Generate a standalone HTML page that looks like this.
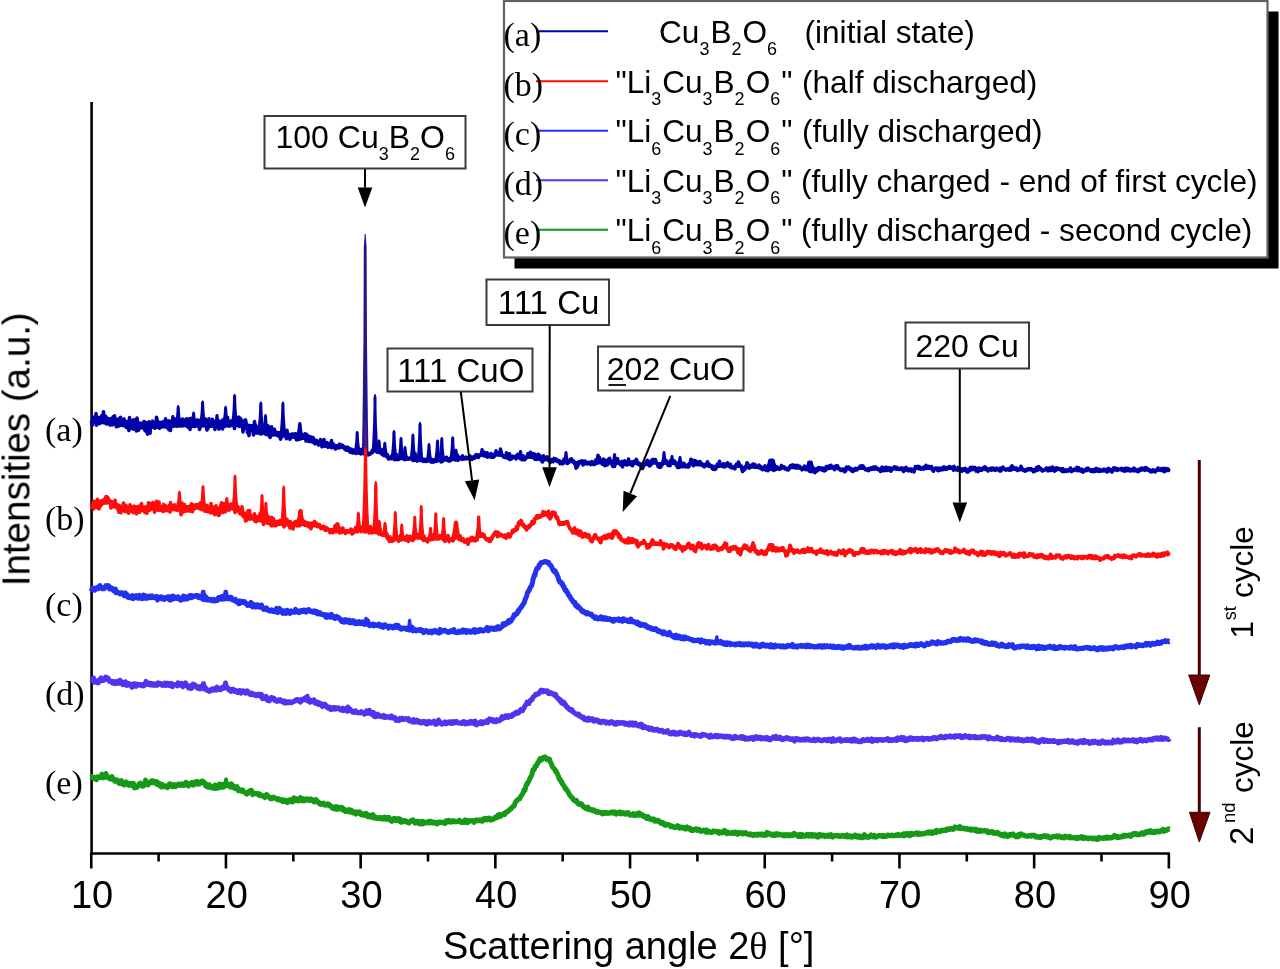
<!DOCTYPE html>
<html><head><meta charset="utf-8"><style>
html,body{margin:0;padding:0;background:#fff;width:1280px;height:969px;overflow:hidden}
svg{display:block}
</style></head><body>
<svg width="1280" height="969" viewBox="0 0 1280 969">
<defs><filter id="soft" x="0" y="0" width="1280" height="969" filterUnits="userSpaceOnUse"><feGaussianBlur stdDeviation="0.45"/></filter></defs>
<rect width="1280" height="969" fill="#fff"/>
<g filter="url(#soft)">
<rect width="1280" height="969" fill="#fff"/>
<g stroke="#000" stroke-width="2.6" fill="none">
<line x1="91.6" y1="102" x2="91.6" y2="855"/>
<line x1="90.3" y1="853.5" x2="1169.8" y2="853.5"/>
<line x1="91.25" y1="853" x2="91.25" y2="868.5"/>
<line x1="158.60" y1="853" x2="158.60" y2="861.5"/>
<line x1="225.95" y1="853" x2="225.95" y2="868.5"/>
<line x1="293.30" y1="853" x2="293.30" y2="861.5"/>
<line x1="360.65" y1="853" x2="360.65" y2="868.5"/>
<line x1="428.00" y1="853" x2="428.00" y2="861.5"/>
<line x1="495.35" y1="853" x2="495.35" y2="868.5"/>
<line x1="562.70" y1="853" x2="562.70" y2="861.5"/>
<line x1="630.05" y1="853" x2="630.05" y2="868.5"/>
<line x1="697.40" y1="853" x2="697.40" y2="861.5"/>
<line x1="764.75" y1="853" x2="764.75" y2="868.5"/>
<line x1="832.10" y1="853" x2="832.10" y2="861.5"/>
<line x1="899.45" y1="853" x2="899.45" y2="868.5"/>
<line x1="966.80" y1="853" x2="966.80" y2="861.5"/>
<line x1="1034.15" y1="853" x2="1034.15" y2="868.5"/>
<line x1="1101.50" y1="853" x2="1101.50" y2="861.5"/>
<line x1="1168.85" y1="853" x2="1168.85" y2="868.5"/>
</g>
<g style="font-family:'Liberation Sans',sans-serif;font-size:38px" fill="#000" text-anchor="middle">
<text x="92.05" y="907.5">10</text>
<text x="226.75" y="907.5">20</text>
<text x="361.45" y="907.5">30</text>
<text x="496.15" y="907.5">40</text>
<text x="630.85" y="907.5">50</text>
<text x="765.55" y="907.5">60</text>
<text x="900.25" y="907.5">70</text>
<text x="1034.95" y="907.5">80</text>
<text x="1169.65" y="907.5">90</text>
</g>
<text x="443" y="959.3" style="font-family:'Liberation Sans',sans-serif;font-size:38px">Scattering angle 2<tspan style="font-family:'Liberation Serif',serif">θ</tspan> [°]</text>
<text transform="translate(29.5,586.2) rotate(-90)" style="font-family:'Liberation Sans',sans-serif;font-size:38.5px">Intensities (a.u.)</text>
<g style="font-family:'Liberation Serif',serif;font-size:34px">
<text x="45" y="441.3">(a)</text>
<text x="45" y="530.2">(b)</text>
<text x="45" y="616.2">(c)</text>
<text x="45" y="705.3">(d)</text>
<text x="45" y="794.4">(e)</text>
</g>
<g fill="#0000a8"><polygon points="91.5,415.3 92.5,415.3 93.5,415.4 94.5,415.4 95.5,415.5 96.5,415.5 97.5,415.6 98.5,415.7 99.5,415.7 100.5,415.8 101.5,416.0 102.5,416.1 103.5,416.3 104.5,416.5 105.5,416.6 106.5,416.8 107.5,416.9 108.5,417.1 109.5,417.3 110.5,417.4 111.5,417.6 112.5,417.7 113.5,417.9 114.5,418.1 115.5,418.2 116.5,418.4 117.5,418.5 118.5,418.7 119.5,418.8 120.5,419.0 121.5,419.1 122.5,419.2 123.5,419.4 124.5,419.5 125.5,419.6 126.5,419.7 127.5,419.9 128.5,420.0 129.5,420.1 130.5,420.2 131.5,420.4 132.5,420.5 133.5,420.6 134.5,420.8 135.5,420.9 136.5,421.0 137.5,421.1 138.5,421.3 139.5,421.4 140.5,421.5 141.5,421.6 142.5,421.7 143.5,421.8 144.5,421.7 145.5,421.7 146.5,421.6 147.5,421.6 148.5,421.5 149.5,421.4 150.5,421.4 151.5,421.3 152.5,421.2 153.5,421.2 154.5,421.1 155.5,421.1 156.5,421.0 157.5,420.9 158.5,420.9 159.5,420.8 160.5,420.7 161.5,420.7 162.5,420.6 163.5,420.5 164.5,420.5 165.5,420.4 166.5,420.4 167.5,420.3 168.5,420.3 169.5,420.2 170.5,420.2 171.5,420.1 172.5,420.1 173.5,420.0 174.5,420.0 175.5,419.9 176.5,419.9 177.5,419.8 178.5,419.8 179.5,419.7 180.5,419.7 181.5,419.6 182.5,419.6 183.5,419.5 184.5,419.5 185.5,419.5 186.5,419.5 187.5,419.5 188.5,419.5 189.5,419.5 190.5,419.6 191.5,419.6 192.5,419.6 193.5,419.6 194.5,419.7 195.5,419.7 196.5,419.7 197.5,419.7 198.5,419.8 199.5,419.8 200.5,419.8 201.5,419.8 202.5,419.9 203.5,419.9 204.5,419.9 205.5,419.9 206.5,420.0 207.5,420.0 208.5,420.0 209.5,420.0 210.5,419.9 211.5,419.9 212.5,419.9 213.5,419.9 214.5,419.9 215.5,419.9 216.5,419.9 217.5,419.8 218.5,419.8 219.5,419.8 220.5,419.8 221.5,419.8 222.5,419.8 223.5,419.8 224.5,419.8 225.5,419.7 226.5,419.7 227.5,419.7 228.5,419.7 229.5,419.7 230.5,419.7 231.5,419.7 232.5,419.7 233.5,419.6 234.5,419.6 235.5,419.6 236.5,419.6 237.5,419.6 238.5,419.6 239.5,419.7 240.5,419.9 241.5,420.4 242.5,420.9 243.5,421.4 244.5,422.0 245.5,422.5 246.5,423.0 247.5,423.4 248.5,423.7 249.5,423.8 250.5,424.0 251.5,424.2 252.5,424.3 253.5,424.5 254.5,424.7 255.5,424.9 256.5,425.1 257.5,425.4 258.5,425.7 259.5,426.0 260.5,426.2 261.5,426.5 262.5,426.8 263.5,427.1 264.5,427.3 265.5,427.6 266.5,427.9 267.5,428.2 268.5,428.4 269.5,428.7 270.5,429.0 271.5,429.3 272.5,429.5 273.5,429.8 274.5,430.1 275.5,430.3 276.5,430.5 277.5,430.7 278.5,430.9 279.5,431.1 280.5,431.2 281.5,431.4 282.5,431.6 283.5,431.8 284.5,432.0 285.5,432.1 286.5,432.3 287.5,432.5 288.5,432.7 289.5,432.8 290.5,433.0 291.5,433.2 292.5,433.4 293.5,433.5 294.5,433.7 295.5,433.9 296.5,434.1 297.5,434.2 298.5,434.4 299.5,434.6 300.5,434.7 301.5,434.9 302.5,435.1 303.5,435.2 304.5,435.4 305.5,435.7 306.5,436.0 307.5,436.4 308.5,436.7 309.5,437.1 310.5,437.4 311.5,437.8 312.5,438.1 313.5,438.5 314.5,438.8 315.5,439.2 316.5,439.5 317.5,439.9 318.5,440.2 319.5,440.6 320.5,440.9 321.5,441.1 322.5,441.4 323.5,441.6 324.5,441.9 325.5,442.1 326.5,442.4 327.5,442.6 328.5,442.9 329.5,443.1 330.5,443.4 331.5,443.7 332.5,443.9 333.5,444.2 334.5,444.4 335.5,444.6 336.5,444.8 337.5,444.9 338.5,445.1 339.5,445.3 340.5,445.5 341.5,445.6 342.5,445.8 343.5,446.0 344.5,446.2 345.5,446.5 346.5,446.9 347.5,447.3 348.5,447.8 349.5,448.3 350.5,448.7 351.5,449.2 352.5,449.6 353.5,449.8 354.5,450.0 355.5,450.2 356.5,450.3 357.5,450.4 358.5,450.6 359.5,450.7 360.5,450.8 361.5,451.0 362.5,451.1 363.5,451.2 364.5,451.4 365.5,451.5 366.5,451.7 367.5,451.8 368.5,451.9 369.5,452.0 370.5,451.8 371.5,451.4 372.5,451.0 373.5,450.5 374.5,450.0 375.5,449.7 376.5,449.7 377.5,449.9 378.5,450.3 379.5,450.7 380.5,451.2 381.5,451.7 382.5,452.3 383.5,452.9 384.5,453.5 385.5,454.1 386.5,454.7 387.5,455.3 388.5,455.9 389.5,456.4 390.5,456.7 391.5,456.8 392.5,456.8 393.5,456.8 394.5,456.8 395.5,456.8 396.5,456.8 397.5,456.8 398.5,456.8 399.5,456.8 400.5,456.9 401.5,457.0 402.5,457.1 403.5,457.2 404.5,457.3 405.5,457.4 406.5,457.5 407.5,457.6 408.5,457.7 409.5,457.8 410.5,457.9 411.5,458.0 412.5,458.1 413.5,458.3 414.5,458.4 415.5,458.5 416.5,458.7 417.5,458.8 418.5,458.9 419.5,459.1 420.5,459.2 421.5,459.3 422.5,459.4 423.5,459.6 424.5,459.7 425.5,459.7 426.5,459.6 427.5,459.5 428.5,459.4 429.5,459.3 430.5,459.2 431.5,459.1 432.5,459.0 433.5,458.9 434.5,458.8 435.5,458.8 436.5,458.8 437.5,458.8 438.5,458.8 439.5,458.8 440.5,458.8 441.5,458.8 442.5,458.8 443.5,458.8 444.5,458.8 445.5,458.8 446.5,458.7 447.5,458.6 448.5,458.5 449.5,458.4 450.5,458.2 451.5,458.1 452.5,457.9 453.5,457.7 454.5,457.6 455.5,457.4 456.5,457.3 457.5,457.1 458.5,457.0 459.5,456.8 460.5,456.8 461.5,456.7 462.5,456.7 463.5,456.7 464.5,456.7 465.5,456.7 466.5,456.7 467.5,456.7 468.5,456.7 469.5,456.7 470.5,456.6 471.5,456.4 472.5,456.2 473.5,455.9 474.5,455.7 475.5,455.5 476.5,455.3 477.5,455.1 478.5,454.8 479.5,454.6 480.5,454.4 481.5,454.2 482.5,454.1 483.5,454.1 484.5,454.1 485.5,454.1 486.5,454.1 487.5,454.1 488.5,454.1 489.5,454.1 490.5,454.1 491.5,454.1 492.5,454.1 493.5,454.1 494.5,454.1 495.5,454.1 496.5,454.1 497.5,454.1 498.5,454.1 499.5,454.1 500.5,454.1 501.5,454.2 502.5,454.2 503.5,454.3 504.5,454.3 505.5,454.4 506.5,454.4 507.5,454.5 508.5,454.5 509.5,454.6 510.5,454.6 511.5,454.7 512.5,454.7 513.5,454.8 514.5,454.8 515.5,454.9 516.5,454.9 517.5,455.0 518.5,455.0 519.5,455.1 520.5,455.2 521.5,455.3 522.5,455.5 523.5,455.6 524.5,455.7 525.5,455.9 526.5,456.0 527.5,456.2 528.5,456.3 529.5,456.4 530.5,456.6 531.5,456.7 532.5,456.9 533.5,457.0 534.5,457.1 535.5,457.3 536.5,457.4 537.5,457.6 538.5,457.7 539.5,457.8 540.5,458.0 541.5,458.1 542.5,458.3 543.5,458.4 544.5,458.5 545.5,458.7 546.5,458.8 547.5,459.0 548.5,459.1 549.5,459.2 550.5,459.4 551.5,459.5 552.5,459.6 553.5,459.7 554.5,459.7 555.5,459.8 556.5,459.9 557.5,459.9 558.5,460.0 559.5,460.0 560.5,460.1 561.5,460.2 562.5,460.2 563.5,460.3 564.5,460.3 565.5,460.4 566.5,460.5 567.5,460.5 568.5,460.6 569.5,460.6 570.5,460.7 571.5,460.8 572.5,460.8 573.5,460.9 574.5,460.9 575.5,461.0 576.5,461.1 577.5,461.1 578.5,461.2 579.5,461.2 580.5,461.3 581.5,461.4 582.5,461.4 583.5,461.5 584.5,461.5 585.5,461.6 586.5,461.7 587.5,461.7 588.5,461.8 589.5,461.8 590.5,461.9 591.5,462.0 592.5,462.0 593.5,462.1 594.5,462.1 595.5,462.1 596.5,462.1 597.5,462.1 598.5,462.1 599.5,462.2 600.5,462.2 601.5,462.2 602.5,462.2 603.5,462.2 604.5,462.2 605.5,462.2 606.5,462.2 607.5,462.2 608.5,462.2 609.5,462.3 610.5,462.3 611.5,462.3 612.5,462.3 613.5,462.3 614.5,462.3 615.5,462.3 616.5,462.3 617.5,462.3 618.5,462.3 619.5,462.3 620.5,462.4 621.5,462.4 622.5,462.4 623.5,462.4 624.5,462.4 625.5,462.4 626.5,462.4 627.5,462.4 628.5,462.4 629.5,462.4 630.5,462.5 631.5,462.5 632.5,462.5 633.5,462.5 634.5,462.5 635.5,462.5 636.5,462.5 637.5,462.5 638.5,462.5 639.5,462.5 640.5,462.6 641.5,462.6 642.5,462.6 643.5,462.6 644.5,462.6 645.5,462.6 646.5,462.6 647.5,462.5 648.5,462.5 649.5,462.4 650.5,462.4 651.5,462.4 652.5,462.4 653.5,462.3 654.5,462.3 655.5,462.2 656.5,462.2 657.5,462.2 658.5,462.2 659.5,462.1 660.5,462.1 661.5,462.2 662.5,462.2 663.5,462.3 664.5,462.3 665.5,462.4 666.5,462.4 667.5,462.5 668.5,462.5 669.5,462.6 670.5,462.6 671.5,462.7 672.5,462.7 673.5,462.8 674.5,462.8 675.5,462.9 676.5,462.9 677.5,463.0 678.5,463.0 679.5,463.1 680.5,463.1 681.5,463.2 682.5,463.2 683.5,463.3 684.5,463.3 685.5,463.4 686.5,463.4 687.5,463.5 688.5,463.5 689.5,463.6 690.5,463.6 691.5,463.7 692.5,463.7 693.5,463.8 694.5,463.8 695.5,463.9 696.5,463.9 697.5,464.0 698.5,464.0 699.5,464.1 700.5,464.1 701.5,464.2 702.5,464.2 703.5,464.2 704.5,464.3 705.5,464.3 706.5,464.4 707.5,464.4 708.5,464.5 709.5,464.5 710.5,464.5 711.5,464.6 712.5,464.6 713.5,464.7 714.5,464.7 715.5,464.8 716.5,464.8 717.5,464.8 718.5,464.9 719.5,464.9 720.5,465.0 721.5,465.0 722.5,465.1 723.5,465.1 724.5,465.1 725.5,465.2 726.5,465.2 727.5,465.3 728.5,465.3 729.5,465.4 730.5,465.4 731.5,465.4 732.5,465.5 733.5,465.5 734.5,465.6 735.5,465.6 736.5,465.6 737.5,465.7 738.5,465.7 739.5,465.8 740.5,465.8 741.5,465.9 742.5,465.9 743.5,465.9 744.5,466.0 745.5,466.0 746.5,466.1 747.5,466.1 748.5,466.2 749.5,466.2 750.5,466.2 751.5,466.3 752.5,466.3 753.5,466.4 754.5,466.4 755.5,466.5 756.5,466.5 757.5,466.5 758.5,466.6 759.5,466.6 760.5,466.6 761.5,466.7 762.5,466.7 763.5,466.7 764.5,466.7 765.5,466.7 766.5,466.7 767.5,466.7 768.5,466.8 769.5,466.8 770.5,466.8 771.5,466.8 772.5,466.8 773.5,466.8 774.5,466.8 775.5,466.9 776.5,466.9 777.5,466.9 778.5,466.9 779.5,466.9 780.5,466.9 781.5,466.9 782.5,466.9 783.5,467.0 784.5,467.0 785.5,467.0 786.5,467.0 787.5,467.0 788.5,467.0 789.5,467.0 790.5,467.0 791.5,467.1 792.5,467.1 793.5,467.1 794.5,467.1 795.5,467.1 796.5,467.1 797.5,467.1 798.5,467.2 799.5,467.2 800.5,467.2 801.5,467.2 802.5,467.2 803.5,467.2 804.5,467.2 805.5,467.2 806.5,467.2 807.5,467.2 808.5,467.3 809.5,467.3 810.5,467.3 811.5,467.3 812.5,467.3 813.5,467.3 814.5,467.3 815.5,467.3 816.5,467.3 817.5,467.3 818.5,467.3 819.5,467.4 820.5,467.4 821.5,467.4 822.5,467.4 823.5,467.4 824.5,467.4 825.5,467.4 826.5,467.4 827.5,467.4 828.5,467.4 829.5,467.4 830.5,467.5 831.5,467.5 832.5,467.5 833.5,467.5 834.5,467.5 835.5,467.5 836.5,467.5 837.5,467.5 838.5,467.5 839.5,467.5 840.5,467.5 841.5,467.6 842.5,467.6 843.5,467.6 844.5,467.6 845.5,467.6 846.5,467.6 847.5,467.6 848.5,467.6 849.5,467.6 850.5,467.6 851.5,467.6 852.5,467.7 853.5,467.7 854.5,467.7 855.5,467.7 856.5,467.7 857.5,467.7 858.5,467.7 859.5,467.7 860.5,467.7 861.5,467.7 862.5,467.7 863.5,467.7 864.5,467.7 865.5,467.7 866.5,467.7 867.5,467.7 868.5,467.7 869.5,467.7 870.5,467.7 871.5,467.7 872.5,467.7 873.5,467.7 874.5,467.7 875.5,467.7 876.5,467.7 877.5,467.7 878.5,467.7 879.5,467.7 880.5,467.7 881.5,467.7 882.5,467.7 883.5,467.7 884.5,467.7 885.5,467.7 886.5,467.7 887.5,467.7 888.5,467.7 889.5,467.7 890.5,467.7 891.5,467.7 892.5,467.7 893.5,467.7 894.5,467.7 895.5,467.7 896.5,467.7 897.5,467.7 898.5,467.7 899.5,467.7 900.5,467.7 901.5,467.7 902.5,467.7 903.5,467.7 904.5,467.7 905.5,467.7 906.5,467.7 907.5,467.7 908.5,467.7 909.5,467.7 910.5,467.7 911.5,467.7 912.5,467.7 913.5,467.7 914.5,467.7 915.5,467.7 916.5,467.7 917.5,467.7 918.5,467.7 919.5,467.7 920.5,467.7 921.5,467.7 922.5,467.7 923.5,467.7 924.5,467.7 925.5,467.7 926.5,467.7 927.5,467.7 928.5,467.7 929.5,467.7 930.5,467.7 931.5,467.7 932.5,467.7 933.5,467.7 934.5,467.7 935.5,467.7 936.5,467.7 937.5,467.8 938.5,467.8 939.5,467.8 940.5,467.8 941.5,467.8 942.5,467.8 943.5,467.8 944.5,467.8 945.5,467.8 946.5,467.8 947.5,467.8 948.5,467.8 949.5,467.8 950.5,467.8 951.5,467.8 952.5,467.8 953.5,467.8 954.5,467.8 955.5,467.8 956.5,467.8 957.5,467.8 958.5,467.8 959.5,467.9 960.5,467.9 961.5,467.9 962.5,467.9 963.5,467.9 964.5,467.9 965.5,467.9 966.5,467.9 967.5,467.9 968.5,467.9 969.5,468.0 970.5,468.0 971.5,468.0 972.5,468.0 973.5,468.0 974.5,468.0 975.5,468.0 976.5,468.0 977.5,468.0 978.5,468.1 979.5,468.1 980.5,468.1 981.5,468.1 982.5,468.1 983.5,468.1 984.5,468.1 985.5,468.1 986.5,468.1 987.5,468.1 988.5,468.2 989.5,468.2 990.5,468.2 991.5,468.2 992.5,468.2 993.5,468.2 994.5,468.2 995.5,468.2 996.5,468.2 997.5,468.2 998.5,468.3 999.5,468.3 1000.5,468.3 1001.5,468.3 1002.5,468.3 1003.5,468.3 1004.5,468.3 1005.5,468.3 1006.5,468.3 1007.5,468.4 1008.5,468.4 1009.5,468.4 1010.5,468.4 1011.5,468.4 1012.5,468.4 1013.5,468.4 1014.5,468.4 1015.5,468.4 1016.5,468.4 1017.5,468.5 1018.5,468.5 1019.5,468.5 1020.5,468.5 1021.5,468.5 1022.5,468.5 1023.5,468.5 1024.5,468.5 1025.5,468.5 1026.5,468.5 1027.5,468.6 1028.5,468.6 1029.5,468.6 1030.5,468.6 1031.5,468.6 1032.5,468.6 1033.5,468.6 1034.5,468.6 1035.5,468.6 1036.5,468.7 1037.5,468.7 1038.5,468.7 1039.5,468.7 1040.5,468.7 1041.5,468.7 1042.5,468.7 1043.5,468.7 1044.5,468.7 1045.5,468.7 1046.5,468.8 1047.5,468.8 1048.5,468.8 1049.5,468.8 1050.5,468.8 1051.5,468.8 1052.5,468.8 1053.5,468.8 1054.5,468.8 1055.5,468.8 1056.5,468.8 1057.5,468.8 1058.5,468.8 1059.5,468.8 1060.5,468.8 1061.5,468.8 1062.5,468.8 1063.5,468.8 1064.5,468.8 1065.5,468.8 1066.5,468.8 1067.5,468.8 1068.5,468.8 1069.5,468.8 1070.5,468.8 1071.5,468.8 1072.5,468.8 1073.5,468.8 1074.5,468.8 1075.5,468.8 1076.5,468.8 1077.5,468.8 1078.5,468.8 1079.5,468.8 1080.5,468.8 1081.5,468.8 1082.5,468.8 1083.5,468.8 1084.5,468.8 1085.5,468.8 1086.5,468.8 1087.5,468.8 1088.5,468.8 1089.5,468.8 1090.5,468.8 1091.5,468.8 1092.5,468.8 1093.5,468.8 1094.5,468.8 1095.5,468.8 1096.5,468.8 1097.5,468.8 1098.5,468.8 1099.5,468.8 1100.5,468.8 1101.5,468.8 1102.5,468.8 1103.5,468.8 1104.5,468.8 1105.5,468.8 1106.5,468.8 1107.5,468.8 1108.5,468.8 1109.5,468.8 1110.5,468.8 1111.5,468.8 1112.5,468.8 1113.5,468.8 1114.5,468.8 1115.5,468.8 1116.5,468.8 1117.5,468.8 1118.5,468.8 1119.5,468.8 1120.5,468.8 1121.5,468.8 1122.5,468.8 1123.5,468.8 1124.5,468.8 1125.5,468.8 1126.5,468.8 1127.5,468.8 1128.5,468.8 1129.5,468.8 1130.5,468.8 1131.5,468.8 1132.5,468.8 1133.5,468.8 1134.5,468.8 1135.5,468.8 1136.5,468.8 1137.5,468.8 1138.5,468.8 1139.5,468.8 1140.5,468.8 1141.5,468.8 1142.5,468.8 1143.5,468.8 1144.5,468.8 1145.5,468.8 1146.5,468.8 1147.5,468.8 1148.5,468.8 1149.5,468.8 1150.5,468.8 1151.5,468.8 1152.5,468.8 1153.5,468.8 1154.5,468.8 1155.5,468.8 1156.5,468.8 1157.5,468.8 1158.5,468.8 1159.5,468.8 1160.5,468.8 1161.5,468.8 1162.5,468.8 1163.5,468.8 1164.5,468.8 1165.5,468.8 1166.5,468.8 1167.5,468.8 1168.5,468.8 1169.5,468.8 1169.5,470.8 1168.5,470.8 1167.5,470.8 1166.5,470.8 1165.5,470.8 1164.5,470.8 1163.5,470.8 1162.5,470.8 1161.5,470.8 1160.5,470.8 1159.5,470.8 1158.5,470.8 1157.5,470.8 1156.5,470.8 1155.5,470.8 1154.5,470.8 1153.5,470.8 1152.5,470.8 1151.5,470.8 1150.5,470.8 1149.5,470.8 1148.5,470.8 1147.5,470.8 1146.5,470.8 1145.5,470.8 1144.5,470.8 1143.5,470.8 1142.5,470.8 1141.5,470.8 1140.5,470.8 1139.5,470.8 1138.5,470.8 1137.5,470.8 1136.5,470.8 1135.5,470.8 1134.5,470.8 1133.5,470.8 1132.5,470.8 1131.5,470.8 1130.5,470.8 1129.5,470.8 1128.5,470.8 1127.5,470.8 1126.5,470.8 1125.5,470.8 1124.5,470.8 1123.5,470.8 1122.5,470.8 1121.5,470.8 1120.5,470.8 1119.5,470.8 1118.5,470.8 1117.5,470.8 1116.5,470.8 1115.5,470.8 1114.5,470.8 1113.5,470.8 1112.5,470.8 1111.5,470.8 1110.5,470.8 1109.5,470.8 1108.5,470.8 1107.5,470.8 1106.5,470.8 1105.5,470.8 1104.5,470.8 1103.5,470.8 1102.5,470.8 1101.5,470.8 1100.5,470.8 1099.5,470.8 1098.5,470.8 1097.5,470.8 1096.5,470.8 1095.5,470.8 1094.5,470.8 1093.5,470.8 1092.5,470.8 1091.5,470.8 1090.5,470.8 1089.5,470.8 1088.5,470.8 1087.5,470.8 1086.5,470.8 1085.5,470.8 1084.5,470.8 1083.5,470.8 1082.5,470.8 1081.5,470.8 1080.5,470.8 1079.5,470.8 1078.5,470.8 1077.5,470.8 1076.5,470.8 1075.5,470.8 1074.5,470.8 1073.5,470.8 1072.5,470.8 1071.5,470.8 1070.5,470.8 1069.5,470.8 1068.5,470.8 1067.5,470.8 1066.5,470.8 1065.5,470.8 1064.5,470.8 1063.5,470.8 1062.5,470.8 1061.5,470.8 1060.5,470.8 1059.5,470.8 1058.5,470.8 1057.5,470.8 1056.5,470.8 1055.5,470.8 1054.5,470.8 1053.5,470.8 1052.5,470.8 1051.5,470.8 1050.5,470.8 1049.5,470.8 1048.5,470.8 1047.5,470.8 1046.5,470.8 1045.5,470.8 1044.5,470.8 1043.5,470.7 1042.5,470.7 1041.5,470.7 1040.5,470.7 1039.5,470.7 1038.5,470.7 1037.5,470.7 1036.5,470.7 1035.5,470.7 1034.5,470.7 1033.5,470.6 1032.5,470.6 1031.5,470.6 1030.5,470.6 1029.5,470.6 1028.5,470.6 1027.5,470.6 1026.5,470.6 1025.5,470.6 1024.5,470.6 1023.5,470.6 1022.5,470.5 1021.5,470.5 1020.5,470.5 1019.5,470.5 1018.5,470.5 1017.5,470.5 1016.5,470.5 1015.5,470.5 1014.5,470.5 1013.5,470.5 1012.5,470.4 1011.5,470.4 1010.5,470.4 1009.5,470.4 1008.5,470.4 1007.5,470.4 1006.5,470.4 1005.5,470.4 1004.5,470.4 1003.5,470.4 1002.5,470.3 1001.5,470.3 1000.5,470.3 999.5,470.3 998.5,470.3 997.5,470.3 996.5,470.3 995.5,470.3 994.5,470.3 993.5,470.3 992.5,470.3 991.5,470.2 990.5,470.2 989.5,470.2 988.5,470.2 987.5,470.2 986.5,470.2 985.5,470.2 984.5,470.2 983.5,470.2 982.5,470.2 981.5,470.1 980.5,470.1 979.5,470.1 978.5,470.1 977.5,470.1 976.5,470.1 975.5,470.1 974.5,470.1 973.5,470.1 972.5,470.1 971.5,470.1 970.5,470.0 969.5,470.0 968.5,470.0 967.5,470.0 966.5,470.0 965.5,470.0 964.5,470.0 963.5,470.0 962.5,470.0 961.5,470.0 960.5,469.9 959.5,469.9 958.5,469.9 957.5,469.9 956.5,469.9 955.5,469.9 954.5,469.9 953.5,469.9 952.5,469.9 951.5,469.9 950.5,469.9 949.5,469.8 948.5,469.8 947.5,469.8 946.5,469.8 945.5,469.8 944.5,469.8 943.5,469.8 942.5,469.8 941.5,469.8 940.5,469.8 939.5,469.8 938.5,469.8 937.5,469.9 936.5,469.9 935.5,469.9 934.5,469.9 933.5,469.9 932.5,469.9 931.5,469.9 930.5,469.9 929.5,469.9 928.5,469.9 927.5,469.9 926.5,469.9 925.5,469.9 924.5,469.9 923.5,469.9 922.5,469.9 921.5,469.9 920.5,469.9 919.5,469.9 918.5,469.9 917.5,469.9 916.5,469.9 915.5,469.9 914.5,469.9 913.5,469.9 912.5,469.9 911.5,469.9 910.5,469.9 909.5,469.9 908.5,469.9 907.5,469.9 906.5,469.9 905.5,469.9 904.5,469.9 903.5,469.9 902.5,469.9 901.5,469.9 900.5,469.9 899.5,469.9 898.5,469.9 897.5,469.9 896.5,469.9 895.5,469.9 894.5,469.9 893.5,469.9 892.5,469.9 891.5,469.9 890.5,469.9 889.5,469.9 888.5,469.9 887.5,469.9 886.5,469.9 885.5,469.9 884.5,469.9 883.5,469.9 882.5,469.9 881.5,469.9 880.5,469.9 879.5,469.9 878.5,469.9 877.5,469.9 876.5,469.9 875.5,469.9 874.5,469.9 873.5,469.9 872.5,469.9 871.5,469.9 870.5,469.9 869.5,469.9 868.5,469.9 867.5,469.9 866.5,469.9 865.5,469.9 864.5,469.9 863.5,469.9 862.5,469.9 861.5,469.9 860.5,469.9 859.5,469.9 858.5,469.9 857.5,469.9 856.5,469.9 855.5,469.8 854.5,469.8 853.5,469.8 852.5,469.8 851.5,469.8 850.5,469.8 849.5,469.8 848.5,469.8 847.5,469.8 846.5,469.8 845.5,469.8 844.5,469.8 843.5,469.8 842.5,469.7 841.5,469.7 840.5,469.7 839.5,469.7 838.5,469.7 837.5,469.7 836.5,469.7 835.5,469.7 834.5,469.7 833.5,469.7 832.5,469.7 831.5,469.7 830.5,469.7 829.5,469.6 828.5,469.6 827.5,469.6 826.5,469.6 825.5,469.6 824.5,469.6 823.5,469.6 822.5,469.6 821.5,469.6 820.5,469.6 819.5,469.6 818.5,469.6 817.5,469.6 816.5,469.6 815.5,469.5 814.5,469.5 813.5,469.5 812.5,469.5 811.5,469.5 810.5,469.5 809.5,469.5 808.5,469.5 807.5,469.5 806.5,469.5 805.5,469.5 804.5,469.5 803.5,469.5 802.5,469.4 801.5,469.4 800.5,469.4 799.5,469.4 798.5,469.4 797.5,469.4 796.5,469.4 795.5,469.4 794.5,469.4 793.5,469.3 792.5,469.3 791.5,469.3 790.5,469.3 789.5,469.3 788.5,469.3 787.5,469.3 786.5,469.3 785.5,469.3 784.5,469.2 783.5,469.2 782.5,469.2 781.5,469.2 780.5,469.2 779.5,469.2 778.5,469.2 777.5,469.2 776.5,469.1 775.5,469.1 774.5,469.1 773.5,469.1 772.5,469.1 771.5,469.1 770.5,469.1 769.5,469.1 768.5,469.1 767.5,469.0 766.5,469.0 765.5,469.0 764.5,469.0 763.5,469.0 762.5,469.0 761.5,469.0 760.5,469.0 759.5,468.9 758.5,468.9 757.5,468.9 756.5,468.8 755.5,468.8 754.5,468.7 753.5,468.7 752.5,468.6 751.5,468.6 750.5,468.6 749.5,468.5 748.5,468.5 747.5,468.4 746.5,468.4 745.5,468.4 744.5,468.3 743.5,468.3 742.5,468.2 741.5,468.2 740.5,468.2 739.5,468.1 738.5,468.1 737.5,468.0 736.5,468.0 735.5,468.0 734.5,467.9 733.5,467.9 732.5,467.8 731.5,467.8 730.5,467.7 729.5,467.7 728.5,467.7 727.5,467.6 726.5,467.6 725.5,467.5 724.5,467.5 723.5,467.5 722.5,467.4 721.5,467.4 720.5,467.3 719.5,467.3 718.5,467.3 717.5,467.2 716.5,467.2 715.5,467.1 714.5,467.1 713.5,467.1 712.5,467.0 711.5,467.0 710.5,466.9 709.5,466.9 708.5,466.8 707.5,466.8 706.5,466.8 705.5,466.7 704.5,466.7 703.5,466.6 702.5,466.6 701.5,466.6 700.5,466.5 699.5,466.5 698.5,466.4 697.5,466.4 696.5,466.3 695.5,466.3 694.5,466.2 693.5,466.2 692.5,466.1 691.5,466.1 690.5,466.0 689.5,466.0 688.5,465.9 687.5,465.9 686.5,465.8 685.5,465.8 684.5,465.7 683.5,465.7 682.5,465.6 681.5,465.6 680.5,465.5 679.5,465.5 678.5,465.4 677.5,465.4 676.5,465.3 675.5,465.3 674.5,465.2 673.5,465.2 672.5,465.1 671.5,465.1 670.5,465.0 669.5,465.0 668.5,464.9 667.5,464.9 666.5,464.8 665.5,464.8 664.5,464.7 663.5,464.7 662.5,464.6 661.5,464.6 660.5,464.5 659.5,464.5 658.5,464.6 657.5,464.6 656.5,464.6 655.5,464.6 654.5,464.7 653.5,464.7 652.5,464.8 651.5,464.8 650.5,464.8 649.5,464.8 648.5,464.9 647.5,464.9 646.5,464.9 645.5,465.0 644.5,465.0 643.5,465.0 642.5,465.0 641.5,465.0 640.5,465.0 639.5,464.9 638.5,464.9 637.5,464.9 636.5,464.9 635.5,464.9 634.5,464.9 633.5,464.9 632.5,464.9 631.5,464.9 630.5,464.9 629.5,464.8 628.5,464.8 627.5,464.8 626.5,464.8 625.5,464.8 624.5,464.8 623.5,464.8 622.5,464.8 621.5,464.8 620.5,464.8 619.5,464.7 618.5,464.7 617.5,464.7 616.5,464.7 615.5,464.7 614.5,464.7 613.5,464.7 612.5,464.7 611.5,464.7 610.5,464.7 609.5,464.7 608.5,464.6 607.5,464.6 606.5,464.6 605.5,464.6 604.5,464.6 603.5,464.6 602.5,464.6 601.5,464.6 600.5,464.6 599.5,464.6 598.5,464.5 597.5,464.5 596.5,464.5 595.5,464.5 594.5,464.5 593.5,464.5 592.5,464.4 591.5,464.4 590.5,464.3 589.5,464.2 588.5,464.2 587.5,464.1 586.5,464.1 585.5,464.0 584.5,463.9 583.5,463.9 582.5,463.8 581.5,463.8 580.5,463.7 579.5,463.6 578.5,463.6 577.5,463.5 576.5,463.5 575.5,463.4 574.5,463.3 573.5,463.3 572.5,463.2 571.5,463.2 570.5,463.1 569.5,463.0 568.5,463.0 567.5,462.9 566.5,462.9 565.5,462.8 564.5,462.7 563.5,462.7 562.5,462.6 561.5,462.6 560.5,462.5 559.5,462.4 558.5,462.4 557.5,462.3 556.5,462.3 555.5,462.2 554.5,462.1 553.5,462.1 552.5,462.0 551.5,461.9 550.5,461.8 549.5,461.6 548.5,461.5 547.5,461.4 546.5,461.2 545.5,461.1 544.5,460.9 543.5,460.8 542.5,460.7 541.5,460.5 540.5,460.4 539.5,460.2 538.5,460.1 537.5,460.0 536.5,459.8 535.5,459.7 534.5,459.5 533.5,459.4 532.5,459.3 531.5,459.1 530.5,459.0 529.5,458.8 528.5,458.7 527.5,458.6 526.5,458.4 525.5,458.3 524.5,458.1 523.5,458.0 522.5,457.9 521.5,457.7 520.5,457.6 519.5,457.5 518.5,457.4 517.5,457.4 516.5,457.3 515.5,457.3 514.5,457.2 513.5,457.2 512.5,457.1 511.5,457.1 510.5,457.0 509.5,457.0 508.5,456.9 507.5,456.9 506.5,456.8 505.5,456.8 504.5,456.7 503.5,456.7 502.5,456.6 501.5,456.6 500.5,456.5 499.5,456.5 498.5,456.5 497.5,456.5 496.5,456.5 495.5,456.5 494.5,456.5 493.5,456.5 492.5,456.5 491.5,456.5 490.5,456.5 489.5,456.5 488.5,456.5 487.5,456.5 486.5,456.5 485.5,456.5 484.5,456.5 483.5,456.5 482.5,456.5 481.5,456.6 480.5,456.8 479.5,457.0 478.5,457.2 477.5,457.4 476.5,457.6 475.5,457.8 474.5,458.0 473.5,458.2 472.5,458.4 471.5,458.6 470.5,458.7 469.5,458.8 468.5,458.9 467.5,458.9 466.5,458.9 465.5,458.9 464.5,458.9 463.5,458.9 462.5,458.9 461.5,458.9 460.5,458.9 459.5,459.0 458.5,459.1 457.5,459.2 456.5,459.4 455.5,459.6 454.5,459.7 453.5,459.9 452.5,460.0 451.5,460.2 450.5,460.3 449.5,460.5 448.5,460.6 447.5,460.7 446.5,460.8 445.5,460.8 444.5,460.8 443.5,460.8 442.5,460.8 441.5,460.8 440.5,460.8 439.5,460.8 438.5,460.8 437.5,460.8 436.5,460.8 435.5,460.9 434.5,460.9 433.5,461.0 432.5,461.1 431.5,461.2 430.5,461.3 429.5,461.4 428.5,461.5 427.5,461.6 426.5,461.7 425.5,461.7 424.5,461.7 423.5,461.6 422.5,461.5 421.5,461.3 420.5,461.2 419.5,461.1 418.5,460.9 417.5,460.8 416.5,460.7 415.5,460.5 414.5,460.4 413.5,460.3 412.5,460.1 411.5,460.0 410.5,459.9 409.5,459.8 408.5,459.6 407.5,459.5 406.5,459.4 405.5,459.3 404.5,459.2 403.5,459.1 402.5,459.0 401.5,458.9 400.5,458.9 399.5,458.8 398.5,458.8 397.5,458.8 396.5,458.8 395.5,458.8 394.5,458.8 393.5,458.8 392.5,458.8 391.5,458.8 390.5,458.6 389.5,458.3 388.5,457.9 387.5,457.2 386.5,456.6 385.5,456.0 384.5,455.4 383.5,454.8 382.5,454.2 381.5,453.6 380.5,453.1 379.5,452.7 378.5,452.3 377.5,451.9 376.5,451.7 375.5,451.8 374.5,452.1 373.5,452.6 372.5,453.1 371.5,453.7 370.5,454.0 369.5,454.3 368.5,454.3 367.5,454.2 366.5,454.1 365.5,454.0 364.5,453.9 363.5,453.7 362.5,453.6 361.5,453.5 360.5,453.4 359.5,453.4 358.5,453.3 357.5,453.2 356.5,453.1 355.5,453.0 354.5,452.9 353.5,452.7 352.5,452.5 351.5,452.1 350.5,451.7 349.5,451.3 348.5,450.9 347.5,450.4 346.5,450.0 345.5,449.7 344.5,449.4 343.5,449.2 342.5,449.1 341.5,448.9 340.5,448.8 339.5,448.7 338.5,448.5 337.5,448.4 336.5,448.3 335.5,448.1 334.5,447.9 333.5,447.7 332.5,447.5 331.5,447.3 330.5,447.1 329.5,446.9 328.5,446.7 327.5,446.5 326.5,446.2 325.5,446.0 324.5,445.8 323.5,445.6 322.5,445.4 321.5,445.2 320.5,444.9 319.5,444.7 318.5,444.4 317.5,444.1 316.5,443.7 315.5,443.4 314.5,443.1 313.5,442.8 312.5,442.5 311.5,442.2 310.5,441.8 309.5,441.5 308.5,441.2 307.5,440.9 306.5,440.6 305.5,440.3 304.5,440.1 303.5,439.9 302.5,439.8 301.5,439.7 300.5,439.5 299.5,439.4 298.5,439.3 297.5,439.2 296.5,439.0 295.5,438.9 294.5,438.8 293.5,438.7 292.5,438.6 291.5,438.4 290.5,438.3 289.5,438.2 288.5,438.1 287.5,438.0 286.5,437.8 285.5,437.7 284.5,437.6 283.5,437.4 282.5,437.3 281.5,437.2 280.5,437.1 279.5,436.9 278.5,436.8 277.5,436.7 276.5,436.6 275.5,436.4 274.5,436.2 273.5,436.0 272.5,435.8 271.5,435.6 270.5,435.4 269.5,435.1 268.5,434.9 267.5,434.7 266.5,434.5 265.5,434.2 264.5,434.0 263.5,433.8 262.5,433.6 261.5,433.3 260.5,433.1 259.5,432.9 258.5,432.7 257.5,432.4 256.5,432.2 255.5,432.0 254.5,431.9 253.5,431.7 252.5,431.6 251.5,431.5 250.5,431.4 249.5,431.3 248.5,431.1 247.5,430.9 246.5,430.5 245.5,430.0 244.5,429.4 243.5,428.9 242.5,428.4 241.5,427.8 240.5,427.4 239.5,427.2 238.5,427.1 237.5,427.1 236.5,427.1 235.5,427.1 234.5,427.1 233.5,427.2 232.5,427.2 231.5,427.2 230.5,427.2 229.5,427.2 228.5,427.2 227.5,427.3 226.5,427.3 225.5,427.3 224.5,427.3 223.5,427.3 222.5,427.3 221.5,427.4 220.5,427.4 219.5,427.4 218.5,427.4 217.5,427.4 216.5,427.5 215.5,427.5 214.5,427.5 213.5,427.5 212.5,427.5 211.5,427.5 210.5,427.6 209.5,427.6 208.5,427.6 207.5,427.6 206.5,427.6 205.5,427.6 204.5,427.6 203.5,427.5 202.5,427.5 201.5,427.5 200.5,427.5 199.5,427.5 198.5,427.4 197.5,427.4 196.5,427.4 195.5,427.4 194.5,427.4 193.5,427.3 192.5,427.3 191.5,427.3 190.5,427.3 189.5,427.3 188.5,427.2 187.5,427.2 186.5,427.2 185.5,427.2 184.5,427.2 183.5,427.2 182.5,427.3 181.5,427.4 180.5,427.4 179.5,427.5 178.5,427.5 177.5,427.6 176.5,427.6 175.5,427.7 174.5,427.7 173.5,427.8 172.5,427.9 171.5,427.9 170.5,428.0 169.5,428.0 168.5,428.1 167.5,428.1 166.5,428.2 165.5,428.2 164.5,428.3 163.5,428.4 162.5,428.4 161.5,428.5 160.5,428.6 159.5,428.6 158.5,428.7 157.5,428.8 156.5,428.9 155.5,428.9 154.5,429.0 153.5,429.1 152.5,429.1 151.5,429.2 150.5,429.3 149.5,429.3 148.5,429.4 147.5,429.5 146.5,429.5 145.5,429.6 144.5,429.7 143.5,429.7 142.5,429.7 141.5,429.6 140.5,429.5 139.5,429.3 138.5,429.2 137.5,429.1 136.5,429.0 135.5,428.8 134.5,428.7 133.5,428.6 132.5,428.5 131.5,428.4 130.5,428.2 129.5,428.1 128.5,428.0 127.5,427.9 126.5,427.7 125.5,427.6 124.5,427.5 123.5,427.4 122.5,427.2 121.5,427.1 120.5,427.0 119.5,426.9 118.5,426.7 117.5,426.6 116.5,426.4 115.5,426.3 114.5,426.1 113.5,426.0 112.5,425.8 111.5,425.6 110.5,425.5 109.5,425.3 108.5,425.2 107.5,425.0 106.5,424.9 105.5,424.7 104.5,424.6 103.5,424.4 102.5,424.2 101.5,424.1 100.5,424.0 99.5,423.9 98.5,423.8 97.5,423.7 96.5,423.7 95.5,423.6 94.5,423.6 93.5,423.5 92.5,423.5 91.5,423.4"/><polygon points="169.2,424.9 169.9,423.5 170.3,422.0 170.8,420.0 171.1,418.0 171.2,416.5 171.6,415.6 172.3,415.0 173.3,415.0 174.0,415.6 174.4,416.5 174.5,418.0 174.8,420.0 175.3,422.0 175.7,423.5 176.4,424.9"/><polygon points="174.6,424.7 175.3,421.7 175.7,418.8 176.2,414.8 176.5,410.9 176.6,407.9 177.0,406.2 177.7,405.0 178.7,405.0 179.4,406.2 179.8,407.9 179.9,410.9 180.2,414.8 180.7,418.8 181.1,421.7 181.8,424.7"/><polygon points="190.0,424.5 190.7,422.6 191.1,420.6 191.6,418.0 191.9,415.5 192.0,413.5 192.4,412.4 193.1,411.6 194.1,411.6 194.8,412.4 195.2,413.5 195.3,415.5 195.6,418.0 196.1,420.6 196.5,422.6 197.2,424.5"/><polygon points="199.0,424.7 199.7,421.1 200.1,417.5 200.6,412.6 200.9,407.8 201.0,404.2 201.1,402.0 202.1,400.6 203.1,400.6 204.1,402.0 204.2,404.2 204.3,407.8 204.6,412.6 205.1,417.5 205.5,421.1 206.2,424.7"/><polygon points="213.4,424.6 214.1,423.1 214.5,421.5 215.0,419.3 215.3,417.2 215.4,415.6 215.8,414.6 216.5,414.0 217.5,414.0 218.2,414.6 218.6,415.6 218.7,417.2 219.0,419.3 219.5,421.5 219.9,423.1 220.6,424.6"/><polygon points="222.0,424.5 222.7,421.7 223.1,418.9 223.6,415.1 223.9,411.3 224.0,408.5 224.4,406.8 225.1,405.7 226.1,405.7 226.8,406.8 227.2,408.5 227.3,411.3 227.6,415.1 228.1,418.9 228.5,421.7 229.2,424.5"/><polygon points="231.0,424.4 231.7,419.8 232.1,415.3 232.6,409.2 232.9,403.1 233.0,398.6 233.1,395.8 234.1,394.0 235.1,394.0 236.1,395.8 236.2,398.6 236.3,403.1 236.6,409.2 237.1,415.3 237.5,419.8 238.2,424.4"/><polygon points="257.2,430.8 257.9,426.3 258.3,421.9 258.8,416.1 259.1,410.2 259.2,405.8 259.3,403.2 260.3,401.4 261.3,401.4 262.3,403.2 262.4,405.8 262.5,410.2 262.8,416.1 263.3,421.9 263.7,426.3 264.4,430.8"/><polygon points="261.9,431.9 262.6,429.2 263.0,426.5 263.5,423.0 263.8,419.4 263.9,416.7 264.3,415.1 265.0,414.0 266.0,414.0 266.7,415.1 267.1,416.7 267.2,419.4 267.5,423.0 268.0,426.5 268.4,429.2 269.1,431.9"/><polygon points="279.3,435.5 280.0,430.4 280.4,425.3 280.9,418.5 281.2,411.7 281.3,406.6 281.4,403.5 282.4,401.5 283.4,401.5 284.4,403.5 284.5,406.6 284.6,411.7 284.9,418.5 285.4,425.3 285.8,430.4 286.4,435.5"/><polygon points="295.5,438.0 296.2,435.6 296.8,433.2 297.4,430.0 297.8,426.8 297.9,424.4 298.3,423.0 299.1,422.0 300.5,422.0 301.3,423.0 301.7,424.4 301.8,426.8 302.2,430.0 302.8,433.2 303.4,435.6 304.1,438.0"/><polygon points="353.6,452.8 354.3,449.5 354.7,446.2 355.2,441.9 355.5,437.5 355.6,434.3 355.7,432.3 356.7,431.0 357.7,431.0 358.7,432.3 358.8,434.3 358.9,437.5 359.2,441.9 359.7,446.2 360.1,449.5 360.8,452.8"/><polygon points="361.9,453.7 362.5,420.7 362.9,387.8 363.4,343.8 363.6,299.9 363.7,267.0 363.8,247.2 364.7,234.0 365.7,234.0 366.6,247.2 366.7,267.0 366.8,299.9 367.0,343.8 367.5,387.8 367.9,420.7 368.5,453.7" fill="#22168c"/><polygon points="371.6,451.9 372.2,443.2 372.6,434.5 373.1,422.9 373.4,411.4 373.5,402.7 373.5,397.5 374.5,394.0 375.5,394.0 376.5,397.5 376.5,402.7 376.6,411.4 376.9,422.9 377.4,434.5 377.8,443.2 378.4,451.9" fill="#0a06a0"/><polygon points="375.4,452.5 376.1,450.5 376.5,448.6 377.0,445.9 377.3,443.3 377.4,441.4 377.8,440.2 378.5,439.4 379.5,439.4 380.2,440.2 380.6,441.4 380.7,443.3 381.0,445.9 381.5,448.6 381.9,450.5 382.6,452.5"/><polygon points="381.2,455.6 381.9,453.5 382.3,451.4 382.8,448.7 383.1,445.9 383.2,443.8 383.6,442.5 384.3,441.7 385.3,441.7 386.0,442.5 386.4,443.8 386.5,445.9 386.8,448.7 387.3,451.4 387.7,453.5 388.4,455.6"/><polygon points="390.4,458.8 391.1,454.5 391.5,450.2 392.0,444.4 392.3,438.6 392.4,434.3 392.5,431.7 393.5,430.0 394.5,430.0 395.5,431.7 395.6,434.3 395.7,438.6 396.0,444.4 396.5,450.2 396.9,454.5 397.6,458.8"/><polygon points="397.4,458.9 398.1,455.6 398.5,452.3 399.0,448.0 399.3,443.6 399.4,440.3 399.5,438.3 400.5,437.0 401.5,437.0 402.5,438.3 402.6,440.3 402.7,443.6 403.0,448.0 403.5,452.3 403.9,455.6 404.6,458.9"/><polygon points="401.4,459.3 402.1,457.3 402.5,455.3 403.0,452.6 403.3,450.0 403.4,448.0 403.8,446.8 404.5,446.0 405.5,446.0 406.2,446.8 406.6,448.0 406.7,450.0 407.0,452.6 407.5,455.3 407.9,457.3 408.6,459.3"/><polygon points="409.3,460.2 410.0,456.2 410.4,452.2 410.9,446.8 411.2,441.5 411.3,437.5 411.4,435.1 412.4,433.5 413.4,433.5 414.4,435.1 414.5,437.5 414.6,441.5 414.9,446.8 415.4,452.2 415.8,456.2 416.4,460.2"/><polygon points="416.4,461.1 417.1,455.2 417.5,449.3 418.0,441.5 418.3,433.6 418.4,427.7 418.5,424.2 419.5,421.8 420.5,421.8 421.5,424.2 421.6,427.7 421.7,433.6 422.0,441.5 422.5,449.3 422.9,455.2 423.6,461.1"/><polygon points="425.4,461.4 426.1,458.6 426.5,455.9 427.0,452.2 427.3,448.5 427.4,445.8 427.8,444.1 428.5,443.0 429.5,443.0 430.2,444.1 430.6,445.8 430.7,448.5 431.0,452.2 431.5,455.9 431.9,458.6 432.6,461.4"/><polygon points="433.9,460.8 434.6,457.6 435.0,454.4 435.5,450.1 435.8,445.8 435.9,442.6 436.0,440.7 437.0,439.4 438.0,439.4 439.0,440.7 439.1,442.6 439.2,445.8 439.5,450.1 440.0,454.4 440.4,457.6 441.1,460.8"/><polygon points="438.2,460.8 438.9,457.2 439.3,453.7 439.8,448.9 440.1,444.1 440.2,440.6 440.3,438.4 441.3,437.0 442.3,437.0 443.3,438.4 443.4,440.6 443.5,444.1 443.8,448.9 444.3,453.7 444.7,457.2 445.4,460.8"/><polygon points="449.1,459.9 449.8,456.4 450.2,452.8 450.7,448.1 451.0,443.4 451.1,439.8 451.2,437.7 452.2,436.2 453.2,436.2 454.2,437.7 454.3,439.8 454.4,443.4 454.7,448.1 455.2,452.8 455.6,456.4 456.2,459.9"/><polygon points="452.4,459.4 453.1,457.8 453.5,456.2 454.0,454.1 454.3,451.9 454.4,450.3 454.8,449.4 455.5,448.8 456.5,448.8 457.2,449.4 457.6,450.3 457.7,451.9 458.0,454.1 458.5,456.2 458.9,457.8 459.6,459.4"/><polygon points="478.4,456.4 479.1,455.1 479.5,453.9 480.0,452.2 480.3,450.5 480.4,449.3 480.8,448.5 481.5,448.0 482.5,448.0 483.2,448.5 483.6,449.3 483.7,450.5 484.0,452.2 484.5,453.9 484.9,455.1 485.6,456.4"/><polygon points="492.4,456.3 493.1,455.2 493.5,454.1 494.0,452.6 494.3,451.2 494.4,450.1 494.8,449.4 495.5,449.0 496.5,449.0 497.2,449.4 497.6,450.1 497.7,451.2 498.0,452.6 498.5,454.1 498.9,455.2 499.6,456.3"/><polygon points="517.0,457.4 517.6,456.3 518.0,455.2 518.5,453.7 518.8,452.2 518.9,451.1 519.3,450.4 520.0,450.0 521.0,450.0 521.7,450.4 522.1,451.1 522.2,452.2 522.5,453.7 523.0,455.2 523.4,456.3 524.0,457.4"/><polygon points="562.5,462.6 563.1,460.9 563.5,459.1 564.0,456.8 564.3,454.5 564.4,452.7 564.8,451.7 565.5,451.0 566.5,451.0 567.2,451.7 567.6,452.7 567.7,454.5 568.0,456.8 568.5,459.1 568.9,460.9 569.5,462.6"/><polygon points="611.0,464.5 611.6,462.8 612.0,461.1 612.5,458.8 612.8,456.5 612.9,454.7 613.3,453.7 614.0,453.0 615.0,453.0 615.7,453.7 616.1,454.7 616.2,456.5 616.5,458.8 617.0,461.1 617.4,462.8 618.0,464.5"/><polygon points="660.5,464.5 661.1,462.5 661.5,460.4 662.0,457.8 662.3,455.1 662.4,453.0 662.8,451.8 663.5,451.0 664.5,451.0 665.2,451.8 665.6,453.0 665.7,455.1 666.0,457.8 666.5,460.4 666.9,462.5 667.5,464.5"/><polygon points="668.5,464.9 669.1,463.4 669.5,461.9 670.0,459.9 670.3,458.0 670.4,456.5 670.8,455.6 671.5,455.0 672.5,455.0 673.2,455.6 673.6,456.5 673.7,458.0 674.0,459.9 674.5,461.9 674.9,463.4 675.5,464.9"/><polygon points="676.5,465.3 677.1,463.9 677.5,462.5 678.0,460.6 678.3,458.8 678.4,457.4 678.8,456.6 679.5,456.0 680.5,456.0 681.2,456.6 681.6,457.4 681.7,458.8 682.0,460.6 682.5,462.5 682.9,463.9 683.5,465.3"/><polygon points="764.0,468.9 765.2,467.4 766.3,465.8 767.3,463.7 767.9,461.6 768.1,460.0 768.9,459.0 770.3,458.4 772.7,458.4 774.1,459.0 774.9,460.0 775.1,461.6 775.7,463.7 776.7,465.8 777.8,467.4 779.0,468.9"/><polygon points="803.7,469.4 804.8,468.1 805.6,466.7 806.5,464.9 807.0,463.2 807.2,461.8 807.8,461.0 809.0,460.5 811.0,460.5 812.2,461.0 812.8,461.8 813.0,463.2 813.5,464.9 814.4,466.7 815.2,468.1 816.3,469.4"/></g><polyline fill="none" stroke="#0000a8" stroke-width="3.6" stroke-linejoin="round" points="91.5,420.5 92.0,425.2 92.5,424.9 93.0,419.1 93.5,419.7 94.0,418.8 94.5,422.3 95.0,419.9 95.5,422.5 96.0,413.5 96.5,425.2 97.0,419.7 97.5,422.5 98.0,420.0 98.5,419.3 99.0,422.3 99.5,423.6 100.0,420.0 100.5,420.0 101.0,422.8 101.5,417.6 102.0,415.5 102.5,422.1 103.0,418.6 103.5,411.7 104.0,418.5 104.5,419.8 105.0,417.4 105.5,416.2 106.0,421.2 106.5,424.0 107.0,420.0 107.5,418.2 108.0,422.0 108.5,423.3 109.0,420.1 109.5,423.3 110.0,425.1 110.5,421.0 111.0,418.8 111.5,422.6 112.0,422.2 112.5,425.0 113.0,416.9 113.5,419.1 114.0,418.6 114.5,415.7 115.0,419.4 115.5,423.5 116.0,419.4 116.5,426.8 117.0,425.1 117.5,424.7 118.0,424.2 118.5,426.2 119.0,418.6 119.5,425.2 120.0,423.2 120.5,417.2 121.0,424.2 121.5,422.1 122.0,425.3 122.5,420.9 123.0,421.9 123.5,421.4 124.0,419.0 124.5,424.1 125.0,422.1 125.5,424.6 126.0,421.7 126.5,427.5 127.0,426.2 127.5,423.8 128.0,426.5 128.5,428.7 129.0,430.4 129.5,417.5 130.0,427.4 130.5,425.9 131.0,424.0 131.5,420.9 132.0,428.5 132.5,420.3 133.0,426.6 133.5,429.2 134.0,419.8 134.5,424.1 135.0,420.7 135.5,425.6 136.0,427.8 136.5,430.9 137.0,418.1 137.5,422.1 138.0,426.7 138.5,430.2 139.0,427.0 139.5,423.6 140.0,427.4 140.5,426.4 141.0,425.8 141.5,423.8 142.0,427.3 142.5,426.8 143.0,425.3 143.5,424.9 144.0,421.6 144.5,424.6 145.0,430.6 145.5,426.4 146.0,422.5 146.5,431.6 147.0,428.9 147.5,434.1 148.0,427.3 148.5,425.2 149.0,421.7 149.5,430.6 150.0,433.2 150.5,423.1 151.0,423.5 151.5,427.4 152.0,422.6 152.5,421.2 153.0,424.1 153.5,425.9 154.0,427.3 154.5,425.4 155.0,428.2 155.5,423.5 156.0,425.6 156.5,417.3 157.0,419.4 157.5,426.6 158.0,421.9 158.5,423.3 159.0,425.6 159.5,428.3 160.0,426.7 160.5,427.6 161.0,424.1 161.5,422.5 162.0,422.8 162.5,424.0 163.0,422.1 163.5,424.2 164.0,425.6 164.5,426.6 165.0,424.4 165.5,418.9 166.0,424.6 166.5,425.1 167.0,427.6 167.5,425.7 168.0,421.5 168.5,421.0 169.0,429.8 169.5,425.7 170.0,429.3 170.5,430.4 171.0,421.0 171.5,425.1 172.0,425.5 172.5,425.9 173.0,425.8 173.5,424.5 174.0,424.3 174.5,418.7 175.0,423.0 175.5,421.1 176.0,423.9 176.5,421.9 177.0,425.4 177.5,426.1 178.0,424.4 178.5,422.0 179.0,424.0 179.5,422.5 180.0,423.7 180.5,420.8 181.0,425.6 181.5,424.1 182.0,425.6 182.5,419.0 183.0,425.8 183.5,420.2 184.0,420.1 184.5,421.6 185.0,420.4 185.5,423.1 186.0,420.3 186.5,418.8 187.0,419.7 187.5,426.9 188.0,423.2 188.5,419.6 189.0,423.7 189.5,418.8 190.0,429.5 190.5,418.6 191.0,424.8 191.5,424.8 192.0,418.4 192.5,424.1 193.0,426.4 193.5,424.8 194.0,424.2 194.5,426.4 195.0,423.6 195.5,424.0 196.0,422.4 196.5,422.7 197.0,420.0 197.5,425.8 198.0,421.8 198.5,420.2 199.0,425.0 199.5,429.4 200.0,427.1 200.5,422.4 201.0,426.3 201.5,422.5 202.0,423.5 202.5,424.1 203.0,416.6 203.5,424.2 204.0,420.2 204.5,421.3 205.0,419.0 205.5,419.1 206.0,421.2 206.5,427.1 207.0,430.0 207.5,424.8 208.0,428.5 208.5,424.2 209.0,418.9 209.5,425.3 210.0,426.1 210.5,423.2 211.0,425.4 211.5,426.1 212.0,421.5 212.5,419.4 213.0,423.4 213.5,423.4 214.0,423.0 214.5,427.1 215.0,429.4 215.5,422.4 216.0,425.7 216.5,426.3 217.0,425.2 217.5,426.0 218.0,421.3 218.5,421.5 219.0,429.1 219.5,425.5 220.0,421.4 220.5,425.6 221.0,428.0 221.5,425.4 222.0,422.4 222.5,428.9 223.0,419.8 223.5,425.0 224.0,423.0 224.5,419.1 225.0,426.5 225.5,423.7 226.0,419.1 226.5,424.8 227.0,421.8 227.5,417.4 228.0,421.5 228.5,424.8 229.0,426.1 229.5,424.6 230.0,424.1 230.5,425.2 231.0,422.8 231.5,424.6 232.0,420.5 232.5,424.3 233.0,425.3 233.5,420.4 234.0,421.6 234.5,428.5 235.0,424.5 235.5,422.1 236.0,423.6 236.5,420.7 237.0,422.9 237.5,419.8 238.0,422.8 238.5,417.1 239.0,426.5 239.5,421.0 240.0,418.1 240.5,422.7 241.0,419.4 241.5,424.7 242.0,421.0 242.5,426.1 243.0,431.9 243.5,421.1 244.0,426.2 244.5,424.2 245.0,425.9 245.5,419.9 246.0,422.3 246.5,427.8 247.0,426.8 247.5,432.6 248.0,425.9 248.5,429.0 249.0,435.5 249.5,426.3 250.0,425.7 250.5,428.2 251.0,428.0 251.5,430.6 252.0,425.9 252.5,425.8 253.0,428.8 253.5,434.9 254.0,432.1 254.5,421.5 255.0,427.4 255.5,424.9 256.0,429.1 256.5,426.8 257.0,433.1 257.5,430.3 258.0,430.6 258.5,429.1 259.0,429.1 259.5,430.7 260.0,433.8 260.5,431.8 261.0,429.3 261.5,434.0 262.0,430.9 262.5,430.2 263.0,428.2 263.5,429.0 264.0,429.0 264.5,424.8 265.0,433.9 265.5,432.8 266.0,430.9 266.5,434.5 267.0,432.9 267.5,432.8 268.0,425.9 268.5,431.3 269.0,433.5 269.5,436.6 270.0,437.4 270.5,436.4 271.0,429.5 271.5,426.7 272.0,430.6 272.5,432.5 273.0,435.0 273.5,432.4 274.0,433.5 274.5,429.3 275.0,434.5 275.5,432.4 276.0,434.5 276.5,434.9 277.0,433.6 277.5,434.8 278.0,434.1 278.5,436.1 279.0,435.6 279.5,433.2 280.0,433.3 280.5,439.1 281.0,434.8 281.5,437.5 282.0,436.0 282.5,433.6 283.0,429.5 283.5,434.6 284.0,432.3 284.5,435.4 285.0,431.1 285.5,432.8 286.0,434.4 286.5,438.7 287.0,430.4 287.5,436.9 288.0,434.9 288.5,437.2 289.0,435.1 289.5,436.9 290.0,439.3 290.5,436.4 291.0,436.5 291.5,436.4 292.0,434.0 292.5,437.0 293.0,435.4 293.5,434.2 294.0,435.9 294.5,435.6 295.0,437.7 295.5,433.9 296.0,435.3 296.5,439.7 297.0,439.0 297.5,439.7 298.0,438.5 298.5,437.1 299.0,436.5 299.5,436.8 300.0,439.2 300.5,437.6 301.0,434.5 301.5,437.5 302.0,434.8 302.5,437.9 303.0,435.1 303.5,434.9 304.0,437.4 304.5,436.8 305.0,433.7 305.5,438.2 306.0,441.0 306.5,434.3 307.0,440.9 307.5,436.5 308.0,437.2 308.5,438.2 309.0,436.2 309.5,441.7 310.0,440.4 310.5,438.3 311.0,439.3 311.5,437.2 312.0,439.6 312.5,442.1 313.0,437.6 313.5,438.3 314.0,441.3 314.5,443.1 315.0,443.8 315.5,440.8 316.0,440.4 316.5,440.3 317.0,441.4 317.5,441.6 318.0,444.0 318.5,445.1 319.0,442.7 319.5,442.0 320.0,443.4 320.5,439.5 321.0,442.8 321.5,441.2 322.0,446.8 322.5,444.3 323.0,443.3 323.5,442.8 324.0,439.6 324.5,444.5 325.0,446.3 325.5,442.9 326.0,445.6 326.5,445.9 327.0,442.5 327.5,446.6 328.0,447.3 328.5,445.6 329.0,445.2 329.5,446.7 330.0,443.2 330.5,445.9 331.0,447.5 331.5,440.6 332.0,447.7 332.5,445.8 333.0,443.5 333.5,446.7 334.0,445.6 334.5,447.7 335.0,445.6 335.5,448.9 336.0,446.1 336.5,447.4 337.0,445.8 337.5,445.9 338.0,447.9 338.5,446.4 339.0,445.4 339.5,444.2 340.0,447.7 340.5,447.2 341.0,445.8 341.5,446.6 342.0,445.0 342.5,445.3 343.0,445.9 343.5,447.9 344.0,448.1 344.5,447.0 345.0,449.3 345.5,449.6 346.0,448.9 346.5,450.2 347.0,448.6 347.5,447.1 348.0,450.0 348.5,449.6 349.0,450.9 349.5,448.6 350.0,452.1 350.5,449.6 351.0,450.6 351.5,449.3 352.0,452.0 352.5,453.0 353.0,452.9 353.5,452.8 354.0,450.1 354.5,451.1 355.0,451.6 355.5,451.1 356.0,453.5 356.5,452.5 357.0,452.3 357.5,452.9 358.0,448.0 358.5,451.4 359.0,451.6 359.5,453.2 360.0,453.1 360.5,450.0 361.0,453.9 361.5,449.3 362.0,452.0 362.5,452.7 363.0,451.2 363.5,452.1 364.0,453.9 364.5,454.1 365.0,454.1 365.5,453.2 366.0,453.0 366.5,454.4 367.0,453.1 367.5,453.9 368.0,455.0 368.5,453.4 369.0,453.2 369.5,453.7 370.0,454.1 370.5,453.8 371.0,453.2 371.5,453.2 372.0,450.9 372.5,451.3 373.0,452.0 373.5,448.5 374.0,450.1 374.5,449.9 375.0,450.0 375.5,450.5 376.0,449.8 376.5,450.9 377.0,452.2 377.5,450.8 378.0,452.2 378.5,451.6 379.0,450.6 379.5,451.6 380.0,451.2 380.5,452.9 381.0,451.6 381.5,453.9 382.0,453.5 382.5,449.7 383.0,454.4 383.5,455.3 384.0,453.8 384.5,455.5 385.0,453.6 385.5,455.6 386.0,454.4 386.5,456.5 387.0,454.9 387.5,454.9 388.0,457.3 388.5,459.0 389.0,457.1 389.5,458.5 390.0,458.1 390.5,457.8 391.0,458.6 391.5,456.3 392.0,456.9 392.5,458.3 393.0,454.6 393.5,456.6 394.0,459.2 394.5,459.5 395.0,457.3 395.5,459.6 396.0,458.2 396.5,454.5 397.0,459.5 397.5,458.5 398.0,458.5 398.5,459.5 399.0,459.2 399.5,458.7 400.0,456.7 400.5,456.4 401.0,458.6 401.5,456.9 402.0,457.8 402.5,456.9 403.0,457.8 403.5,457.0 404.0,459.5 404.5,457.3 405.0,458.1 405.5,458.1 406.0,459.4 406.5,457.4 407.0,458.6 407.5,458.6 408.0,459.2 408.5,459.1 409.0,458.2 409.5,458.7 410.0,458.1 410.5,458.7 411.0,458.2 411.5,457.8 412.0,458.4 412.5,458.8 413.0,460.5 413.5,456.4 414.0,459.1 414.5,460.2 415.0,453.4 415.5,457.6 416.0,458.1 416.5,459.1 417.0,461.1 417.5,459.7 418.0,460.5 418.5,459.3 419.0,457.7 419.5,457.7 420.0,460.4 420.5,459.7 421.0,458.4 421.5,460.5 422.0,458.4 422.5,460.8 423.0,461.3 423.5,459.5 424.0,459.4 424.5,461.1 425.0,459.6 425.5,461.3 426.0,459.6 426.5,461.3 427.0,460.7 427.5,460.3 428.0,459.9 428.5,460.9 429.0,459.2 429.5,460.7 430.0,460.6 430.5,461.5 431.0,459.8 431.5,462.2 432.0,460.4 432.5,459.7 433.0,461.8 433.5,462.1 434.0,460.5 434.5,459.8 435.0,460.5 435.5,459.8 436.0,459.9 436.5,461.4 437.0,460.3 437.5,459.9 438.0,460.0 438.5,459.6 439.0,460.4 439.5,458.0 440.0,459.5 440.5,460.0 441.0,461.9 441.5,460.3 442.0,459.7 442.5,461.4 443.0,459.4 443.5,458.3 444.0,459.8 444.5,458.4 445.0,458.9 445.5,459.9 446.0,459.7 446.5,457.2 447.0,459.4 447.5,459.2 448.0,460.6 448.5,458.8 449.0,458.9 449.5,461.1 450.0,458.7 450.5,458.1 451.0,460.2 451.5,458.8 452.0,457.6 452.5,455.6 453.0,459.2 453.5,459.4 454.0,458.6 454.5,459.5 455.0,457.7 455.5,457.6 456.0,459.8 456.5,458.7 457.0,454.6 457.5,458.3 458.0,460.3 458.5,459.5 459.0,457.0 459.5,458.7 460.0,458.5 460.5,458.5 461.0,458.2 461.5,457.3 462.0,459.4 462.5,455.8 463.0,458.2 463.5,457.9 464.0,457.6 464.5,458.8 465.0,458.3 465.5,457.3 466.0,457.1 466.5,457.5 467.0,458.9 467.5,458.1 468.0,458.1 468.5,457.5 469.0,457.5 469.5,457.8 470.0,455.9 470.5,459.1 471.0,457.0 471.5,457.4 472.0,459.4 472.5,458.5 473.0,458.4 473.5,457.7 474.0,456.5 474.5,457.6 475.0,458.0 475.5,455.4 476.0,457.2 476.5,454.6 477.0,455.1 477.5,456.5 478.0,456.4 478.5,457.4 479.0,456.2 479.5,455.7 480.0,454.5 480.5,454.6 481.0,454.2 481.5,453.3 482.0,454.5 482.5,453.1 483.0,451.5 483.5,455.7 484.0,452.8 484.5,452.6 485.0,455.8 485.5,456.2 486.0,454.5 486.5,454.3 487.0,452.8 487.5,457.1 488.0,455.6 488.5,454.9 489.0,455.6 489.5,456.7 490.0,454.0 490.5,454.8 491.0,453.6 491.5,457.2 492.0,456.9 492.5,456.4 493.0,455.9 493.5,457.1 494.0,454.3 494.5,456.4 495.0,454.5 495.5,453.8 496.0,453.7 496.5,453.5 497.0,454.3 497.5,454.3 498.0,454.0 498.5,453.0 499.0,454.9 499.5,453.7 500.0,455.0 500.5,449.0 501.0,451.8 501.5,453.8 502.0,454.5 502.5,455.7 503.0,455.4 503.5,456.9 504.0,457.1 504.5,457.3 505.0,456.4 505.5,457.2 506.0,457.5 506.5,452.9 507.0,456.4 507.5,457.6 508.0,458.4 508.5,457.8 509.0,457.6 509.5,453.9 510.0,459.5 510.5,457.6 511.0,458.2 511.5,458.9 512.0,456.5 512.5,456.4 513.0,456.9 513.5,457.6 514.0,456.7 514.5,457.4 515.0,457.6 515.5,456.6 516.0,459.0 516.5,457.2 517.0,455.2 517.5,456.0 518.0,454.4 518.5,455.1 519.0,456.5 519.5,456.1 520.0,458.7 520.5,456.5 521.0,458.6 521.5,459.0 522.0,459.7 522.5,459.0 523.0,455.7 523.5,458.4 524.0,458.5 524.5,459.9 525.0,458.1 525.5,459.0 526.0,457.7 526.5,457.1 527.0,455.8 527.5,457.2 528.0,453.6 528.5,454.2 529.0,454.1 529.5,454.6 530.0,454.8 530.5,452.2 531.0,456.2 531.5,454.4 532.0,456.4 532.5,455.6 533.0,457.5 533.5,453.6 534.0,456.7 534.5,457.7 535.0,459.3 535.5,454.6 536.0,458.3 536.5,459.3 537.0,456.6 537.5,455.5 538.0,457.0 538.5,454.3 539.0,455.6 539.5,459.2 540.0,455.8 540.5,459.8 541.0,460.1 541.5,460.0 542.0,459.9 542.5,462.0 543.0,460.1 543.5,455.9 544.0,460.0 544.5,458.1 545.0,459.5 545.5,458.3 546.0,458.4 546.5,458.2 547.0,456.9 547.5,459.6 548.0,457.7 548.5,460.4 549.0,458.8 549.5,461.4 550.0,460.8 550.5,462.3 551.0,461.6 551.5,459.7 552.0,460.4 552.5,461.4 553.0,461.7 553.5,459.4 554.0,458.5 554.5,459.4 555.0,460.0 555.5,459.2 556.0,459.0 556.5,460.7 557.0,461.2 557.5,461.5 558.0,460.3 558.5,461.7 559.0,461.7 559.5,460.8 560.0,463.6 560.5,463.3 561.0,463.1 561.5,462.3 562.0,462.4 562.5,463.9 563.0,463.7 563.5,462.1 564.0,459.4 564.5,460.0 565.0,461.5 565.5,460.1 566.0,461.5 566.5,462.3 567.0,463.4 567.5,463.4 568.0,462.9 568.5,461.7 569.0,462.4 569.5,461.5 570.0,460.1 570.5,459.3 571.0,460.0 571.5,458.9 572.0,461.4 572.5,460.4 573.0,462.0 573.5,460.9 574.0,461.3 574.5,463.4 575.0,464.3 575.5,463.8 576.0,468.1 576.5,465.9 577.0,466.4 577.5,466.6 578.0,464.5 578.5,464.4 579.0,461.9 579.5,463.0 580.0,462.6 580.5,461.3 581.0,462.1 581.5,462.8 582.0,462.5 582.5,460.9 583.0,465.0 583.5,464.5 584.0,464.0 584.5,461.4 585.0,461.1 585.5,462.6 586.0,463.1 586.5,462.9 587.0,464.0 587.5,463.4 588.0,462.3 588.5,462.5 589.0,463.1 589.5,462.8 590.0,462.5 590.5,464.6 591.0,462.0 591.5,462.6 592.0,461.6 592.5,462.5 593.0,463.9 593.5,464.4 594.0,463.9 594.5,464.3 595.0,463.4 595.5,460.9 596.0,459.8 596.5,463.4 597.0,461.3 597.5,459.8 598.0,455.4 598.5,458.2 599.0,460.9 599.5,457.6 600.0,459.8 600.5,461.4 601.0,461.0 601.5,462.0 602.0,461.7 602.5,464.3 603.0,461.6 603.5,459.2 604.0,463.9 604.5,465.3 605.0,464.1 605.5,465.3 606.0,460.2 606.5,462.7 607.0,464.9 607.5,464.6 608.0,463.2 608.5,460.1 609.0,458.6 609.5,458.4 610.0,459.6 610.5,461.2 611.0,462.3 611.5,461.8 612.0,464.7 612.5,465.7 613.0,466.4 613.5,464.0 614.0,465.9 614.5,466.2 615.0,464.8 615.5,464.1 616.0,462.2 616.5,462.4 617.0,460.9 617.5,458.7 618.0,461.5 618.5,461.2 619.0,463.1 619.5,462.9 620.0,463.8 620.5,464.9 621.0,465.1 621.5,464.8 622.0,461.6 622.5,466.9 623.0,463.2 623.5,464.1 624.0,464.7 624.5,460.9 625.0,464.1 625.5,463.9 626.0,464.3 626.5,463.4 627.0,465.0 627.5,461.6 628.0,462.6 628.5,459.0 629.0,461.5 629.5,462.6 630.0,464.3 630.5,462.9 631.0,463.1 631.5,464.9 632.0,461.9 632.5,465.8 633.0,464.4 633.5,462.9 634.0,461.7 634.5,462.1 635.0,461.7 635.5,460.5 636.0,462.1 636.5,459.4 637.0,462.2 637.5,462.2 638.0,464.4 638.5,463.8 639.0,464.4 639.5,463.5 640.0,464.1 640.5,465.7 641.0,466.9 641.5,466.8 642.0,464.9 642.5,468.4 643.0,467.3 643.5,465.4 644.0,465.3 644.5,464.5 645.0,464.9 645.5,463.4 646.0,464.0 646.5,461.4 647.0,463.6 647.5,460.3 648.0,463.5 648.5,464.8 649.0,463.5 649.5,466.0 650.0,461.8 650.5,463.1 651.0,464.9 651.5,460.2 652.0,461.7 652.5,460.9 653.0,459.4 653.5,460.3 654.0,461.2 654.5,462.4 655.0,461.7 655.5,459.6 656.0,461.5 656.5,462.5 657.0,464.0 657.5,464.2 658.0,466.4 658.5,466.5 659.0,467.2 659.5,467.3 660.0,465.2 660.5,467.3 661.0,466.5 661.5,464.8 662.0,465.2 662.5,463.9 663.0,462.1 663.5,461.7 664.0,461.0 664.5,461.4 665.0,461.0 665.5,462.5 666.0,460.6 666.5,461.1 667.0,462.2 667.5,464.1 668.0,465.4 668.5,465.0 669.0,464.8 669.5,464.6 670.0,465.7 670.5,460.6 671.0,461.5 671.5,461.7 672.0,462.4 672.5,462.3 673.0,460.8 673.5,461.5 674.0,462.2 674.5,460.9 675.0,462.9 675.5,463.6 676.0,462.8 676.5,465.5 677.0,465.3 677.5,467.4 678.0,465.1 678.5,467.5 679.0,462.6 679.5,467.3 680.0,465.5 680.5,464.9 681.0,465.2 681.5,463.0 682.0,466.3 682.5,466.8 683.0,465.1 683.5,464.2 684.0,463.3 684.5,465.2 685.0,466.6 685.5,466.4 686.0,466.8 686.5,466.8 687.0,466.5 687.5,466.7 688.0,467.1 688.5,464.6 689.0,466.4 689.5,463.2 690.0,463.4 690.5,461.9 691.0,459.3 691.5,460.4 692.0,460.4 692.5,461.7 693.0,461.8 693.5,465.8 694.0,461.4 694.5,460.5 695.0,463.5 695.5,462.5 696.0,461.2 696.5,463.1 697.0,463.6 697.5,461.9 698.0,463.6 698.5,462.6 699.0,463.6 699.5,463.9 700.0,461.6 700.5,463.9 701.0,463.1 701.5,464.8 702.0,463.7 702.5,465.0 703.0,466.0 703.5,465.5 704.0,464.8 704.5,466.8 705.0,464.9 705.5,464.7 706.0,463.8 706.5,465.2 707.0,463.8 707.5,461.8 708.0,464.6 708.5,466.1 709.0,466.1 709.5,464.2 710.0,465.2 710.5,466.2 711.0,466.9 711.5,466.8 712.0,466.2 712.5,468.8 713.0,469.1 713.5,467.6 714.0,468.7 714.5,469.3 715.0,467.1 715.5,469.1 716.0,468.5 716.5,467.5 717.0,466.2 717.5,464.0 718.0,465.4 718.5,465.9 719.0,466.2 719.5,461.4 720.0,464.1 720.5,465.7 721.0,465.9 721.5,464.9 722.0,465.7 722.5,464.7 723.0,466.5 723.5,463.8 724.0,466.8 724.5,467.0 725.0,466.2 725.5,464.0 726.0,464.5 726.5,464.9 727.0,463.7 727.5,462.9 728.0,463.8 728.5,464.5 729.0,465.9 729.5,465.1 730.0,466.9 730.5,464.2 731.0,467.2 731.5,466.7 732.0,468.0 732.5,467.3 733.0,467.3 733.5,467.8 734.0,467.5 734.5,467.0 735.0,468.8 735.5,465.4 736.0,465.4 736.5,464.0 737.0,464.0 737.5,463.7 738.0,464.5 738.5,462.0 739.0,463.7 739.5,465.9 740.0,464.8 740.5,466.3 741.0,466.5 741.5,466.4 742.0,469.5 742.5,471.5 743.0,470.2 743.5,468.8 744.0,470.2 744.5,469.3 745.0,469.3 745.5,468.0 746.0,465.7 746.5,465.5 747.0,462.9 747.5,463.1 748.0,465.8 748.5,467.4 749.0,468.0 749.5,467.3 750.0,467.6 750.5,466.9 751.0,465.4 751.5,466.8 752.0,466.7 752.5,465.4 753.0,464.0 753.5,466.2 754.0,466.5 754.5,465.4 755.0,464.6 755.5,467.2 756.0,467.4 756.5,466.7 757.0,466.6 757.5,466.7 758.0,466.9 758.5,466.4 759.0,465.1 759.5,468.0 760.0,466.1 760.5,467.7 761.0,468.1 761.5,469.0 762.0,467.3 762.5,469.7 763.0,468.9 763.5,468.6 764.0,469.0 764.5,467.0 765.0,465.9 765.5,468.7 766.0,470.2 766.5,470.4 767.0,469.0 767.5,469.9 768.0,470.5 768.5,468.4 769.0,469.0 769.5,466.5 770.0,469.3 770.5,466.4 771.0,468.2 771.5,466.6 772.0,465.3 772.5,469.7 773.0,465.7 773.5,469.2 774.0,470.3 774.5,468.0 775.0,467.5 775.5,469.5 776.0,468.3 776.5,466.9 777.0,466.8 777.5,467.4 778.0,469.0 778.5,467.8 779.0,468.5 779.5,469.2 780.0,468.6 780.5,468.6 781.0,468.3 781.5,465.4 782.0,468.1 782.5,467.4 783.0,467.2 783.5,466.7 784.0,466.8 784.5,467.5 785.0,468.9 785.5,467.9 786.0,468.3 786.5,468.5 787.0,469.7 787.5,468.9 788.0,468.7 788.5,469.9 789.0,468.0 789.5,468.4 790.0,466.5 790.5,465.7 791.0,466.8 791.5,466.6 792.0,465.8 792.5,465.0 793.0,465.6 793.5,465.4 794.0,467.0 794.5,467.2 795.0,465.4 795.5,467.6 796.0,466.8 796.5,467.6 797.0,466.3 797.5,465.3 798.0,467.6 798.5,467.4 799.0,466.4 799.5,466.3 800.0,468.0 800.5,467.6 801.0,468.4 801.5,469.1 802.0,469.8 802.5,467.9 803.0,469.4 803.5,469.2 804.0,467.6 804.5,466.2 805.0,468.3 805.5,468.1 806.0,469.7 806.5,469.1 807.0,468.6 807.5,469.5 808.0,467.1 808.5,468.6 809.0,468.7 809.5,471.1 810.0,470.5 810.5,468.1 811.0,471.6 811.5,469.7 812.0,471.3 812.5,470.2 813.0,471.0 813.5,471.7 814.0,471.5 814.5,470.6 815.0,472.7 815.5,471.3 816.0,470.5 816.5,470.6 817.0,468.9 817.5,470.8 818.0,469.1 818.5,467.6 819.0,469.4 819.5,468.3 820.0,467.9 820.5,469.0 821.0,469.1 821.5,469.9 822.0,469.2 822.5,468.0 823.0,469.9 823.5,470.5 824.0,470.9 824.5,470.4 825.0,468.8 825.5,470.5 826.0,466.9 826.5,469.2 827.0,466.6 827.5,468.4 828.0,466.6 828.5,466.4 829.0,468.5 829.5,467.8 830.0,465.5 830.5,465.5 831.0,465.3 831.5,466.6 832.0,466.4 832.5,466.4 833.0,466.9 833.5,467.8 834.0,468.4 834.5,469.7 835.0,468.2 835.5,468.2 836.0,465.9 836.5,465.9 837.0,466.1 837.5,465.8 838.0,467.5 838.5,469.0 839.0,468.3 839.5,469.0 840.0,469.5 840.5,470.4 841.0,469.9 841.5,470.3 842.0,469.8 842.5,469.7 843.0,470.0 843.5,469.5 844.0,469.9 844.5,471.8 845.0,470.5 845.5,471.1 846.0,470.1 846.5,467.1 847.0,468.7 847.5,467.8 848.0,467.9 848.5,467.1 849.0,467.4 849.5,469.4 850.0,468.8 850.5,468.4 851.0,470.1 851.5,470.8 852.0,469.3 852.5,469.8 853.0,471.5 853.5,470.1 854.0,470.2 854.5,469.5 855.0,470.2 855.5,468.3 856.0,468.6 856.5,469.6 857.0,469.9 857.5,468.6 858.0,468.6 858.5,468.2 859.0,468.1 859.5,466.8 860.0,466.4 860.5,467.5 861.0,465.8 861.5,466.3 862.0,466.7 862.5,466.4 863.0,465.8 863.5,467.5 864.0,468.3 864.5,467.8 865.0,468.4 865.5,469.8 866.0,469.9 866.5,469.1 867.0,469.9 867.5,469.7 868.0,469.6 868.5,470.7 869.0,468.7 869.5,469.3 870.0,469.2 870.5,468.6 871.0,467.8 871.5,469.5 872.0,469.2 872.5,469.1 873.0,469.0 873.5,467.2 874.0,468.1 874.5,469.1 875.0,467.1 875.5,468.5 876.0,467.2 876.5,468.2 877.0,469.1 877.5,468.4 878.0,468.5 878.5,469.7 879.0,469.2 879.5,469.4 880.0,469.6 880.5,471.5 881.0,470.8 881.5,470.7 882.0,467.1 882.5,470.6 883.0,468.7 883.5,470.0 884.0,468.3 884.5,470.8 885.0,467.5 885.5,470.0 886.0,469.5 886.5,467.3 887.0,468.9 887.5,470.5 888.0,470.2 888.5,467.8 889.0,468.9 889.5,468.4 890.0,468.6 890.5,468.0 891.0,471.3 891.5,469.6 892.0,469.0 892.5,468.6 893.0,469.1 893.5,468.9 894.0,467.2 894.5,467.6 895.0,466.9 895.5,467.4 896.0,468.0 896.5,469.2 897.0,467.4 897.5,468.0 898.0,469.2 898.5,468.8 899.0,469.4 899.5,469.5 900.0,468.9 900.5,469.2 901.0,468.0 901.5,469.1 902.0,469.5 902.5,468.1 903.0,469.2 903.5,471.4 904.0,468.6 904.5,469.1 905.0,469.7 905.5,470.1 906.0,467.3 906.5,469.9 907.0,469.2 907.5,469.3 908.0,469.5 908.5,470.8 909.0,469.1 909.5,470.0 910.0,469.8 910.5,469.4 911.0,469.2 911.5,471.3 912.0,470.8 912.5,470.7 913.0,470.8 913.5,469.5 914.0,471.9 914.5,468.5 915.0,468.2 915.5,466.6 916.0,467.0 916.5,468.4 917.0,466.9 917.5,467.4 918.0,466.5 918.5,468.7 919.0,467.6 919.5,466.7 920.0,468.8 920.5,468.0 921.0,469.1 921.5,468.7 922.0,468.9 922.5,468.8 923.0,467.8 923.5,467.1 924.0,469.1 924.5,467.8 925.0,468.0 925.5,467.0 926.0,465.4 926.5,465.9 927.0,468.3 927.5,466.5 928.0,467.1 928.5,466.3 929.0,467.1 929.5,467.3 930.0,467.5 930.5,467.9 931.0,467.8 931.5,466.5 932.0,469.4 932.5,470.0 933.0,469.7 933.5,471.3 934.0,469.8 934.5,469.3 935.0,468.5 935.5,468.1 936.0,468.2 936.5,468.0 937.0,468.8 937.5,470.3 938.0,468.7 938.5,470.7 939.0,469.4 939.5,468.1 940.0,469.2 940.5,470.0 941.0,468.7 941.5,468.2 942.0,469.5 942.5,469.7 943.0,468.9 943.5,467.0 944.0,467.1 944.5,467.1 945.0,468.1 945.5,469.3 946.0,467.9 946.5,469.4 947.0,468.2 947.5,468.9 948.0,467.3 948.5,467.2 949.0,466.7 949.5,466.6 950.0,468.2 950.5,467.1 951.0,467.7 951.5,467.6 952.0,467.3 952.5,467.8 953.0,468.8 953.5,470.1 954.0,466.2 954.5,469.0 955.0,467.9 955.5,468.5 956.0,469.7 956.5,468.6 957.0,469.3 957.5,470.3 958.0,467.4 958.5,469.4 959.0,469.7 959.5,468.7 960.0,470.2 960.5,470.3 961.0,468.8 961.5,471.4 962.0,469.2 962.5,470.7 963.0,469.8 963.5,468.9 964.0,469.5 964.5,469.4 965.0,470.3 965.5,468.4 966.0,469.8 966.5,469.9 967.0,472.0 967.5,470.0 968.0,472.0 968.5,469.5 969.0,471.2 969.5,468.8 970.0,470.3 970.5,467.5 971.0,467.3 971.5,467.4 972.0,469.7 972.5,468.5 973.0,467.5 973.5,469.1 974.0,467.7 974.5,467.7 975.0,467.6 975.5,470.0 976.0,471.0 976.5,468.8 977.0,470.0 977.5,470.7 978.0,471.6 978.5,468.0 979.0,469.9 979.5,470.2 980.0,468.4 980.5,470.0 981.0,469.9 981.5,470.2 982.0,468.9 982.5,469.5 983.0,468.4 983.5,467.6 984.0,468.6 984.5,467.9 985.0,466.9 985.5,469.6 986.0,468.4 986.5,469.5 987.0,468.6 987.5,469.1 988.0,471.0 988.5,470.3 989.0,468.8 989.5,469.4 990.0,469.2 990.5,468.8 991.0,468.2 991.5,470.2 992.0,469.7 992.5,469.1 993.0,468.0 993.5,468.8 994.0,469.3 994.5,470.0 995.0,468.9 995.5,470.3 996.0,469.6 996.5,469.1 997.0,468.2 997.5,469.2 998.0,469.0 998.5,470.1 999.0,470.3 999.5,470.9 1000.0,469.4 1000.5,468.2 1001.0,470.9 1001.5,469.1 1002.0,468.5 1002.5,468.3 1003.0,467.2 1003.5,468.7 1004.0,468.4 1004.5,469.5 1005.0,469.3 1005.5,469.4 1006.0,470.1 1006.5,469.0 1007.0,469.2 1007.5,469.7 1008.0,468.9 1008.5,469.8 1009.0,469.6 1009.5,470.3 1010.0,469.6 1010.5,467.6 1011.0,468.9 1011.5,469.9 1012.0,465.7 1012.5,467.8 1013.0,468.5 1013.5,467.4 1014.0,468.2 1014.5,468.9 1015.0,467.9 1015.5,469.3 1016.0,468.4 1016.5,468.2 1017.0,469.5 1017.5,470.5 1018.0,469.4 1018.5,469.9 1019.0,469.9 1019.5,468.8 1020.0,469.6 1020.5,468.9 1021.0,466.2 1021.5,469.1 1022.0,468.6 1022.5,469.9 1023.0,469.0 1023.5,470.3 1024.0,469.8 1024.5,470.4 1025.0,471.1 1025.5,471.1 1026.0,469.8 1026.5,470.2 1027.0,469.2 1027.5,470.2 1028.0,469.1 1028.5,468.7 1029.0,469.1 1029.5,469.2 1030.0,469.7 1030.5,469.9 1031.0,468.6 1031.5,469.0 1032.0,470.0 1032.5,470.0 1033.0,469.8 1033.5,471.8 1034.0,471.0 1034.5,470.1 1035.0,470.7 1035.5,470.9 1036.0,469.8 1036.5,467.7 1037.0,468.9 1037.5,468.5 1038.0,470.1 1038.5,466.6 1039.0,469.3 1039.5,467.9 1040.0,468.9 1040.5,468.2 1041.0,468.9 1041.5,470.1 1042.0,469.7 1042.5,471.0 1043.0,470.3 1043.5,470.1 1044.0,470.2 1044.5,469.7 1045.0,469.8 1045.5,469.6 1046.0,468.4 1046.5,467.9 1047.0,469.3 1047.5,470.7 1048.0,470.3 1048.5,470.6 1049.0,470.7 1049.5,468.0 1050.0,470.0 1050.5,468.1 1051.0,469.4 1051.5,470.4 1052.0,468.5 1052.5,467.0 1053.0,468.4 1053.5,469.6 1054.0,470.3 1054.5,471.1 1055.0,470.6 1055.5,468.3 1056.0,467.9 1056.5,469.9 1057.0,469.2 1057.5,468.2 1058.0,468.9 1058.5,468.7 1059.0,468.9 1059.5,468.7 1060.0,469.4 1060.5,470.0 1061.0,469.3 1061.5,470.2 1062.0,471.3 1062.5,468.9 1063.0,468.9 1063.5,470.3 1064.0,471.6 1064.5,470.3 1065.0,471.2 1065.5,470.2 1066.0,471.3 1066.5,470.1 1067.0,470.1 1067.5,470.8 1068.0,470.6 1068.5,471.1 1069.0,470.6 1069.5,469.0 1070.0,470.2 1070.5,468.1 1071.0,470.5 1071.5,471.6 1072.0,470.4 1072.5,470.4 1073.0,470.0 1073.5,470.5 1074.0,469.3 1074.5,470.1 1075.0,469.1 1075.5,468.8 1076.0,469.1 1076.5,468.9 1077.0,467.4 1077.5,470.6 1078.0,469.1 1078.5,467.8 1079.0,470.4 1079.5,469.8 1080.0,470.3 1080.5,471.0 1081.0,470.0 1081.5,469.1 1082.0,471.2 1082.5,471.6 1083.0,472.2 1083.5,470.6 1084.0,470.8 1084.5,471.0 1085.0,470.0 1085.5,469.6 1086.0,469.8 1086.5,468.5 1087.0,470.6 1087.5,468.6 1088.0,468.2 1088.5,469.2 1089.0,469.0 1089.5,469.9 1090.0,470.4 1090.5,471.0 1091.0,470.5 1091.5,470.0 1092.0,471.4 1092.5,469.9 1093.0,471.3 1093.5,471.6 1094.0,471.4 1094.5,469.7 1095.0,469.1 1095.5,471.4 1096.0,469.5 1096.5,468.5 1097.0,468.9 1097.5,470.1 1098.0,471.2 1098.5,470.2 1099.0,471.3 1099.5,469.3 1100.0,470.8 1100.5,471.3 1101.0,470.2 1101.5,470.7 1102.0,470.1 1102.5,469.9 1103.0,470.9 1103.5,469.6 1104.0,469.1 1104.5,469.6 1105.0,470.2 1105.5,469.9 1106.0,471.3 1106.5,470.6 1107.0,470.6 1107.5,471.9 1108.0,468.6 1108.5,469.5 1109.0,468.5 1109.5,470.4 1110.0,469.9 1110.5,471.0 1111.0,470.8 1111.5,469.9 1112.0,472.1 1112.5,470.8 1113.0,470.1 1113.5,468.1 1114.0,469.9 1114.5,468.8 1115.0,468.0 1115.5,469.1 1116.0,469.2 1116.5,468.6 1117.0,470.5 1117.5,468.9 1118.0,468.9 1118.5,469.9 1119.0,469.5 1119.5,469.4 1120.0,469.0 1120.5,469.4 1121.0,469.1 1121.5,468.4 1122.0,470.4 1122.5,469.1 1123.0,469.7 1123.5,470.4 1124.0,468.8 1124.5,471.3 1125.0,468.4 1125.5,468.3 1126.0,469.7 1126.5,470.6 1127.0,469.2 1127.5,468.3 1128.0,470.4 1128.5,468.9 1129.0,468.8 1129.5,470.8 1130.0,469.8 1130.5,470.1 1131.0,470.9 1131.5,470.2 1132.0,470.4 1132.5,469.2 1133.0,469.6 1133.5,468.6 1134.0,468.1 1134.5,470.9 1135.0,470.0 1135.5,469.6 1136.0,469.6 1136.5,469.8 1137.0,471.0 1137.5,470.1 1138.0,471.7 1138.5,470.5 1139.0,470.6 1139.5,469.0 1140.0,470.6 1140.5,470.0 1141.0,469.4 1141.5,468.1 1142.0,468.3 1142.5,469.8 1143.0,468.6 1143.5,469.2 1144.0,469.1 1144.5,468.2 1145.0,470.3 1145.5,467.5 1146.0,469.4 1146.5,469.3 1147.0,468.2 1147.5,469.9 1148.0,470.2 1148.5,470.0 1149.0,469.5 1149.5,470.7 1150.0,471.3 1150.5,470.7 1151.0,471.9 1151.5,471.2 1152.0,471.1 1152.5,471.5 1153.0,469.9 1153.5,470.1 1154.0,471.0 1154.5,471.1 1155.0,471.9 1155.5,471.5 1156.0,470.5 1156.5,470.2 1157.0,469.5 1157.5,469.1 1158.0,468.0 1158.5,470.2 1159.0,469.3 1159.5,469.6 1160.0,470.2 1160.5,469.8 1161.0,470.2 1161.5,468.6 1162.0,470.7 1162.5,470.1 1163.0,470.4 1163.5,470.3 1164.0,468.4 1164.5,471.6 1165.0,470.0 1165.5,470.1 1166.0,468.6 1166.5,470.5 1167.0,470.3 1167.5,469.6 1168.0,468.9 1168.5,470.5 1169.0,469.0 1169.5,468.5"/>
<g fill="#ff0a0a"><polygon points="91.5,501.1 92.5,501.0 93.5,500.8 94.5,500.7 95.5,500.5 96.5,500.4 97.5,500.2 98.5,500.0 99.5,499.8 100.5,499.6 101.5,499.3 102.5,498.9 103.5,498.6 104.5,498.3 105.5,497.9 106.5,497.7 107.5,497.7 108.5,498.0 109.5,498.5 110.5,499.1 111.5,499.7 112.5,500.3 113.5,500.9 114.5,501.5 115.5,502.0 116.5,502.5 117.5,502.9 118.5,503.4 119.5,503.8 120.5,504.3 121.5,504.7 122.5,505.2 123.5,505.6 124.5,506.0 125.5,506.3 126.5,506.4 127.5,506.4 128.5,506.5 129.5,506.5 130.5,506.6 131.5,506.6 132.5,506.7 133.5,506.7 134.5,506.8 135.5,506.7 136.5,506.6 137.5,506.5 138.5,506.3 139.5,506.2 140.5,506.0 141.5,505.9 142.5,505.7 143.5,505.6 144.5,505.4 145.5,505.3 146.5,505.1 147.5,505.0 148.5,504.8 149.5,504.7 150.5,504.5 151.5,504.4 152.5,504.2 153.5,504.0 154.5,503.9 155.5,503.7 156.5,503.6 157.5,503.6 158.5,503.7 159.5,504.0 160.5,504.4 161.5,504.9 162.5,505.3 163.5,505.7 164.5,506.0 165.5,506.1 166.5,506.1 167.5,505.9 168.5,505.7 169.5,505.5 170.5,505.3 171.5,505.2 172.5,505.0 173.5,504.9 174.5,504.9 175.5,504.9 176.5,504.9 177.5,504.9 178.5,504.9 179.5,504.9 180.5,504.9 181.5,504.9 182.5,504.9 183.5,504.9 184.5,504.9 185.5,504.9 186.5,504.9 187.5,504.9 188.5,504.9 189.5,504.8 190.5,504.7 191.5,504.7 192.5,504.6 193.5,504.5 194.5,504.4 195.5,504.1 196.5,503.7 197.5,503.2 198.5,502.7 199.5,502.4 200.5,502.4 201.5,502.7 202.5,503.2 203.5,503.7 204.5,504.2 205.5,504.7 206.5,505.2 207.5,505.7 208.5,506.3 209.5,506.9 210.5,507.5 211.5,508.1 212.5,508.5 213.5,508.6 214.5,508.5 215.5,508.2 216.5,507.9 217.5,507.6 218.5,507.3 219.5,507.0 220.5,506.6 221.5,506.3 222.5,506.0 223.5,505.6 224.5,505.3 225.5,505.0 226.5,504.6 227.5,504.3 228.5,504.0 229.5,503.8 230.5,503.7 231.5,503.9 232.5,504.2 233.5,504.5 234.5,504.8 235.5,505.0 236.5,505.5 237.5,506.0 238.5,506.8 239.5,507.7 240.5,508.5 241.5,509.4 242.5,510.3 243.5,511.2 244.5,511.9 245.5,512.5 246.5,512.9 247.5,513.1 248.5,513.4 249.5,513.6 250.5,513.9 251.5,514.2 252.5,514.4 253.5,514.7 254.5,515.0 255.5,515.3 256.5,515.6 257.5,515.9 258.5,516.2 259.5,516.5 260.5,516.9 261.5,517.2 262.5,517.5 263.5,517.8 264.5,518.1 265.5,518.4 266.5,518.8 267.5,519.1 268.5,519.4 269.5,519.7 270.5,519.9 271.5,520.0 272.5,520.1 273.5,520.1 274.5,520.2 275.5,520.3 276.5,520.3 277.5,520.4 278.5,520.5 279.5,520.6 280.5,520.7 281.5,520.9 282.5,521.0 283.5,521.2 284.5,521.4 285.5,521.6 286.5,521.8 287.5,522.0 288.5,522.1 289.5,522.2 290.5,522.2 291.5,522.2 292.5,522.2 293.5,522.2 294.5,522.2 295.5,522.2 296.5,522.2 297.5,522.2 298.5,522.2 299.5,522.1 300.5,522.1 301.5,522.1 302.5,522.1 303.5,522.1 304.5,522.1 305.5,522.1 306.5,522.2 307.5,522.3 308.5,522.5 309.5,522.7 310.5,522.9 311.5,523.1 312.5,523.3 313.5,523.5 314.5,523.7 315.5,523.9 316.5,524.1 317.5,524.3 318.5,524.5 319.5,524.7 320.5,525.0 321.5,525.3 322.5,525.6 323.5,526.0 324.5,526.4 325.5,526.7 326.5,527.1 327.5,527.5 328.5,527.8 329.5,528.1 330.5,528.3 331.5,528.5 332.5,528.5 333.5,528.6 334.5,528.6 335.5,528.7 336.5,528.7 337.5,528.8 338.5,528.8 339.5,528.9 340.5,528.9 341.5,529.0 342.5,529.0 343.5,529.1 344.5,529.2 345.5,529.3 346.5,529.5 347.5,529.6 348.5,529.7 349.5,529.8 350.5,529.9 351.5,530.0 352.5,530.1 353.5,530.0 354.5,529.9 355.5,529.6 356.5,529.4 357.5,529.2 358.5,528.9 359.5,528.7 360.5,528.5 361.5,528.3 362.5,528.3 363.5,528.5 364.5,528.7 365.5,529.0 366.5,529.2 367.5,529.4 368.5,529.7 369.5,529.9 370.5,530.2 371.5,530.3 372.5,530.5 373.5,530.6 374.5,530.7 375.5,530.9 376.5,531.0 377.5,531.1 378.5,531.3 379.5,531.6 380.5,532.0 381.5,532.5 382.5,533.0 383.5,533.5 384.5,534.2 385.5,535.0 386.5,536.0 387.5,537.1 388.5,538.0 389.5,538.4 390.5,538.6 391.5,538.4 392.5,538.2 393.5,538.1 394.5,537.9 395.5,537.8 396.5,537.6 397.5,537.5 398.5,537.4 399.5,537.5 400.5,537.6 401.5,537.7 402.5,537.9 403.5,538.0 404.5,538.2 405.5,538.3 406.5,538.4 407.5,538.6 408.5,538.6 409.5,538.4 410.5,538.0 411.5,537.5 412.5,537.0 413.5,536.5 414.5,536.0 415.5,535.5 416.5,535.0 417.5,534.8 418.5,535.0 419.5,535.5 420.5,536.3 421.5,537.0 422.5,537.8 423.5,538.6 424.5,539.2 425.5,539.5 426.5,539.4 427.5,539.2 428.5,538.9 429.5,538.7 430.5,538.4 431.5,538.2 432.5,537.9 433.5,537.7 434.5,537.5 435.5,537.3 436.5,537.1 437.5,537.0 438.5,536.8 439.5,536.6 440.5,536.5 441.5,536.6 442.5,536.9 443.5,537.3 444.5,537.8 445.5,538.2 446.5,538.5 447.5,538.5 448.5,538.5 449.5,538.2 450.5,538.0 451.5,537.8 452.5,537.5 453.5,537.3 454.5,537.1 455.5,536.8 456.5,536.6 457.5,536.4 458.5,536.1 459.5,536.2 460.5,536.6 461.5,537.4 462.5,538.5 463.5,539.6 464.5,540.7 465.5,541.4 466.5,541.5 467.5,541.2 468.5,540.4 469.5,539.7 470.5,538.9 471.5,538.4 472.5,538.2 473.5,538.3 474.5,538.4 475.5,538.1 476.5,537.5 477.5,536.7 478.5,535.9 479.5,535.0 480.5,534.2 481.5,533.4 482.5,533.0 483.5,533.2 484.5,534.0 485.5,535.2 486.5,536.4 487.5,537.3 488.5,537.5 489.5,537.3 490.5,536.6 491.5,535.9 492.5,535.2 493.5,534.5 494.5,533.8 495.5,533.1 496.5,532.7 497.5,532.7 498.5,533.0 499.5,533.6 500.5,534.2 501.5,534.7 502.5,535.3 503.5,535.9 504.5,536.3 505.5,536.3 506.5,536.0 507.5,535.5 508.5,535.0 509.5,534.5 510.5,534.0 511.5,533.3 512.5,532.3 513.5,531.0 514.5,529.5 515.5,528.0 516.5,526.5 517.5,525.0 518.5,523.5 519.5,522.6 520.5,522.4 521.5,522.9 522.5,524.0 523.5,525.1 524.5,525.9 525.5,526.0 526.5,525.7 527.5,524.9 528.5,524.1 529.5,523.3 530.5,522.4 531.5,521.4 532.5,520.4 533.5,519.3 534.5,518.3 535.5,517.2 536.5,516.2 537.5,515.2 538.5,514.5 539.5,513.9 540.5,513.4 541.5,512.9 542.5,512.5 543.5,512.0 544.5,511.5 545.5,511.3 546.5,511.4 547.5,511.7 548.5,512.4 549.5,513.0 550.5,513.6 551.5,514.0 552.5,514.1 553.5,513.9 554.5,513.4 555.5,513.7 556.5,515.0 557.5,517.4 558.5,520.0 559.5,521.8 560.5,522.8 561.5,523.3 562.5,523.5 563.5,523.5 564.5,523.2 565.5,522.6 566.5,522.0 567.5,522.2 568.5,523.3 569.5,525.4 570.5,527.7 571.5,529.2 572.5,530.0 573.5,530.3 574.5,530.5 575.5,530.8 576.5,531.1 577.5,531.4 578.5,531.8 579.5,532.3 580.5,532.9 581.5,533.4 582.5,533.9 583.5,534.5 584.5,535.0 585.5,535.4 586.5,535.8 587.5,536.2 588.5,536.5 589.5,536.9 590.5,537.3 591.5,537.5 592.5,537.6 593.5,537.5 594.5,537.3 595.5,537.1 596.5,537.0 597.5,536.8 598.5,536.6 599.5,536.5 600.5,536.5 601.5,536.6 602.5,536.8 603.5,537.0 604.5,537.3 605.5,537.5 606.5,537.5 607.5,537.2 608.5,536.6 609.5,535.8 610.5,535.0 611.5,534.1 612.5,533.3 613.5,532.5 614.5,532.1 615.5,532.2 616.5,532.8 617.5,533.8 618.5,534.7 619.5,535.7 620.5,536.6 621.5,537.6 622.5,538.5 623.5,539.4 624.5,539.9 625.5,539.8 626.5,539.1 627.5,538.0 628.5,537.2 629.5,537.0 630.5,537.3 631.5,538.0 632.5,538.6 633.5,539.3 634.5,539.9 635.5,540.4 636.5,540.9 637.5,541.3 638.5,541.7 639.5,542.0 640.5,542.3 641.5,542.4 642.5,542.5 643.5,542.6 644.5,542.6 645.5,542.7 646.5,542.8 647.5,542.9 648.5,542.9 649.5,543.0 650.5,543.1 651.5,543.2 652.5,543.2 653.5,543.3 654.5,543.4 655.5,543.5 656.5,543.5 657.5,543.6 658.5,543.7 659.5,543.8 660.5,543.8 661.5,543.9 662.5,544.0 663.5,544.0 664.5,544.1 665.5,544.1 666.5,544.2 667.5,544.3 668.5,544.3 669.5,544.4 670.5,544.5 671.5,544.5 672.5,544.6 673.5,544.6 674.5,544.7 675.5,544.8 676.5,544.8 677.5,544.9 678.5,545.0 679.5,545.0 680.5,545.1 681.5,545.1 682.5,545.2 683.5,545.3 684.5,545.3 685.5,545.4 686.5,545.5 687.5,545.5 688.5,545.6 689.5,545.6 690.5,545.7 691.5,545.8 692.5,545.8 693.5,545.9 694.5,546.0 695.5,546.0 696.5,546.1 697.5,546.1 698.5,546.2 699.5,546.3 700.5,546.3 701.5,546.3 702.5,546.4 703.5,546.4 704.5,546.4 705.5,546.4 706.5,546.5 707.5,546.5 708.5,546.5 709.5,546.5 710.5,546.6 711.5,546.6 712.5,546.6 713.5,546.6 714.5,546.7 715.5,546.7 716.5,546.7 717.5,546.8 718.5,546.8 719.5,546.8 720.5,546.8 721.5,546.9 722.5,546.9 723.5,546.9 724.5,546.9 725.5,547.0 726.5,547.0 727.5,547.0 728.5,547.0 729.5,547.1 730.5,547.1 731.5,547.1 732.5,547.1 733.5,547.2 734.5,547.2 735.5,547.2 736.5,547.2 737.5,547.3 738.5,547.3 739.5,547.3 740.5,547.4 741.5,547.4 742.5,547.4 743.5,547.5 744.5,547.5 745.5,547.6 746.5,547.6 747.5,547.6 748.5,547.7 749.5,547.7 750.5,547.8 751.5,547.9 752.5,548.2 753.5,548.6 754.5,549.1 755.5,549.6 756.5,550.1 757.5,550.6 758.5,551.1 759.5,551.4 760.5,551.5 761.5,551.3 762.5,550.9 763.5,550.5 764.5,550.2 765.5,549.8 766.5,549.4 767.5,549.1 768.5,549.0 769.5,548.9 770.5,549.0 771.5,549.0 772.5,549.1 773.5,549.1 774.5,549.2 775.5,549.2 776.5,549.3 777.5,549.3 778.5,549.4 779.5,549.4 780.5,549.4 781.5,549.5 782.5,549.5 783.5,549.6 784.5,549.6 785.5,549.7 786.5,549.7 787.5,549.8 788.5,549.8 789.5,549.9 790.5,549.9 791.5,550.0 792.5,550.0 793.5,550.1 794.5,550.1 795.5,550.2 796.5,550.2 797.5,550.3 798.5,550.3 799.5,550.3 800.5,550.4 801.5,550.4 802.5,550.4 803.5,550.4 804.5,550.5 805.5,550.5 806.5,550.5 807.5,550.5 808.5,550.5 809.5,550.5 810.5,550.6 811.5,550.6 812.5,550.6 813.5,550.6 814.5,550.6 815.5,550.6 816.5,550.7 817.5,550.7 818.5,550.7 819.5,550.7 820.5,550.7 821.5,550.7 822.5,550.8 823.5,550.8 824.5,550.8 825.5,550.8 826.5,550.8 827.5,550.9 828.5,550.9 829.5,550.9 830.5,550.9 831.5,550.9 832.5,550.9 833.5,551.0 834.5,551.0 835.5,551.0 836.5,551.0 837.5,551.0 838.5,551.0 839.5,551.1 840.5,551.1 841.5,551.1 842.5,551.1 843.5,551.1 844.5,551.2 845.5,551.2 846.5,551.2 847.5,551.2 848.5,551.2 849.5,551.2 850.5,551.3 851.5,551.3 852.5,551.3 853.5,551.3 854.5,551.3 855.5,551.3 856.5,551.4 857.5,551.4 858.5,551.4 859.5,551.4 860.5,551.4 861.5,551.4 862.5,551.4 863.5,551.3 864.5,551.3 865.5,551.3 866.5,551.3 867.5,551.3 868.5,551.2 869.5,551.2 870.5,551.2 871.5,551.2 872.5,551.2 873.5,551.1 874.5,551.1 875.5,551.1 876.5,551.1 877.5,551.1 878.5,551.0 879.5,551.0 880.5,551.0 881.5,551.0 882.5,550.9 883.5,550.9 884.5,550.9 885.5,550.9 886.5,550.9 887.5,550.8 888.5,550.8 889.5,550.8 890.5,550.8 891.5,550.8 892.5,550.7 893.5,550.7 894.5,550.7 895.5,550.7 896.5,550.7 897.5,550.6 898.5,550.6 899.5,550.6 900.5,550.6 901.5,550.5 902.5,550.5 903.5,550.5 904.5,550.5 905.5,550.5 906.5,550.4 907.5,550.4 908.5,550.4 909.5,550.4 910.5,550.4 911.5,550.3 912.5,550.3 913.5,550.3 914.5,550.3 915.5,550.3 916.5,550.2 917.5,550.2 918.5,550.2 919.5,550.2 920.5,550.1 921.5,550.1 922.5,550.1 923.5,550.1 924.5,550.1 925.5,550.0 926.5,550.0 927.5,550.0 928.5,550.0 929.5,550.0 930.5,550.0 931.5,550.0 932.5,550.1 933.5,550.1 934.5,550.2 935.5,550.2 936.5,550.2 937.5,550.3 938.5,550.3 939.5,550.4 940.5,550.4 941.5,550.5 942.5,550.5 943.5,550.6 944.5,550.6 945.5,550.7 946.5,550.7 947.5,550.8 948.5,550.8 949.5,550.8 950.5,550.9 951.5,550.9 952.5,551.0 953.5,551.0 954.5,551.1 955.5,551.1 956.5,551.2 957.5,551.2 958.5,551.3 959.5,551.3 960.5,551.4 961.5,551.4 962.5,551.4 963.5,551.5 964.5,551.5 965.5,551.6 966.5,551.6 967.5,551.7 968.5,551.7 969.5,551.8 970.5,551.8 971.5,551.9 972.5,551.9 973.5,552.0 974.5,552.0 975.5,552.1 976.5,552.1 977.5,552.1 978.5,552.2 979.5,552.2 980.5,552.3 981.5,552.3 982.5,552.4 983.5,552.4 984.5,552.5 985.5,552.5 986.5,552.6 987.5,552.6 988.5,552.7 989.5,552.7 990.5,552.7 991.5,552.8 992.5,552.8 993.5,552.9 994.5,552.9 995.5,553.0 996.5,553.0 997.5,553.1 998.5,553.1 999.5,553.2 1000.5,553.2 1001.5,553.3 1002.5,553.3 1003.5,553.3 1004.5,553.4 1005.5,553.4 1006.5,553.5 1007.5,553.5 1008.5,553.6 1009.5,553.6 1010.5,553.7 1011.5,553.7 1012.5,553.8 1013.5,553.8 1014.5,553.9 1015.5,553.9 1016.5,553.9 1017.5,554.0 1018.5,554.0 1019.5,554.1 1020.5,554.1 1021.5,554.2 1022.5,554.2 1023.5,554.3 1024.5,554.3 1025.5,554.4 1026.5,554.4 1027.5,554.5 1028.5,554.5 1029.5,554.5 1030.5,554.6 1031.5,554.6 1032.5,554.7 1033.5,554.7 1034.5,554.8 1035.5,554.8 1036.5,554.9 1037.5,554.9 1038.5,555.0 1039.5,555.0 1040.5,555.1 1041.5,555.1 1042.5,555.1 1043.5,555.2 1044.5,555.2 1045.5,555.3 1046.5,555.3 1047.5,555.4 1048.5,555.4 1049.5,555.5 1050.5,555.5 1051.5,555.5 1052.5,555.6 1053.5,555.6 1054.5,555.6 1055.5,555.7 1056.5,555.7 1057.5,555.7 1058.5,555.8 1059.5,555.8 1060.5,555.8 1061.5,555.8 1062.5,555.9 1063.5,555.9 1064.5,555.9 1065.5,556.0 1066.5,556.0 1067.5,556.0 1068.5,556.1 1069.5,556.1 1070.5,556.1 1071.5,556.1 1072.5,556.2 1073.5,556.2 1074.5,556.2 1075.5,556.3 1076.5,556.3 1077.5,556.3 1078.5,556.4 1079.5,556.4 1080.5,556.4 1081.5,556.5 1082.5,556.5 1083.5,556.5 1084.5,556.5 1085.5,556.6 1086.5,556.6 1087.5,556.6 1088.5,556.7 1089.5,556.7 1090.5,556.7 1091.5,556.8 1092.5,556.8 1093.5,556.8 1094.5,556.8 1095.5,556.9 1096.5,556.9 1097.5,556.9 1098.5,557.0 1099.5,557.0 1100.5,557.0 1101.5,556.9 1102.5,556.9 1103.5,556.8 1104.5,556.8 1105.5,556.7 1106.5,556.7 1107.5,556.6 1108.5,556.6 1109.5,556.5 1110.5,556.5 1111.5,556.4 1112.5,556.4 1113.5,556.3 1114.5,556.3 1115.5,556.2 1116.5,556.2 1117.5,556.1 1118.5,556.1 1119.5,556.0 1120.5,556.0 1121.5,555.9 1122.5,555.9 1123.5,555.8 1124.5,555.8 1125.5,555.7 1126.5,555.7 1127.5,555.6 1128.5,555.6 1129.5,555.5 1130.5,555.5 1131.5,555.5 1132.5,555.4 1133.5,555.4 1134.5,555.3 1135.5,555.3 1136.5,555.2 1137.5,555.2 1138.5,555.1 1139.5,555.1 1140.5,555.0 1141.5,555.0 1142.5,554.9 1143.5,554.9 1144.5,554.8 1145.5,554.8 1146.5,554.7 1147.5,554.7 1148.5,554.6 1149.5,554.6 1150.5,554.5 1151.5,554.5 1152.5,554.4 1153.5,554.4 1154.5,554.3 1155.5,554.3 1156.5,554.2 1157.5,554.2 1158.5,554.1 1159.5,554.1 1160.5,554.0 1161.5,554.0 1162.5,553.9 1163.5,553.9 1164.5,553.8 1165.5,553.8 1166.5,553.7 1167.5,553.7 1168.5,553.6 1169.5,553.6 1169.5,555.5 1168.5,555.5 1167.5,555.6 1166.5,555.6 1165.5,555.7 1164.5,555.7 1163.5,555.8 1162.5,555.8 1161.5,555.9 1160.5,555.9 1159.5,556.0 1158.5,556.0 1157.5,556.1 1156.5,556.1 1155.5,556.2 1154.5,556.2 1153.5,556.3 1152.5,556.3 1151.5,556.4 1150.5,556.4 1149.5,556.5 1148.5,556.5 1147.5,556.6 1146.5,556.6 1145.5,556.7 1144.5,556.7 1143.5,556.8 1142.5,556.8 1141.5,556.9 1140.5,556.9 1139.5,557.0 1138.5,557.0 1137.5,557.1 1136.5,557.1 1135.5,557.2 1134.5,557.2 1133.5,557.3 1132.5,557.3 1131.5,557.4 1130.5,557.5 1129.5,557.5 1128.5,557.6 1127.5,557.6 1126.5,557.7 1125.5,557.7 1124.5,557.8 1123.5,557.8 1122.5,557.9 1121.5,557.9 1120.5,558.0 1119.5,558.0 1118.5,558.1 1117.5,558.1 1116.5,558.2 1115.5,558.2 1114.5,558.3 1113.5,558.3 1112.5,558.4 1111.5,558.4 1110.5,558.5 1109.5,558.5 1108.5,558.6 1107.5,558.6 1106.5,558.7 1105.5,558.7 1104.5,558.8 1103.5,558.8 1102.5,558.9 1101.5,558.9 1100.5,558.9 1099.5,559.0 1098.5,558.9 1097.5,558.9 1096.5,558.9 1095.5,558.9 1094.5,558.8 1093.5,558.8 1092.5,558.8 1091.5,558.7 1090.5,558.7 1089.5,558.7 1088.5,558.6 1087.5,558.6 1086.5,558.6 1085.5,558.6 1084.5,558.5 1083.5,558.5 1082.5,558.5 1081.5,558.4 1080.5,558.4 1079.5,558.4 1078.5,558.4 1077.5,558.3 1076.5,558.3 1075.5,558.3 1074.5,558.2 1073.5,558.2 1072.5,558.2 1071.5,558.1 1070.5,558.1 1069.5,558.1 1068.5,558.1 1067.5,558.0 1066.5,558.0 1065.5,558.0 1064.5,557.9 1063.5,557.9 1062.5,557.9 1061.5,557.8 1060.5,557.8 1059.5,557.8 1058.5,557.8 1057.5,557.7 1056.5,557.7 1055.5,557.7 1054.5,557.6 1053.5,557.6 1052.5,557.6 1051.5,557.6 1050.5,557.5 1049.5,557.5 1048.5,557.4 1047.5,557.4 1046.5,557.3 1045.5,557.3 1044.5,557.3 1043.5,557.2 1042.5,557.2 1041.5,557.1 1040.5,557.1 1039.5,557.0 1038.5,557.0 1037.5,556.9 1036.5,556.9 1035.5,556.8 1034.5,556.8 1033.5,556.8 1032.5,556.7 1031.5,556.7 1030.5,556.6 1029.5,556.6 1028.5,556.5 1027.5,556.5 1026.5,556.4 1025.5,556.4 1024.5,556.3 1023.5,556.3 1022.5,556.3 1021.5,556.2 1020.5,556.2 1019.5,556.1 1018.5,556.1 1017.5,556.0 1016.5,556.0 1015.5,555.9 1014.5,555.9 1013.5,555.8 1012.5,555.8 1011.5,555.8 1010.5,555.7 1009.5,555.7 1008.5,555.6 1007.5,555.6 1006.5,555.5 1005.5,555.5 1004.5,555.4 1003.5,555.4 1002.5,555.3 1001.5,555.3 1000.5,555.3 999.5,555.2 998.5,555.2 997.5,555.1 996.5,555.1 995.5,555.0 994.5,555.0 993.5,554.9 992.5,554.9 991.5,554.8 990.5,554.8 989.5,554.8 988.5,554.7 987.5,554.7 986.5,554.6 985.5,554.6 984.5,554.5 983.5,554.5 982.5,554.4 981.5,554.4 980.5,554.3 979.5,554.3 978.5,554.3 977.5,554.2 976.5,554.2 975.5,554.1 974.5,554.1 973.5,554.0 972.5,554.0 971.5,553.9 970.5,553.9 969.5,553.8 968.5,553.8 967.5,553.8 966.5,553.7 965.5,553.7 964.5,553.6 963.5,553.6 962.5,553.5 961.5,553.5 960.5,553.4 959.5,553.4 958.5,553.3 957.5,553.3 956.5,553.3 955.5,553.2 954.5,553.2 953.5,553.1 952.5,553.1 951.5,553.0 950.5,553.0 949.5,552.9 948.5,552.9 947.5,552.8 946.5,552.8 945.5,552.8 944.5,552.7 943.5,552.7 942.5,552.6 941.5,552.6 940.5,552.5 939.5,552.5 938.5,552.4 937.5,552.4 936.5,552.3 935.5,552.3 934.5,552.3 933.5,552.2 932.5,552.2 931.5,552.1 930.5,552.1 929.5,552.1 928.5,552.1 927.5,552.1 926.5,552.1 925.5,552.2 924.5,552.2 923.5,552.2 922.5,552.2 921.5,552.2 920.5,552.3 919.5,552.3 918.5,552.3 917.5,552.3 916.5,552.3 915.5,552.4 914.5,552.4 913.5,552.4 912.5,552.4 911.5,552.5 910.5,552.5 909.5,552.5 908.5,552.5 907.5,552.5 906.5,552.6 905.5,552.6 904.5,552.6 903.5,552.6 902.5,552.7 901.5,552.7 900.5,552.7 899.5,552.7 898.5,552.7 897.5,552.8 896.5,552.8 895.5,552.8 894.5,552.8 893.5,552.8 892.5,552.9 891.5,552.9 890.5,552.9 889.5,552.9 888.5,553.0 887.5,553.0 886.5,553.0 885.5,553.0 884.5,553.0 883.5,553.1 882.5,553.1 881.5,553.1 880.5,553.1 879.5,553.2 878.5,553.2 877.5,553.2 876.5,553.2 875.5,553.2 874.5,553.3 873.5,553.3 872.5,553.3 871.5,553.3 870.5,553.4 869.5,553.4 868.5,553.4 867.5,553.4 866.5,553.4 865.5,553.5 864.5,553.5 863.5,553.5 862.5,553.5 861.5,553.5 860.5,553.6 859.5,553.6 858.5,553.6 857.5,553.5 856.5,553.5 855.5,553.5 854.5,553.5 853.5,553.5 852.5,553.5 851.5,553.4 850.5,553.4 849.5,553.4 848.5,553.4 847.5,553.4 846.5,553.4 845.5,553.3 844.5,553.3 843.5,553.3 842.5,553.3 841.5,553.3 840.5,553.3 839.5,553.3 838.5,553.2 837.5,553.2 836.5,553.2 835.5,553.2 834.5,553.2 833.5,553.2 832.5,553.1 831.5,553.1 830.5,553.1 829.5,553.1 828.5,553.1 827.5,553.1 826.5,553.0 825.5,553.0 824.5,553.0 823.5,553.0 822.5,553.0 821.5,553.0 820.5,553.0 819.5,552.9 818.5,552.9 817.5,552.9 816.5,552.9 815.5,552.9 814.5,552.9 813.5,552.8 812.5,552.8 811.5,552.8 810.5,552.8 809.5,552.8 808.5,552.8 807.5,552.7 806.5,552.7 805.5,552.7 804.5,552.7 803.5,552.7 802.5,552.7 801.5,552.6 800.5,552.6 799.5,552.6 798.5,552.6 797.5,552.5 796.5,552.5 795.5,552.4 794.5,552.4 793.5,552.3 792.5,552.3 791.5,552.2 790.5,552.2 789.5,552.1 788.5,552.1 787.5,552.0 786.5,552.0 785.5,552.0 784.5,551.9 783.5,551.9 782.5,551.8 781.5,551.8 780.5,551.7 779.5,551.7 778.5,551.6 777.5,551.6 776.5,551.5 775.5,551.5 774.5,551.4 773.5,551.4 772.5,551.4 771.5,551.3 770.5,551.3 769.5,551.2 768.5,551.3 767.5,551.4 766.5,551.7 765.5,552.1 764.5,552.5 763.5,552.8 762.5,553.2 761.5,553.6 760.5,553.8 759.5,553.7 758.5,553.4 757.5,552.9 756.5,552.4 755.5,551.9 754.5,551.4 753.5,550.9 752.5,550.5 751.5,550.2 750.5,550.1 749.5,550.1 748.5,550.0 747.5,550.0 746.5,549.9 745.5,549.9 744.5,549.9 743.5,549.8 742.5,549.8 741.5,549.7 740.5,549.7 739.5,549.7 738.5,549.6 737.5,549.6 736.5,549.6 735.5,549.6 734.5,549.5 733.5,549.5 732.5,549.5 731.5,549.5 730.5,549.4 729.5,549.4 728.5,549.4 727.5,549.4 726.5,549.3 725.5,549.3 724.5,549.3 723.5,549.3 722.5,549.2 721.5,549.2 720.5,549.2 719.5,549.2 718.5,549.1 717.5,549.1 716.5,549.1 715.5,549.1 714.5,549.1 713.5,549.0 712.5,549.0 711.5,549.0 710.5,549.0 709.5,548.9 708.5,548.9 707.5,548.9 706.5,548.9 705.5,548.8 704.5,548.8 703.5,548.8 702.5,548.8 701.5,548.7 700.5,548.7 699.5,548.7 698.5,548.6 697.5,548.5 696.5,548.5 695.5,548.4 694.5,548.4 693.5,548.3 692.5,548.2 691.5,548.2 690.5,548.1 689.5,548.0 688.5,548.0 687.5,547.9 686.5,547.9 685.5,547.8 684.5,547.7 683.5,547.7 682.5,547.6 681.5,547.5 680.5,547.5 679.5,547.4 678.5,547.4 677.5,547.3 676.5,547.2 675.5,547.2 674.5,547.1 673.5,547.0 672.5,547.0 671.5,546.9 670.5,546.9 669.5,546.8 668.5,546.7 667.5,546.7 666.5,546.6 665.5,546.5 664.5,546.5 663.5,546.4 662.5,546.4 661.5,546.3 660.5,546.2 659.5,546.2 658.5,546.1 657.5,546.0 656.5,545.9 655.5,545.9 654.5,545.8 653.5,545.7 652.5,545.6 651.5,545.6 650.5,545.5 649.5,545.4 648.5,545.3 647.5,545.3 646.5,545.2 645.5,545.1 644.5,545.0 643.5,545.0 642.5,544.9 641.5,544.8 640.5,544.7 639.5,544.4 638.5,544.1 637.5,543.7 636.5,543.3 635.5,542.8 634.5,542.3 633.5,541.7 632.5,541.0 631.5,540.4 630.5,539.7 629.5,539.4 628.5,539.6 627.5,540.4 626.5,541.5 625.5,542.2 624.5,542.3 623.5,541.8 622.5,540.9 621.5,540.0 620.5,539.0 619.5,538.1 618.5,537.1 617.5,536.2 616.5,535.2 615.5,534.6 614.5,534.5 613.5,534.9 612.5,535.7 611.5,536.5 610.5,537.4 609.5,538.2 608.5,539.0 607.5,539.6 606.5,539.9 605.5,539.9 604.5,539.7 603.5,539.5 602.5,539.2 601.5,539.0 600.5,538.9 599.5,538.9 598.5,539.0 597.5,539.2 596.5,539.4 595.5,539.5 594.5,539.7 593.5,539.9 592.5,540.0 591.5,539.9 590.5,539.7 589.5,539.3 588.5,539.0 587.5,538.6 586.5,538.2 585.5,537.8 584.5,537.4 583.5,536.9 582.5,536.3 581.5,535.8 580.5,535.3 579.5,534.7 578.5,534.2 577.5,533.8 576.5,533.5 575.5,533.2 574.5,532.9 573.5,532.7 572.5,532.4 571.5,531.6 570.5,530.1 569.5,527.8 568.5,525.7 567.5,524.6 566.5,524.4 565.5,525.0 564.5,525.6 563.5,525.9 562.5,525.9 561.5,525.7 560.5,525.2 559.5,524.2 558.5,522.4 557.5,519.8 556.5,517.4 555.5,516.1 554.5,515.8 553.5,516.3 552.5,516.5 551.5,516.4 550.5,516.1 549.5,515.4 548.5,514.8 547.5,514.1 546.5,513.8 545.5,513.7 544.5,513.9 543.5,514.4 542.5,514.9 541.5,515.3 540.5,515.8 539.5,516.3 538.5,516.9 537.5,517.6 536.5,518.6 535.5,519.6 534.5,520.7 533.5,521.7 532.5,522.8 531.5,523.8 530.5,524.8 529.5,525.7 528.5,526.5 527.5,527.3 526.5,528.1 525.5,528.4 524.5,528.3 523.5,527.5 522.5,526.5 521.5,525.4 520.5,524.8 519.5,525.0 518.5,526.0 517.5,527.5 516.5,529.0 515.5,530.5 514.5,532.0 513.5,533.4 512.5,534.7 511.5,535.7 510.5,536.5 509.5,537.0 508.5,537.5 507.5,538.0 506.5,538.5 505.5,538.7 504.5,538.7 503.5,538.3 502.5,537.7 501.5,537.1 500.5,536.6 499.5,536.0 498.5,535.4 497.5,535.1 496.5,535.1 495.5,535.5 494.5,536.2 493.5,536.9 492.5,537.6 491.5,538.3 490.5,539.0 489.5,539.7 488.5,539.9 487.5,539.7 486.5,538.8 485.5,537.6 484.5,536.4 483.5,535.6 482.5,535.4 481.5,535.8 480.5,536.6 479.5,537.4 478.5,538.3 477.5,539.1 476.5,539.9 475.5,540.5 474.5,540.8 473.5,540.7 472.5,540.6 471.5,540.8 470.5,541.3 469.5,542.1 468.5,542.8 467.5,543.6 466.5,543.9 465.5,543.8 464.5,543.1 463.5,542.0 462.5,540.9 461.5,539.8 460.5,539.0 459.5,538.6 458.5,538.5 457.5,538.8 456.5,539.0 455.5,539.2 454.5,539.5 453.5,539.7 452.5,539.9 451.5,540.2 450.5,540.4 449.5,540.6 448.5,540.9 447.5,540.9 446.5,540.9 445.5,540.6 444.5,540.2 443.5,539.7 442.5,539.3 441.5,539.0 440.5,538.9 439.5,539.0 438.5,539.2 437.5,539.4 436.5,539.5 435.5,539.7 434.5,539.9 433.5,540.1 432.5,540.3 431.5,540.6 430.5,540.8 429.5,541.1 428.5,541.3 427.5,541.6 426.5,541.8 425.5,541.9 424.5,541.6 423.5,541.0 422.5,540.2 421.5,539.5 420.5,538.7 419.5,537.9 418.5,537.4 417.5,537.2 416.5,537.5 415.5,538.0 414.5,538.5 413.5,538.9 412.5,539.5 411.5,540.0 410.5,540.5 409.5,540.8 408.5,541.0 407.5,541.0 406.5,540.8 405.5,540.7 404.5,540.6 403.5,540.4 402.5,540.3 401.5,540.1 400.5,540.0 399.5,539.9 398.5,539.8 397.5,539.9 396.5,540.0 395.5,540.2 394.5,540.3 393.5,540.5 392.5,540.6 391.5,540.8 390.5,541.0 389.5,540.8 388.5,540.4 387.5,539.5 386.5,538.4 385.5,537.4 384.5,536.6 383.5,536.0 382.5,535.5 381.5,535.0 380.5,534.5 379.5,534.0 378.5,533.7 377.5,533.5 376.5,533.4 375.5,533.3 374.5,533.1 373.5,533.0 372.5,532.9 371.5,532.7 370.5,532.6 369.5,532.3 368.5,532.1 367.5,531.8 366.5,531.6 365.5,531.4 364.5,531.1 363.5,530.9 362.5,530.7 361.5,530.7 360.5,530.9 359.5,531.1 358.5,531.4 357.5,531.6 356.5,531.9 355.5,532.2 354.5,532.4 353.5,532.6 352.5,532.7 351.5,532.7 350.5,532.6 349.5,532.5 348.5,532.4 347.5,532.3 346.5,532.2 345.5,532.2 344.5,532.1 343.5,532.0 342.5,531.9 341.5,531.9 340.5,531.9 339.5,531.9 338.5,531.8 337.5,531.8 336.5,531.8 335.5,531.8 334.5,531.7 333.5,531.7 332.5,531.7 331.5,531.7 330.5,531.6 329.5,531.4 328.5,531.1 327.5,530.8 326.5,530.4 325.5,530.1 324.5,529.8 323.5,529.4 322.5,529.1 321.5,528.8 320.5,528.5 319.5,528.2 318.5,528.0 317.5,527.8 316.5,527.7 315.5,527.5 314.5,527.4 313.5,527.2 312.5,527.0 311.5,526.9 310.5,526.7 309.5,526.5 308.5,526.4 307.5,526.2 306.5,526.1 305.5,526.0 304.5,526.0 303.5,526.1 302.5,526.1 301.5,526.2 300.5,526.2 299.5,526.2 298.5,526.3 297.5,526.3 296.5,526.4 295.5,526.4 294.5,526.5 293.5,526.5 292.5,526.6 291.5,526.6 290.5,526.7 289.5,526.7 288.5,526.6 287.5,526.5 286.5,526.4 285.5,526.2 284.5,526.1 283.5,525.9 282.5,525.8 281.5,525.6 280.5,525.5 279.5,525.4 278.5,525.4 277.5,525.3 276.5,525.3 275.5,525.3 274.5,525.3 273.5,525.2 272.5,525.2 271.5,525.2 270.5,525.1 269.5,524.9 268.5,524.7 267.5,524.4 266.5,524.1 265.5,523.9 264.5,523.6 263.5,523.3 262.5,523.0 261.5,522.7 260.5,522.4 259.5,522.2 258.5,521.9 257.5,521.6 256.5,521.3 255.5,521.1 254.5,520.8 253.5,520.6 252.5,520.3 251.5,520.1 250.5,519.9 249.5,519.6 248.5,519.4 247.5,519.1 246.5,518.9 245.5,518.5 244.5,517.9 243.5,517.2 242.5,516.3 241.5,515.5 240.5,514.6 239.5,513.7 238.5,512.8 237.5,512.1 236.5,511.5 235.5,511.1 234.5,510.8 233.5,510.5 232.5,510.2 231.5,510.0 230.5,509.8 229.5,509.8 228.5,510.0 227.5,510.4 226.5,510.7 225.5,511.0 224.5,511.4 223.5,511.7 222.5,512.0 221.5,512.4 220.5,512.7 219.5,513.0 218.5,513.4 217.5,513.7 216.5,514.0 215.5,514.3 214.5,514.6 213.5,514.7 212.5,514.6 211.5,514.2 210.5,513.6 209.5,513.0 208.5,512.4 207.5,511.9 206.5,511.3 205.5,510.8 204.5,510.3 203.5,509.8 202.5,509.3 201.5,508.8 200.5,508.5 199.5,508.5 198.5,508.8 197.5,509.3 196.5,509.8 195.5,510.2 194.5,510.5 193.5,510.7 192.5,510.8 191.5,510.8 190.5,510.9 189.5,511.0 188.5,511.0 187.5,511.1 186.5,511.1 185.5,511.1 184.5,511.1 183.5,511.1 182.5,511.1 181.5,511.1 180.5,511.1 179.5,511.1 178.5,511.1 177.5,511.1 176.5,511.1 175.5,511.1 174.5,511.1 173.5,511.2 172.5,511.3 171.5,511.4 170.5,511.6 169.5,511.8 168.5,512.0 167.5,512.2 166.5,512.3 165.5,512.4 164.5,512.3 163.5,512.0 162.5,511.6 161.5,511.1 160.5,510.7 159.5,510.3 158.5,510.0 157.5,509.8 156.5,509.9 155.5,510.0 154.5,510.2 153.5,510.3 152.5,510.5 151.5,510.6 150.5,510.8 149.5,511.0 148.5,511.1 147.5,511.3 146.5,511.4 145.5,511.6 144.5,511.7 143.5,511.9 142.5,512.0 141.5,512.2 140.5,512.3 139.5,512.5 138.5,512.6 137.5,512.8 136.5,512.9 135.5,513.1 134.5,513.1 133.5,513.1 132.5,513.1 131.5,513.0 130.5,513.0 129.5,512.9 128.5,512.9 127.5,512.8 126.5,512.8 125.5,512.6 124.5,512.4 123.5,512.0 122.5,511.6 121.5,511.1 120.5,510.7 119.5,510.2 118.5,509.8 117.5,509.3 116.5,508.9 115.5,508.4 114.5,507.9 113.5,507.3 112.5,506.7 111.5,506.1 110.5,505.5 109.5,504.9 108.5,504.4 107.5,504.1 106.5,504.1 105.5,504.4 104.5,504.7 103.5,505.1 102.5,505.4 101.5,505.7 100.5,506.0 99.5,506.3 98.5,506.5 97.5,506.6 96.5,506.8 95.5,507.0 94.5,507.2 93.5,507.3 92.5,507.5 91.5,507.6"/><polygon points="175.8,509.0 176.5,506.3 176.9,503.5 177.4,499.9 177.7,496.3 177.8,493.5 178.2,491.9 178.9,490.8 179.9,490.8 180.6,491.9 181.0,493.5 181.1,496.3 181.4,499.9 181.9,503.5 182.3,506.3 183.0,509.0"/><polygon points="199.4,507.5 200.1,504.2 200.5,500.8 201.0,496.4 201.3,492.0 201.4,488.6 201.5,486.6 202.5,485.3 203.5,485.3 204.5,486.6 204.6,488.6 204.7,492.0 205.0,496.4 205.5,500.8 205.9,504.2 206.6,507.5"/><polygon points="223.2,508.6 223.9,506.8 224.3,505.1 224.8,502.8 225.1,500.5 225.2,498.7 225.6,497.7 226.3,497.0 227.3,497.0 228.0,497.7 228.4,498.7 228.5,500.5 228.8,502.8 229.3,505.1 229.7,506.8 230.4,508.6"/><polygon points="231.4,508.9 232.1,503.7 232.5,498.6 233.0,491.7 233.3,484.8 233.4,479.6 233.5,476.5 234.5,474.4 235.5,474.4 236.5,476.5 236.6,479.6 236.7,484.8 237.0,491.7 237.5,498.6 237.9,503.7 238.6,508.9"/><polygon points="258.4,521.1 259.1,517.0 259.5,513.0 260.0,507.5 260.3,502.1 260.4,498.1 260.5,495.6 261.5,494.0 262.5,494.0 263.5,495.6 263.6,498.1 263.7,502.1 264.0,507.5 264.5,513.0 264.9,517.0 265.6,521.1"/><polygon points="262.3,522.3 263.0,519.2 263.4,516.1 263.9,512.0 264.2,507.9 264.3,504.8 264.4,502.9 265.4,501.7 266.4,501.7 267.4,502.9 267.5,504.8 267.6,507.9 267.9,512.0 268.4,516.1 268.8,519.2 269.4,522.3"/><polygon points="280.1,524.6 280.8,518.7 281.2,512.9 281.7,505.0 282.0,497.2 282.1,491.3 282.2,487.8 283.2,485.4 284.2,485.4 285.2,487.8 285.3,491.3 285.4,497.2 285.7,505.0 286.2,512.9 286.6,518.7 287.2,524.6"/><polygon points="295.2,525.2 296.1,522.7 296.8,520.3 297.5,517.0 298.0,513.8 298.1,511.3 298.7,509.9 299.7,508.9 301.3,508.9 302.3,509.9 302.9,511.3 303.0,513.8 303.5,517.0 304.2,520.3 304.9,522.7 305.8,525.2"/><polygon points="332.3,531.3 333.2,529.9 333.9,528.6 334.6,526.8 335.0,525.0 335.2,523.6 335.6,522.8 336.6,522.3 338.2,522.3 339.2,522.8 339.6,523.6 339.8,525.0 340.2,526.8 340.9,528.6 341.6,529.9 342.4,531.3"/><polygon points="354.8,531.2 355.5,528.2 355.9,525.3 356.4,521.3 356.7,517.4 356.8,514.5 357.2,512.7 357.9,511.5 358.9,511.5 359.6,512.7 360.0,514.5 360.1,517.4 360.4,521.3 360.9,525.3 361.3,528.2 361.9,531.2"/><polygon points="361.6,531.2 362.2,518.4 362.8,505.6 363.3,488.6 363.6,471.5 363.8,458.8 363.8,451.1 364.9,446.0 366.1,446.0 367.2,451.1 367.2,458.8 367.4,471.5 367.7,488.6 368.2,505.6 368.8,518.4 369.4,531.2"/><polygon points="372.1,533.1 372.7,525.3 373.2,517.5 373.7,507.0 374.0,496.6 374.1,488.8 374.2,484.1 375.2,481.0 376.3,481.0 377.3,484.1 377.4,488.8 377.5,496.6 377.8,507.0 378.3,517.5 378.8,525.3 379.4,533.1"/><polygon points="374.7,533.7 375.4,531.6 376.0,529.6 376.6,526.8 377.0,524.1 377.1,522.0 377.5,520.8 378.3,520.0 379.7,520.0 380.5,520.8 380.9,522.0 381.0,524.1 381.4,526.8 382.0,529.6 382.6,531.6 383.3,533.7"/><polygon points="381.2,536.8 381.8,534.6 382.4,532.3 382.9,529.4 383.2,526.4 383.3,524.2 383.7,522.9 384.4,522.0 385.6,522.0 386.3,522.9 386.7,524.2 386.8,526.4 387.1,529.4 387.6,532.3 388.2,534.6 388.8,536.8"/><polygon points="391.8,540.0 392.4,535.7 392.8,531.3 393.3,525.5 393.6,519.7 393.7,515.4 393.8,512.7 394.8,511.0 395.8,511.0 396.8,512.7 396.9,515.4 397.0,519.7 397.3,525.5 397.8,531.3 398.2,535.7 398.9,540.0"/><polygon points="398.2,540.0 398.8,537.5 399.3,535.0 399.8,531.7 400.1,528.4 400.2,525.9 400.5,524.4 401.2,523.4 402.3,523.4 403.0,524.4 403.3,525.9 403.4,528.4 403.7,531.7 404.2,535.0 404.7,537.5 405.3,540.0"/><polygon points="411.2,538.1 411.8,534.8 412.3,531.4 412.8,527.0 413.1,522.5 413.2,519.1 413.2,517.1 414.2,515.8 415.3,515.8 416.3,517.1 416.3,519.1 416.4,522.5 416.7,527.0 417.2,531.4 417.7,534.8 418.3,538.1"/><polygon points="417.7,539.1 418.3,533.9 418.8,528.8 419.3,522.0 419.6,515.2 419.7,510.1 419.7,507.0 420.7,505.0 421.8,505.0 422.8,507.0 422.8,510.1 422.9,515.2 423.2,522.0 423.7,528.8 424.2,533.9 424.8,539.1"/><polygon points="426.9,540.6 427.6,538.5 428.0,536.4 428.5,533.7 428.8,530.9 428.9,528.8 429.3,527.5 430.0,526.7 431.0,526.7 431.7,527.5 432.1,528.8 432.2,530.9 432.5,533.7 433.0,536.4 433.4,538.5 434.1,540.6"/><polygon points="432.2,539.5 432.9,535.4 433.3,531.3 433.8,525.8 434.1,520.4 434.2,516.3 434.3,513.8 435.3,512.2 436.3,512.2 437.3,513.8 437.4,516.3 437.5,520.4 437.8,525.8 438.3,531.3 438.7,535.4 439.4,539.5"/><polygon points="440.1,539.6 440.7,536.2 441.1,532.8 441.6,528.3 441.9,523.8 442.0,520.4 442.1,518.4 443.1,517.0 444.1,517.0 445.1,518.4 445.2,520.4 445.3,523.8 445.6,528.3 446.1,532.8 446.5,536.2 447.2,539.6"/><polygon points="450.7,538.9 451.6,536.2 452.3,533.4 453.0,529.7 453.5,526.0 453.6,523.3 454.2,521.6 455.2,520.5 456.8,520.5 457.8,521.6 458.4,523.3 458.5,526.0 459.0,529.7 459.7,533.4 460.4,536.2 461.3,538.9"/><polygon points="474.9,537.9 475.5,534.5 476.1,531.2 476.6,526.7 476.9,522.2 477.0,518.9 477.0,516.8 478.1,515.5 479.3,515.5 480.4,516.8 480.4,518.9 480.5,522.2 480.8,526.7 481.3,531.2 481.9,534.5 482.5,537.9"/><polygon points="608.7,534.3 609.8,533.5 610.6,532.8 611.5,531.8 612.0,530.9 612.2,530.1 612.8,529.7 614.0,529.4 616.0,529.4 617.2,529.7 617.8,530.1 618.0,530.9 618.5,531.8 619.4,532.8 620.2,533.5 621.3,534.3"/><polygon points="763.5,551.1 764.7,549.9 765.8,548.7 766.8,547.1 767.4,545.4 767.6,544.2 768.4,543.5 769.8,543.0 772.2,543.0 773.6,543.5 774.4,544.2 774.6,545.4 775.2,547.1 776.2,548.7 777.3,549.9 778.5,551.1"/></g><polyline fill="none" stroke="#ff0a0a" stroke-width="3.6" stroke-linejoin="round" points="91.5,504.2 92.0,507.1 92.5,506.3 93.0,506.3 93.5,508.9 94.0,501.4 94.5,503.1 95.0,501.4 95.5,504.7 96.0,507.6 96.5,504.8 97.0,506.1 97.5,499.4 98.0,504.8 98.5,501.8 99.0,509.0 99.5,506.5 100.0,506.6 100.5,501.5 101.0,505.1 101.5,504.8 102.0,501.7 102.5,500.9 103.0,501.5 103.5,499.8 104.0,499.6 104.5,500.2 105.0,498.8 105.5,502.8 106.0,496.5 106.5,503.0 107.0,496.9 107.5,499.7 108.0,497.8 108.5,501.3 109.0,501.3 109.5,502.7 110.0,501.1 110.5,503.0 111.0,508.0 111.5,504.6 112.0,502.4 112.5,506.8 113.0,504.3 113.5,506.5 114.0,506.8 114.5,504.3 115.0,500.2 115.5,504.5 116.0,507.0 116.5,504.6 117.0,507.0 117.5,508.8 118.0,505.2 118.5,510.5 119.0,512.2 119.5,511.4 120.0,512.0 120.5,512.1 121.0,512.7 121.5,509.7 122.0,509.1 122.5,508.9 123.0,506.6 123.5,503.0 124.0,507.3 124.5,511.0 125.0,511.5 125.5,506.4 126.0,505.4 126.5,509.5 127.0,507.9 127.5,510.0 128.0,511.9 128.5,513.2 129.0,510.5 129.5,511.3 130.0,504.7 130.5,506.3 131.0,507.2 131.5,511.2 132.0,511.5 132.5,511.4 133.0,510.4 133.5,512.6 134.0,506.1 134.5,508.9 135.0,512.1 135.5,512.5 136.0,506.8 136.5,513.8 137.0,509.4 137.5,509.8 138.0,510.9 138.5,512.0 139.0,506.1 139.5,512.3 140.0,509.7 140.5,507.3 141.0,508.5 141.5,503.6 142.0,507.9 142.5,510.4 143.0,508.4 143.5,509.5 144.0,509.9 144.5,510.3 145.0,512.5 145.5,509.1 146.0,507.9 146.5,509.5 147.0,513.1 147.5,506.5 148.0,508.5 148.5,502.9 149.0,510.4 149.5,508.4 150.0,510.0 150.5,506.2 151.0,503.6 151.5,508.6 152.0,506.0 152.5,504.2 153.0,502.6 153.5,507.6 154.0,506.0 154.5,512.1 155.0,504.6 155.5,504.6 156.0,505.5 156.5,501.3 157.0,503.3 157.5,510.1 158.0,505.9 158.5,505.2 159.0,502.1 159.5,509.5 160.0,510.3 160.5,509.7 161.0,508.3 161.5,510.3 162.0,508.5 162.5,508.0 163.0,511.4 163.5,504.3 164.0,506.3 164.5,508.6 165.0,508.8 165.5,505.7 166.0,509.3 166.5,509.0 167.0,509.3 167.5,508.7 168.0,510.4 168.5,509.5 169.0,505.6 169.5,508.1 170.0,511.9 170.5,502.5 171.0,508.5 171.5,507.2 172.0,505.9 172.5,505.8 173.0,508.8 173.5,509.5 174.0,509.5 174.5,504.8 175.0,507.5 175.5,508.7 176.0,509.9 176.5,508.9 177.0,509.3 177.5,510.3 178.0,510.0 178.5,503.1 179.0,508.9 179.5,507.3 180.0,503.6 180.5,505.1 181.0,514.7 181.5,506.2 182.0,503.1 182.5,506.9 183.0,512.1 183.5,507.8 184.0,508.8 184.5,504.5 185.0,507.7 185.5,511.3 186.0,510.3 186.5,508.0 187.0,510.5 187.5,510.8 188.0,507.4 188.5,508.6 189.0,508.6 189.5,506.3 190.0,511.1 190.5,507.8 191.0,506.7 191.5,503.9 192.0,504.8 192.5,511.7 193.0,504.7 193.5,508.6 194.0,506.5 194.5,508.6 195.0,505.6 195.5,505.0 196.0,506.1 196.5,504.7 197.0,506.8 197.5,506.1 198.0,505.1 198.5,504.6 199.0,508.6 199.5,506.4 200.0,503.0 200.5,505.8 201.0,504.9 201.5,506.1 202.0,509.8 202.5,504.8 203.0,505.6 203.5,503.6 204.0,505.5 204.5,505.3 205.0,511.3 205.5,508.4 206.0,506.5 206.5,511.1 207.0,505.2 207.5,511.0 208.0,511.7 208.5,510.9 209.0,509.1 209.5,509.8 210.0,509.6 210.5,512.8 211.0,503.6 211.5,509.9 212.0,510.2 212.5,510.2 213.0,507.1 213.5,511.1 214.0,509.7 214.5,513.5 215.0,514.7 215.5,511.1 216.0,505.9 216.5,510.3 217.0,508.4 217.5,512.5 218.0,514.9 218.5,511.3 219.0,515.5 219.5,514.0 220.0,511.7 220.5,505.5 221.0,510.0 221.5,502.9 222.0,512.0 222.5,509.5 223.0,512.5 223.5,509.5 224.0,503.6 224.5,509.8 225.0,510.2 225.5,511.7 226.0,504.8 226.5,505.0 227.0,504.6 227.5,505.1 228.0,504.5 228.5,505.4 229.0,510.2 229.5,506.3 230.0,505.0 230.5,506.0 231.0,504.0 231.5,507.6 232.0,508.6 232.5,508.2 233.0,506.4 233.5,506.9 234.0,505.2 234.5,503.3 235.0,512.5 235.5,506.6 236.0,510.7 236.5,507.9 237.0,506.3 237.5,509.3 238.0,506.8 238.5,510.4 239.0,511.9 239.5,513.1 240.0,512.4 240.5,513.8 241.0,512.1 241.5,511.6 242.0,506.9 242.5,510.8 243.0,516.4 243.5,513.3 244.0,515.7 244.5,513.9 245.0,513.4 245.5,520.9 246.0,517.2 246.5,520.4 247.0,518.1 247.5,516.0 248.0,510.9 248.5,516.6 249.0,512.3 249.5,510.6 250.0,519.3 250.5,518.2 251.0,518.4 251.5,517.3 252.0,517.6 252.5,516.4 253.0,519.0 253.5,519.2 254.0,519.2 254.5,513.7 255.0,521.3 255.5,517.5 256.0,520.9 256.5,521.6 257.0,516.6 257.5,520.5 258.0,520.4 258.5,516.9 259.0,517.3 259.5,518.8 260.0,513.5 260.5,517.8 261.0,519.6 261.5,518.6 262.0,516.4 262.5,519.6 263.0,521.6 263.5,524.4 264.0,521.4 264.5,520.0 265.0,521.8 265.5,521.8 266.0,520.1 266.5,520.7 267.0,522.7 267.5,523.2 268.0,516.2 268.5,523.2 269.0,521.4 269.5,523.7 270.0,521.3 270.5,522.5 271.0,525.4 271.5,517.4 272.0,525.9 272.5,523.3 273.0,519.3 273.5,518.7 274.0,524.2 274.5,521.4 275.0,525.7 275.5,524.0 276.0,523.1 276.5,525.4 277.0,521.2 277.5,524.6 278.0,524.6 278.5,523.5 279.0,524.4 279.5,524.4 280.0,520.2 280.5,522.5 281.0,523.0 281.5,522.7 282.0,520.5 282.5,522.8 283.0,524.7 283.5,524.4 284.0,526.9 284.5,520.7 285.0,522.6 285.5,521.9 286.0,522.0 286.5,521.6 287.0,519.3 287.5,523.6 288.0,524.8 288.5,525.3 289.0,521.7 289.5,523.8 290.0,528.0 290.5,521.7 291.0,525.6 291.5,524.7 292.0,526.9 292.5,526.8 293.0,528.9 293.5,525.5 294.0,525.2 294.5,522.0 295.0,523.2 295.5,522.5 296.0,523.1 296.5,521.4 297.0,525.9 297.5,522.0 298.0,524.2 298.5,521.4 299.0,523.8 299.5,525.8 300.0,521.5 300.5,523.6 301.0,523.1 301.5,523.9 302.0,524.3 302.5,522.6 303.0,523.3 303.5,522.5 304.0,522.1 304.5,521.4 305.0,525.2 305.5,522.6 306.0,525.1 306.5,525.1 307.0,522.7 307.5,525.9 308.0,522.8 308.5,525.3 309.0,526.8 309.5,523.6 310.0,523.6 310.5,523.8 311.0,528.8 311.5,524.6 312.0,523.1 312.5,526.2 313.0,524.6 313.5,524.7 314.0,523.3 314.5,521.6 315.0,523.9 315.5,523.6 316.0,522.8 316.5,523.6 317.0,524.0 317.5,526.7 318.0,526.8 318.5,526.7 319.0,525.4 319.5,524.6 320.0,527.2 320.5,527.6 321.0,528.6 321.5,527.3 322.0,527.2 322.5,528.0 323.0,526.3 323.5,526.7 324.0,529.1 324.5,526.8 325.0,528.8 325.5,530.4 326.0,529.8 326.5,530.1 327.0,527.9 327.5,529.2 328.0,528.9 328.5,530.2 329.0,530.1 329.5,529.9 330.0,532.8 330.5,531.2 331.0,530.2 331.5,529.9 332.0,530.6 332.5,529.8 333.0,532.7 333.5,531.3 334.0,530.1 334.5,529.6 335.0,525.9 335.5,529.9 336.0,531.8 336.5,531.2 337.0,530.1 337.5,530.5 338.0,528.2 338.5,531.8 339.0,530.8 339.5,532.9 340.0,531.0 340.5,530.6 341.0,531.4 341.5,528.2 342.0,532.5 342.5,531.1 343.0,528.1 343.5,531.2 344.0,530.5 344.5,531.6 345.0,531.5 345.5,533.5 346.0,531.7 346.5,532.0 347.0,531.0 347.5,530.9 348.0,530.8 348.5,532.3 349.0,530.8 349.5,531.8 350.0,530.5 350.5,530.6 351.0,529.1 351.5,529.5 352.0,534.0 352.5,531.6 353.0,533.4 353.5,532.6 354.0,530.7 354.5,531.9 355.0,529.8 355.5,527.7 356.0,531.6 356.5,530.3 357.0,529.0 357.5,531.8 358.0,529.3 358.5,530.3 359.0,530.1 359.5,530.2 360.0,529.4 360.5,528.3 361.0,531.6 361.5,528.6 362.0,528.5 362.5,527.0 363.0,529.4 363.5,530.7 364.0,531.0 364.5,531.8 365.0,531.3 365.5,530.3 366.0,530.0 366.5,531.6 367.0,530.2 367.5,530.6 368.0,529.6 368.5,530.8 369.0,532.8 369.5,531.0 370.0,531.5 370.5,526.5 371.0,532.7 371.5,531.8 372.0,532.9 372.5,531.7 373.0,528.5 373.5,530.3 374.0,532.3 374.5,531.9 375.0,531.0 375.5,531.9 376.0,531.4 376.5,532.7 377.0,531.6 377.5,530.9 378.0,532.1 378.5,531.8 379.0,534.1 379.5,532.4 380.0,531.9 380.5,533.5 381.0,533.7 381.5,534.6 382.0,534.8 382.5,533.8 383.0,535.0 383.5,535.1 384.0,534.3 384.5,535.1 385.0,534.3 385.5,534.7 386.0,535.6 386.5,536.6 387.0,534.1 387.5,538.5 388.0,537.1 388.5,539.2 389.0,540.0 389.5,541.3 390.0,536.9 390.5,539.3 391.0,538.7 391.5,540.7 392.0,541.3 392.5,539.2 393.0,540.2 393.5,540.5 394.0,540.4 394.5,538.9 395.0,539.8 395.5,539.0 396.0,538.1 396.5,539.2 397.0,539.3 397.5,538.1 398.0,539.6 398.5,541.2 399.0,537.7 399.5,536.5 400.0,539.9 400.5,538.9 401.0,539.1 401.5,538.3 402.0,539.9 402.5,537.6 403.0,538.5 403.5,536.8 404.0,539.2 404.5,539.5 405.0,537.7 405.5,538.7 406.0,540.2 406.5,539.4 407.0,535.9 407.5,537.7 408.0,540.0 408.5,541.4 409.0,538.8 409.5,539.4 410.0,536.2 410.5,538.7 411.0,538.8 411.5,538.7 412.0,537.6 412.5,540.5 413.0,540.2 413.5,538.0 414.0,539.2 414.5,536.3 415.0,536.6 415.5,537.8 416.0,535.3 416.5,535.0 417.0,536.5 417.5,534.2 418.0,538.1 418.5,537.3 419.0,537.0 419.5,537.7 420.0,536.4 420.5,536.5 421.0,538.4 421.5,538.6 422.0,538.0 422.5,538.2 423.0,538.1 423.5,540.5 424.0,536.0 424.5,539.1 425.0,539.7 425.5,538.9 426.0,539.2 426.5,539.4 427.0,541.3 427.5,541.9 428.0,540.4 428.5,538.3 429.0,539.2 429.5,539.6 430.0,539.3 430.5,538.9 431.0,539.6 431.5,536.9 432.0,534.9 432.5,538.8 433.0,539.4 433.5,539.1 434.0,538.9 434.5,535.8 435.0,538.2 435.5,538.7 436.0,538.2 436.5,537.4 437.0,539.1 437.5,538.9 438.0,537.3 438.5,538.3 439.0,538.8 439.5,537.9 440.0,535.7 440.5,538.0 441.0,535.9 441.5,536.1 442.0,535.4 442.5,538.1 443.0,539.5 443.5,538.0 444.0,539.9 444.5,540.1 445.0,541.3 445.5,538.6 446.0,539.1 446.5,539.7 447.0,539.7 447.5,538.4 448.0,535.6 448.5,538.1 449.0,541.6 449.5,539.5 450.0,539.6 450.5,538.9 451.0,539.4 451.5,540.1 452.0,538.8 452.5,538.9 453.0,540.9 453.5,539.5 454.0,538.6 454.5,537.7 455.0,537.9 455.5,537.1 456.0,538.0 456.5,537.0 457.0,536.9 457.5,537.2 458.0,536.5 458.5,537.6 459.0,539.5 459.5,536.8 460.0,535.9 460.5,538.8 461.0,538.1 461.5,540.6 462.0,539.5 462.5,538.6 463.0,539.2 463.5,538.8 464.0,540.7 464.5,542.0 465.0,541.0 465.5,540.7 466.0,541.9 466.5,542.2 467.0,542.3 467.5,539.0 468.0,544.3 468.5,541.6 469.0,540.6 469.5,539.5 470.0,541.0 470.5,538.1 471.0,540.7 471.5,539.0 472.0,537.3 472.5,539.0 473.0,538.9 473.5,540.6 474.0,538.2 474.5,540.1 475.0,540.0 475.5,540.8 476.0,538.4 476.5,538.2 477.0,540.1 477.5,538.0 478.0,535.3 478.5,536.5 479.0,535.0 479.5,534.8 480.0,534.1 480.5,533.8 481.0,535.0 481.5,535.7 482.0,535.5 482.5,533.9 483.0,534.8 483.5,536.6 484.0,534.7 484.5,537.2 485.0,537.5 485.5,538.8 486.0,539.3 486.5,539.8 487.0,539.3 487.5,539.7 488.0,539.0 488.5,539.5 489.0,541.2 489.5,539.9 490.0,541.5 490.5,541.2 491.0,538.9 491.5,539.5 492.0,537.4 492.5,537.6 493.0,535.4 493.5,535.5 494.0,534.6 494.5,532.8 495.0,532.8 495.5,534.3 496.0,531.9 496.5,534.2 497.0,533.8 497.5,536.8 498.0,532.0 498.5,535.6 499.0,535.0 499.5,535.7 500.0,534.5 500.5,534.0 501.0,534.3 501.5,534.5 502.0,535.8 502.5,535.7 503.0,535.6 503.5,536.1 504.0,535.8 504.5,537.1 505.0,535.0 505.5,536.8 506.0,538.1 506.5,536.5 507.0,536.2 507.5,536.8 508.0,533.8 508.5,535.6 509.0,536.7 509.5,534.9 510.0,537.0 510.5,535.1 511.0,533.9 511.5,532.9 512.0,532.8 512.5,530.3 513.0,532.0 513.5,531.8 514.0,530.9 514.5,529.5 515.0,530.4 515.5,530.4 516.0,529.4 516.5,526.5 517.0,529.7 517.5,528.3 518.0,526.4 518.5,522.6 519.0,524.5 519.5,521.9 520.0,523.1 520.5,522.5 521.0,520.4 521.5,520.9 522.0,524.7 522.5,523.5 523.0,525.3 523.5,524.3 524.0,526.9 524.5,526.7 525.0,526.1 525.5,527.5 526.0,529.1 526.5,529.9 527.0,528.2 527.5,527.2 528.0,526.5 528.5,527.7 529.0,527.7 529.5,526.2 530.0,525.4 530.5,525.7 531.0,524.7 531.5,523.9 532.0,521.4 532.5,522.0 533.0,523.8 533.5,521.4 534.0,523.1 534.5,518.9 535.0,519.3 535.5,519.0 536.0,518.4 536.5,516.2 537.0,516.5 537.5,515.7 538.0,517.9 538.5,516.5 539.0,517.5 539.5,516.1 540.0,516.1 540.5,517.0 541.0,515.7 541.5,515.7 542.0,515.8 542.5,515.8 543.0,511.5 543.5,514.6 544.0,515.2 544.5,513.4 545.0,512.3 545.5,512.6 546.0,512.8 546.5,513.3 547.0,515.3 547.5,514.1 548.0,516.3 548.5,511.4 549.0,516.3 549.5,516.9 550.0,518.9 550.5,517.5 551.0,517.4 551.5,514.9 552.0,513.7 552.5,512.0 553.0,514.0 553.5,513.7 554.0,513.5 554.5,512.4 555.0,512.8 555.5,515.2 556.0,517.5 556.5,518.2 557.0,516.9 557.5,517.9 558.0,519.5 558.5,522.1 559.0,524.0 559.5,523.1 560.0,524.6 560.5,522.6 561.0,523.2 561.5,523.0 562.0,524.0 562.5,523.0 563.0,524.2 563.5,522.7 564.0,523.9 564.5,523.2 565.0,523.3 565.5,522.0 566.0,521.8 566.5,523.3 567.0,522.9 567.5,521.6 568.0,523.6 568.5,525.3 569.0,526.7 569.5,527.6 570.0,528.9 570.5,528.7 571.0,529.5 571.5,529.8 572.0,531.6 572.5,531.8 573.0,533.0 573.5,531.0 574.0,530.9 574.5,527.9 575.0,530.8 575.5,531.6 576.0,533.5 576.5,531.8 577.0,531.4 577.5,530.1 578.0,534.3 578.5,534.3 579.0,535.3 579.5,533.8 580.0,533.6 580.5,531.0 581.0,533.5 581.5,532.5 582.0,536.4 582.5,537.1 583.0,536.1 583.5,535.1 584.0,534.6 584.5,535.3 585.0,533.6 585.5,533.7 586.0,536.6 586.5,535.9 587.0,536.2 587.5,534.6 588.0,537.2 588.5,537.4 589.0,534.9 589.5,537.1 590.0,538.7 590.5,540.7 591.0,538.9 591.5,540.2 592.0,541.7 592.5,540.5 593.0,539.1 593.5,537.7 594.0,537.1 594.5,535.3 595.0,536.6 595.5,534.7 596.0,536.6 596.5,537.6 597.0,538.6 597.5,538.3 598.0,538.7 598.5,539.2 599.0,539.5 599.5,541.1 600.0,540.3 600.5,542.7 601.0,542.6 601.5,539.2 602.0,539.4 602.5,537.0 603.0,538.2 603.5,537.6 604.0,536.8 604.5,535.8 605.0,536.8 605.5,538.6 606.0,538.0 606.5,536.6 607.0,535.3 607.5,535.6 608.0,534.9 608.5,534.4 609.0,535.0 609.5,536.8 610.0,537.0 610.5,537.3 611.0,536.2 611.5,534.3 612.0,538.3 612.5,536.5 613.0,536.9 613.5,531.4 614.0,534.2 614.5,532.7 615.0,531.4 615.5,531.2 616.0,533.8 616.5,533.4 617.0,532.9 617.5,534.1 618.0,533.1 618.5,537.0 619.0,537.5 619.5,536.3 620.0,538.0 620.5,536.0 621.0,539.8 621.5,540.0 622.0,540.0 622.5,540.8 623.0,540.6 623.5,539.8 624.0,540.4 624.5,541.3 625.0,542.5 625.5,541.6 626.0,540.5 626.5,541.4 627.0,539.6 627.5,542.9 628.0,541.2 628.5,538.0 629.0,541.6 629.5,542.6 630.0,539.5 630.5,542.7 631.0,539.1 631.5,541.8 632.0,540.0 632.5,538.9 633.0,542.1 633.5,539.6 634.0,539.9 634.5,541.2 635.0,540.3 635.5,540.2 636.0,542.7 636.5,544.2 637.0,540.8 637.5,544.7 638.0,546.8 638.5,545.4 639.0,544.8 639.5,544.6 640.0,544.7 640.5,543.4 641.0,543.8 641.5,542.8 642.0,543.3 642.5,542.3 643.0,541.9 643.5,540.9 644.0,540.6 644.5,542.1 645.0,542.6 645.5,543.8 646.0,544.1 646.5,544.6 647.0,548.0 647.5,546.8 648.0,547.9 648.5,545.6 649.0,547.4 649.5,547.2 650.0,545.9 650.5,543.8 651.0,545.0 651.5,542.1 652.0,540.6 652.5,540.0 653.0,541.7 653.5,541.2 654.0,542.9 654.5,542.9 655.0,544.1 655.5,543.3 656.0,543.4 656.5,543.6 657.0,543.0 657.5,543.1 658.0,543.3 658.5,544.4 659.0,543.3 659.5,543.6 660.0,544.2 660.5,540.8 661.0,542.3 661.5,542.8 662.0,544.5 662.5,544.1 663.0,545.7 663.5,548.9 664.0,543.5 664.5,546.5 665.0,546.6 665.5,545.9 666.0,545.0 666.5,544.3 667.0,544.7 667.5,545.9 668.0,546.5 668.5,546.0 669.0,547.6 669.5,545.5 670.0,547.2 670.5,544.8 671.0,546.0 671.5,545.1 672.0,544.9 672.5,545.5 673.0,545.8 673.5,546.8 674.0,548.1 674.5,547.9 675.0,546.9 675.5,549.4 676.0,549.2 676.5,546.8 677.0,547.6 677.5,545.9 678.0,543.5 678.5,544.1 679.0,545.3 679.5,545.9 680.0,545.9 680.5,548.5 681.0,547.5 681.5,547.5 682.0,547.8 682.5,551.1 683.0,547.7 683.5,549.8 684.0,549.4 684.5,549.2 685.0,549.3 685.5,547.6 686.0,548.4 686.5,547.4 687.0,546.8 687.5,544.8 688.0,543.8 688.5,544.9 689.0,543.4 689.5,547.2 690.0,544.9 690.5,548.5 691.0,547.0 691.5,547.8 692.0,548.7 692.5,547.9 693.0,545.4 693.5,549.4 694.0,550.3 694.5,549.5 695.0,550.9 695.5,551.5 696.0,549.0 696.5,547.3 697.0,546.2 697.5,547.2 698.0,543.2 698.5,545.2 699.0,542.7 699.5,544.2 700.0,546.4 700.5,544.9 701.0,545.7 701.5,543.8 702.0,548.9 702.5,547.7 703.0,547.0 703.5,546.6 704.0,547.0 704.5,546.1 705.0,545.5 705.5,546.9 706.0,547.8 706.5,547.8 707.0,548.9 707.5,547.0 708.0,547.1 708.5,544.6 709.0,546.6 709.5,547.4 710.0,548.3 710.5,549.2 711.0,548.8 711.5,547.6 712.0,548.9 712.5,546.9 713.0,545.7 713.5,548.8 714.0,546.9 714.5,546.2 715.0,545.2 715.5,545.7 716.0,547.8 716.5,546.3 717.0,549.3 717.5,548.5 718.0,550.5 718.5,550.2 719.0,549.6 719.5,549.6 720.0,549.6 720.5,548.3 721.0,547.8 721.5,548.9 722.0,549.3 722.5,547.8 723.0,547.1 723.5,545.4 724.0,545.0 724.5,545.5 725.0,543.0 725.5,544.0 726.0,544.1 726.5,543.8 727.0,548.1 727.5,549.2 728.0,549.5 728.5,551.3 729.0,549.7 729.5,550.6 730.0,551.3 730.5,547.6 731.0,549.2 731.5,547.6 732.0,549.0 732.5,549.2 733.0,546.9 733.5,546.7 734.0,547.4 734.5,548.7 735.0,547.0 735.5,546.8 736.0,548.0 736.5,549.8 737.0,548.0 737.5,550.4 738.0,552.8 738.5,551.9 739.0,552.3 739.5,551.3 740.0,551.8 740.5,554.7 741.0,552.5 741.5,550.4 742.0,549.9 742.5,548.8 743.0,547.8 743.5,546.3 744.0,546.8 744.5,545.0 745.0,547.7 745.5,545.4 746.0,545.8 746.5,545.8 747.0,547.7 747.5,547.2 748.0,549.8 748.5,548.8 749.0,550.2 749.5,550.7 750.0,550.4 750.5,551.3 751.0,547.7 751.5,549.4 752.0,545.8 752.5,546.7 753.0,542.9 753.5,545.4 754.0,545.5 754.5,547.5 755.0,550.3 755.5,552.0 756.0,550.5 756.5,551.6 757.0,551.0 757.5,553.9 758.0,554.1 758.5,554.0 759.0,551.9 759.5,553.0 760.0,553.6 760.5,552.6 761.0,551.6 761.5,550.6 762.0,551.3 762.5,553.3 763.0,552.5 763.5,553.5 764.0,554.4 764.5,551.8 765.0,553.7 765.5,553.6 766.0,554.2 766.5,552.2 767.0,551.4 767.5,550.2 768.0,550.2 768.5,549.3 769.0,548.9 769.5,549.2 770.0,548.6 770.5,548.2 771.0,548.8 771.5,548.7 772.0,549.7 772.5,550.7 773.0,549.4 773.5,547.7 774.0,550.3 774.5,548.1 775.0,547.9 775.5,550.4 776.0,551.1 776.5,549.4 777.0,548.1 777.5,550.5 778.0,548.4 778.5,549.9 779.0,550.9 779.5,550.2 780.0,549.6 780.5,548.5 781.0,548.2 781.5,550.2 782.0,548.2 782.5,549.5 783.0,547.7 783.5,550.0 784.0,551.0 784.5,550.6 785.0,551.3 785.5,553.9 786.0,556.0 786.5,555.2 787.0,553.7 787.5,555.0 788.0,551.2 788.5,552.4 789.0,549.4 789.5,549.0 790.0,545.3 790.5,546.5 791.0,547.7 791.5,549.8 792.0,549.7 792.5,550.0 793.0,551.7 793.5,549.8 794.0,553.2 794.5,551.0 795.0,552.5 795.5,550.7 796.0,551.6 796.5,550.9 797.0,551.1 797.5,550.0 798.0,551.9 798.5,551.0 799.0,552.4 799.5,551.8 800.0,552.6 800.5,552.0 801.0,550.8 801.5,551.4 802.0,550.2 802.5,551.5 803.0,552.1 803.5,549.3 804.0,551.6 804.5,552.5 805.0,552.3 805.5,552.1 806.0,549.9 806.5,549.6 807.0,550.6 807.5,550.5 808.0,547.9 808.5,551.5 809.0,551.1 809.5,549.0 810.0,551.4 810.5,550.0 811.0,550.4 811.5,548.6 812.0,550.6 812.5,551.3 813.0,552.1 813.5,551.1 814.0,552.5 814.5,551.9 815.0,552.2 815.5,551.8 816.0,552.1 816.5,554.3 817.0,551.0 817.5,551.2 818.0,552.1 818.5,551.6 819.0,550.8 819.5,551.9 820.0,550.3 820.5,549.1 821.0,552.3 821.5,552.2 822.0,551.7 822.5,552.4 823.0,551.1 823.5,552.7 824.0,551.3 824.5,553.2 825.0,552.6 825.5,552.3 826.0,553.0 826.5,553.5 827.0,550.8 827.5,552.6 828.0,554.6 828.5,553.0 829.0,552.2 829.5,553.0 830.0,552.2 830.5,552.5 831.0,551.5 831.5,552.9 832.0,554.0 832.5,553.1 833.0,553.5 833.5,552.9 834.0,554.5 834.5,554.1 835.0,553.7 835.5,554.8 836.0,554.8 836.5,555.1 837.0,555.1 837.5,553.2 838.0,552.1 838.5,552.2 839.0,550.4 839.5,550.9 840.0,551.3 840.5,551.7 841.0,551.4 841.5,553.6 842.0,553.1 842.5,552.1 843.0,551.0 843.5,550.0 844.0,553.5 844.5,551.6 845.0,555.6 845.5,553.5 846.0,553.4 846.5,553.5 847.0,551.3 847.5,552.2 848.0,551.8 848.5,552.0 849.0,550.0 849.5,551.3 850.0,549.7 850.5,551.2 851.0,550.8 851.5,551.1 852.0,550.7 852.5,552.1 853.0,553.5 853.5,554.9 854.0,554.9 854.5,555.2 855.0,553.8 855.5,553.8 856.0,552.8 856.5,553.4 857.0,552.8 857.5,553.2 858.0,553.7 858.5,552.7 859.0,552.3 859.5,552.8 860.0,553.0 860.5,552.1 861.0,549.0 861.5,551.6 862.0,549.4 862.5,548.7 863.0,549.9 863.5,551.3 864.0,549.0 864.5,552.8 865.0,552.3 865.5,552.9 866.0,551.2 866.5,551.9 867.0,551.4 867.5,553.5 868.0,551.8 868.5,552.9 869.0,551.9 869.5,551.0 870.0,553.0 870.5,552.8 871.0,552.6 871.5,550.3 872.0,550.5 872.5,550.9 873.0,550.6 873.5,550.7 874.0,552.8 874.5,550.6 875.0,550.5 875.5,550.8 876.0,551.5 876.5,551.4 877.0,551.0 877.5,552.7 878.0,552.3 878.5,552.0 879.0,552.2 879.5,551.8 880.0,552.8 880.5,552.5 881.0,553.6 881.5,551.4 882.0,553.3 882.5,552.6 883.0,550.8 883.5,553.5 884.0,550.6 884.5,552.8 885.0,550.8 885.5,552.9 886.0,552.5 886.5,551.4 887.0,551.3 887.5,552.2 888.0,553.8 888.5,553.0 889.0,552.0 889.5,551.7 890.0,551.0 890.5,551.1 891.0,551.4 891.5,552.5 892.0,550.5 892.5,550.8 893.0,553.6 893.5,551.9 894.0,552.9 894.5,553.7 895.0,554.3 895.5,552.0 896.0,553.6 896.5,554.2 897.0,552.7 897.5,552.9 898.0,551.8 898.5,551.8 899.0,553.3 899.5,551.5 900.0,549.9 900.5,552.0 901.0,550.5 901.5,553.7 902.0,551.8 902.5,551.1 903.0,552.2 903.5,553.6 904.0,551.7 904.5,553.3 905.0,552.8 905.5,553.0 906.0,551.8 906.5,552.3 907.0,551.3 907.5,551.6 908.0,550.5 908.5,551.7 909.0,550.0 909.5,550.2 910.0,548.6 910.5,549.7 911.0,552.6 911.5,550.2 912.0,549.1 912.5,550.5 913.0,550.2 913.5,549.7 914.0,549.7 914.5,549.2 915.0,550.4 915.5,548.5 916.0,549.9 916.5,550.7 917.0,549.5 917.5,552.5 918.0,550.7 918.5,550.6 919.0,550.2 919.5,551.2 920.0,548.9 920.5,548.8 921.0,552.1 921.5,550.6 922.0,551.3 922.5,550.1 923.0,551.8 923.5,550.5 924.0,550.7 924.5,550.9 925.0,552.6 925.5,550.2 926.0,548.9 926.5,550.7 927.0,551.3 927.5,551.3 928.0,550.8 928.5,551.7 929.0,549.4 929.5,551.1 930.0,550.2 930.5,549.7 931.0,552.7 931.5,550.8 932.0,552.8 932.5,552.6 933.0,550.5 933.5,550.8 934.0,551.4 934.5,551.7 935.0,549.7 935.5,550.1 936.0,549.3 936.5,549.1 937.0,550.2 937.5,549.8 938.0,548.8 938.5,551.2 939.0,550.9 939.5,551.3 940.0,550.9 940.5,553.1 941.0,552.9 941.5,553.0 942.0,552.5 942.5,552.6 943.0,553.4 943.5,551.9 944.0,551.6 944.5,550.6 945.0,550.0 945.5,550.4 946.0,549.9 946.5,551.6 947.0,550.7 947.5,550.2 948.0,550.5 948.5,550.8 949.0,550.5 949.5,553.0 950.0,552.3 950.5,550.8 951.0,553.2 951.5,551.9 952.0,552.5 952.5,551.8 953.0,552.2 953.5,551.7 954.0,551.5 954.5,551.1 955.0,548.1 955.5,549.5 956.0,550.0 956.5,550.2 957.0,549.6 957.5,551.2 958.0,551.7 958.5,550.3 959.0,551.4 959.5,552.7 960.0,551.1 960.5,551.3 961.0,551.0 961.5,551.2 962.0,551.2 962.5,551.3 963.0,550.5 963.5,550.5 964.0,549.3 964.5,551.2 965.0,551.5 965.5,552.8 966.0,553.3 966.5,551.7 967.0,551.3 967.5,553.7 968.0,552.9 968.5,552.0 969.0,554.1 969.5,554.3 970.0,551.5 970.5,551.1 971.0,550.9 971.5,550.5 972.0,551.0 972.5,550.3 973.0,551.5 973.5,550.3 974.0,552.9 974.5,552.1 975.0,553.0 975.5,553.6 976.0,552.9 976.5,553.3 977.0,552.7 977.5,553.4 978.0,555.6 978.5,554.8 979.0,553.4 979.5,552.9 980.0,553.0 980.5,554.0 981.0,551.3 981.5,553.5 982.0,552.4 982.5,555.1 983.0,551.9 983.5,554.8 984.0,553.7 984.5,553.8 985.0,555.2 985.5,553.7 986.0,554.2 986.5,552.3 987.0,552.1 987.5,551.3 988.0,553.1 988.5,552.6 989.0,552.6 989.5,551.7 990.0,552.3 990.5,551.7 991.0,554.2 991.5,553.2 992.0,553.8 992.5,552.1 993.0,553.5 993.5,552.6 994.0,551.8 994.5,554.2 995.0,553.4 995.5,553.4 996.0,554.1 996.5,552.6 997.0,552.7 997.5,553.8 998.0,555.5 998.5,554.2 999.0,556.2 999.5,556.4 1000.0,552.6 1000.5,554.0 1001.0,552.4 1001.5,554.7 1002.0,553.0 1002.5,554.4 1003.0,554.2 1003.5,553.1 1004.0,552.6 1004.5,555.0 1005.0,553.7 1005.5,554.6 1006.0,555.9 1006.5,554.9 1007.0,554.9 1007.5,554.4 1008.0,554.8 1008.5,554.4 1009.0,553.4 1009.5,554.0 1010.0,553.8 1010.5,552.8 1011.0,554.1 1011.5,555.3 1012.0,555.5 1012.5,557.1 1013.0,556.8 1013.5,556.2 1014.0,554.3 1014.5,556.3 1015.0,557.1 1015.5,555.8 1016.0,557.1 1016.5,555.0 1017.0,555.9 1017.5,556.2 1018.0,556.8 1018.5,553.7 1019.0,556.8 1019.5,554.8 1020.0,553.4 1020.5,554.7 1021.0,554.8 1021.5,554.0 1022.0,555.5 1022.5,554.0 1023.0,556.1 1023.5,553.0 1024.0,557.2 1024.5,553.0 1025.0,556.1 1025.5,555.2 1026.0,556.5 1026.5,555.8 1027.0,555.5 1027.5,556.1 1028.0,556.3 1028.5,555.1 1029.0,555.5 1029.5,553.7 1030.0,554.2 1030.5,553.8 1031.0,555.3 1031.5,555.5 1032.0,554.4 1032.5,554.4 1033.0,554.2 1033.5,556.3 1034.0,557.1 1034.5,556.0 1035.0,556.6 1035.5,556.6 1036.0,557.1 1036.5,557.5 1037.0,555.1 1037.5,556.4 1038.0,557.3 1038.5,555.5 1039.0,557.0 1039.5,556.0 1040.0,554.7 1040.5,554.8 1041.0,556.7 1041.5,554.5 1042.0,555.4 1042.5,555.2 1043.0,557.1 1043.5,556.4 1044.0,558.0 1044.5,557.9 1045.0,556.3 1045.5,558.4 1046.0,557.1 1046.5,556.8 1047.0,558.6 1047.5,557.3 1048.0,557.6 1048.5,557.9 1049.0,558.7 1049.5,556.6 1050.0,556.9 1050.5,554.2 1051.0,555.1 1051.5,557.9 1052.0,558.2 1052.5,556.7 1053.0,556.5 1053.5,556.6 1054.0,557.0 1054.5,557.7 1055.0,556.6 1055.5,557.8 1056.0,557.4 1056.5,555.2 1057.0,555.4 1057.5,555.1 1058.0,555.4 1058.5,555.6 1059.0,556.6 1059.5,555.2 1060.0,556.9 1060.5,556.3 1061.0,558.2 1061.5,558.7 1062.0,557.5 1062.5,558.6 1063.0,559.0 1063.5,557.2 1064.0,557.8 1064.5,557.1 1065.0,556.4 1065.5,555.9 1066.0,556.3 1066.5,557.8 1067.0,556.2 1067.5,555.5 1068.0,555.8 1068.5,556.9 1069.0,555.7 1069.5,557.1 1070.0,557.1 1070.5,556.8 1071.0,558.3 1071.5,556.0 1072.0,557.0 1072.5,557.5 1073.0,558.1 1073.5,556.7 1074.0,557.3 1074.5,558.7 1075.0,557.1 1075.5,557.5 1076.0,557.2 1076.5,556.8 1077.0,558.0 1077.5,558.8 1078.0,557.7 1078.5,556.6 1079.0,557.0 1079.5,557.2 1080.0,557.3 1080.5,556.8 1081.0,558.2 1081.5,556.7 1082.0,558.6 1082.5,556.8 1083.0,556.6 1083.5,558.2 1084.0,556.8 1084.5,556.5 1085.0,556.3 1085.5,556.7 1086.0,557.1 1086.5,557.5 1087.0,558.3 1087.5,556.7 1088.0,557.2 1088.5,557.1 1089.0,555.7 1089.5,557.7 1090.0,557.0 1090.5,557.0 1091.0,555.7 1091.5,556.7 1092.0,558.4 1092.5,556.1 1093.0,556.2 1093.5,557.6 1094.0,558.4 1094.5,558.6 1095.0,558.7 1095.5,556.0 1096.0,557.2 1096.5,556.9 1097.0,556.9 1097.5,558.5 1098.0,558.4 1098.5,557.6 1099.0,558.7 1099.5,559.0 1100.0,560.2 1100.5,558.8 1101.0,559.7 1101.5,558.4 1102.0,559.1 1102.5,558.4 1103.0,558.3 1103.5,557.7 1104.0,558.7 1104.5,556.6 1105.0,556.2 1105.5,556.4 1106.0,557.1 1106.5,557.3 1107.0,556.7 1107.5,555.5 1108.0,556.9 1108.5,556.1 1109.0,557.8 1109.5,557.6 1110.0,558.1 1110.5,558.1 1111.0,558.3 1111.5,559.3 1112.0,557.9 1112.5,558.5 1113.0,558.3 1113.5,557.0 1114.0,558.5 1114.5,556.9 1115.0,555.4 1115.5,556.8 1116.0,556.3 1116.5,555.6 1117.0,555.7 1117.5,555.6 1118.0,556.0 1118.5,554.8 1119.0,556.1 1119.5,556.1 1120.0,556.9 1120.5,556.1 1121.0,556.9 1121.5,555.4 1122.0,555.9 1122.5,557.1 1123.0,557.6 1123.5,557.0 1124.0,555.0 1124.5,555.3 1125.0,555.7 1125.5,557.3 1126.0,555.9 1126.5,556.7 1127.0,557.1 1127.5,557.3 1128.0,557.0 1128.5,557.6 1129.0,558.1 1129.5,557.6 1130.0,556.8 1130.5,557.1 1131.0,557.3 1131.5,558.6 1132.0,555.6 1132.5,556.4 1133.0,556.1 1133.5,555.0 1134.0,555.6 1134.5,555.4 1135.0,555.3 1135.5,555.7 1136.0,556.8 1136.5,555.4 1137.0,555.6 1137.5,555.6 1138.0,554.7 1138.5,554.4 1139.0,554.0 1139.5,554.6 1140.0,555.6 1140.5,553.9 1141.0,555.9 1141.5,554.6 1142.0,554.5 1142.5,555.7 1143.0,555.5 1143.5,555.5 1144.0,555.1 1144.5,555.9 1145.0,554.8 1145.5,555.7 1146.0,556.1 1146.5,555.1 1147.0,554.3 1147.5,556.0 1148.0,554.4 1148.5,553.9 1149.0,555.4 1149.5,556.2 1150.0,555.9 1150.5,554.6 1151.0,555.6 1151.5,555.7 1152.0,555.9 1152.5,554.2 1153.0,553.3 1153.5,555.3 1154.0,555.2 1154.5,555.5 1155.0,556.1 1155.5,554.2 1156.0,554.6 1156.5,555.2 1157.0,557.0 1157.5,554.9 1158.0,556.6 1158.5,554.0 1159.0,555.7 1159.5,556.0 1160.0,556.2 1160.5,554.3 1161.0,556.2 1161.5,553.8 1162.0,555.5 1162.5,555.6 1163.0,554.1 1163.5,553.1 1164.0,555.8 1164.5,554.4 1165.0,553.1 1165.5,554.5 1166.0,553.2 1166.5,553.5 1167.0,553.1 1167.5,552.2 1168.0,554.6 1168.5,553.7 1169.0,554.3 1169.5,554.8"/>
<g fill="#2233ee"><polygon points="198.1,598.2 199.0,597.0 199.7,595.7 200.4,594.0 200.8,592.3 201.0,591.1 201.4,590.3 202.4,589.8 204.0,589.8 205.0,590.3 205.4,591.1 205.6,592.3 206.0,594.0 206.7,595.7 207.4,597.0 208.2,598.2"/><polygon points="220.6,598.8 221.5,597.5 222.2,596.1 222.9,594.3 223.3,592.5 223.5,591.2 223.9,590.3 224.9,589.8 226.5,589.8 227.5,590.3 227.9,591.2 228.1,592.5 228.5,594.3 229.2,596.1 229.9,597.5 230.8,598.8"/><polygon points="362.2,624.8 362.8,623.6 363.4,622.4 363.9,620.8 364.2,619.2 364.3,618.0 364.7,617.3 365.4,616.8 366.6,616.8 367.3,617.3 367.7,618.0 367.8,619.2 368.1,620.8 368.6,622.4 369.2,623.6 369.8,624.8"/><polygon points="405.8,630.1 406.4,628.4 407.0,626.7 407.5,624.4 407.8,622.2 407.9,620.5 408.3,619.5 409.0,618.8 410.2,618.8 410.9,619.5 411.3,620.5 411.4,622.2 411.7,624.4 412.2,626.7 412.8,628.4 413.4,630.1"/><polygon points="713.0,643.6 713.6,642.3 714.2,641.1 714.7,639.4 715.0,637.8 715.1,636.5 715.5,635.8 716.2,635.3 717.4,635.3 718.1,635.8 718.5,636.5 718.6,637.8 718.9,639.4 719.4,641.1 720.0,642.3 720.6,643.6"/></g><polyline fill="none" stroke="#2233ee" stroke-width="5.0" stroke-linejoin="round" points="91.5,591.2 92.0,588.9 92.5,588.0 93.0,590.0 93.5,590.0 94.0,590.0 94.5,590.2 95.0,589.8 95.5,588.1 96.0,588.4 96.5,588.9 97.0,588.1 97.5,587.4 98.0,588.0 98.5,588.5 99.0,587.6 99.5,586.7 100.0,585.6 100.5,586.8 101.0,587.9 101.5,587.6 102.0,588.2 102.5,588.7 103.0,587.6 103.5,587.5 104.0,588.6 104.5,587.6 105.0,587.3 105.5,586.6 106.0,585.7 106.5,587.1 107.0,586.9 107.5,586.0 108.0,585.5 108.5,585.8 109.0,586.3 109.5,589.0 110.0,588.7 110.5,587.6 111.0,588.6 111.5,588.7 112.0,588.2 112.5,588.9 113.0,590.0 113.5,590.9 114.0,591.0 114.5,591.2 115.0,590.7 115.5,589.1 116.0,592.7 116.5,592.4 117.0,591.9 117.5,591.9 118.0,592.3 118.5,593.0 119.0,593.1 119.5,593.1 120.0,593.9 120.5,593.7 121.0,592.7 121.5,592.8 122.0,593.6 122.5,593.8 123.0,593.1 123.5,594.2 124.0,595.7 124.5,595.8 125.0,593.5 125.5,593.0 126.0,594.0 126.5,594.1 127.0,594.7 127.5,597.0 128.0,597.3 128.5,595.8 129.0,596.8 129.5,597.6 130.0,597.5 130.5,597.2 131.0,597.3 131.5,598.1 132.0,596.8 132.5,595.5 133.0,597.2 133.5,598.6 134.0,597.4 134.5,596.0 135.0,596.1 135.5,595.9 136.0,595.7 136.5,597.6 137.0,597.9 137.5,597.7 138.0,597.5 138.5,597.2 139.0,598.3 139.5,595.3 140.0,596.1 140.5,597.0 141.0,597.4 141.5,598.5 142.0,598.7 142.5,596.6 143.0,596.0 143.5,595.0 144.0,596.2 144.5,598.2 145.0,598.2 145.5,595.7 146.0,597.2 146.5,597.5 147.0,598.2 147.5,597.6 148.0,597.3 148.5,597.9 149.0,597.3 149.5,596.0 150.0,595.9 150.5,597.2 151.0,597.6 151.5,596.0 152.0,595.8 152.5,596.6 153.0,596.6 153.5,597.5 154.0,596.8 154.5,597.6 155.0,597.0 155.5,597.0 156.0,597.4 156.5,596.3 157.0,598.3 157.5,600.0 158.0,598.6 158.5,597.8 159.0,597.1 159.5,597.7 160.0,598.0 160.5,597.7 161.0,596.9 161.5,596.8 162.0,599.0 162.5,598.6 163.0,597.9 163.5,598.2 164.0,598.5 164.5,599.3 165.0,598.6 165.5,597.5 166.0,597.6 166.5,597.9 167.0,597.3 167.5,597.7 168.0,598.4 168.5,596.6 169.0,597.4 169.5,599.9 170.0,600.2 170.5,598.7 171.0,599.8 171.5,599.5 172.0,596.2 172.5,596.1 173.0,596.0 173.5,597.2 174.0,598.8 174.5,597.2 175.0,597.3 175.5,597.8 176.0,597.2 176.5,598.3 177.0,598.5 177.5,598.3 178.0,596.7 178.5,597.6 179.0,597.8 179.5,599.2 180.0,599.6 180.5,600.3 181.0,600.1 181.5,599.2 182.0,599.5 182.5,599.2 183.0,597.3 183.5,596.0 184.0,597.4 184.5,599.1 185.0,598.8 185.5,596.8 186.0,597.7 186.5,599.0 187.0,599.0 187.5,597.1 188.0,596.6 188.5,598.2 189.0,597.8 189.5,595.6 190.0,595.5 190.5,595.4 191.0,595.5 191.5,597.8 192.0,596.7 192.5,595.8 193.0,596.1 193.5,596.8 194.0,596.4 194.5,596.3 195.0,596.1 195.5,595.6 196.0,595.3 196.5,595.6 197.0,596.5 197.5,597.0 198.0,595.7 198.5,597.2 199.0,596.4 199.5,597.5 200.0,597.8 200.5,596.8 201.0,596.8 201.5,597.7 202.0,596.5 202.5,598.7 203.0,599.3 203.5,599.6 204.0,595.9 204.5,595.8 205.0,596.3 205.5,597.8 206.0,597.2 206.5,599.2 207.0,600.1 207.5,598.8 208.0,598.9 208.5,600.1 209.0,600.1 209.5,599.9 210.0,600.1 210.5,599.3 211.0,599.4 211.5,599.7 212.0,599.9 212.5,600.8 213.0,600.0 213.5,600.1 214.0,599.5 214.5,600.7 215.0,601.0 215.5,600.8 216.0,600.0 216.5,600.1 217.0,600.0 217.5,600.4 218.0,598.7 218.5,597.6 219.0,597.8 219.5,597.5 220.0,598.8 220.5,599.0 221.0,599.2 221.5,599.3 222.0,596.8 222.5,596.3 223.0,598.3 223.5,598.6 224.0,599.0 224.5,597.2 225.0,598.6 225.5,598.3 226.0,597.2 226.5,598.5 227.0,598.6 227.5,597.9 228.0,597.6 228.5,599.0 229.0,597.5 229.5,597.5 230.0,597.9 230.5,598.8 231.0,597.2 231.5,598.5 232.0,599.1 232.5,599.8 233.0,599.0 233.5,599.5 234.0,600.4 234.5,600.6 235.0,599.8 235.5,599.4 236.0,600.9 236.5,602.1 237.0,602.2 237.5,601.9 238.0,602.3 238.5,603.0 239.0,603.8 239.5,603.6 240.0,600.9 240.5,602.4 241.0,601.6 241.5,601.3 242.0,602.1 242.5,602.0 243.0,602.5 243.5,602.6 244.0,601.6 244.5,601.6 245.0,602.3 245.5,602.8 246.0,603.8 246.5,603.6 247.0,604.0 247.5,605.5 248.0,605.1 248.5,604.9 249.0,604.4 249.5,603.8 250.0,605.4 250.5,604.8 251.0,602.4 251.5,604.6 252.0,605.6 252.5,606.9 253.0,605.9 253.5,605.4 254.0,604.4 254.5,604.9 255.0,606.7 255.5,607.1 256.0,605.6 256.5,605.1 257.0,606.5 257.5,604.8 258.0,604.8 258.5,606.2 259.0,607.1 259.5,607.3 260.0,606.6 260.5,606.8 261.0,607.2 261.5,605.0 262.0,606.6 262.5,607.3 263.0,608.1 263.5,609.3 264.0,609.1 264.5,609.1 265.0,609.6 265.5,609.5 266.0,608.9 266.5,607.9 267.0,608.5 267.5,609.8 268.0,610.3 268.5,610.5 269.0,610.8 269.5,611.1 270.0,611.1 270.5,610.3 271.0,610.5 271.5,610.9 272.0,609.9 272.5,611.5 273.0,610.6 273.5,610.5 274.0,611.1 274.5,611.8 275.0,611.6 275.5,610.5 276.0,609.3 276.5,608.5 277.0,611.7 277.5,612.6 278.0,610.3 278.5,610.3 279.0,610.4 279.5,608.4 280.0,610.7 280.5,611.8 281.0,611.6 281.5,610.7 282.0,610.8 282.5,612.1 283.0,613.4 283.5,612.3 284.0,610.9 284.5,611.7 285.0,611.5 285.5,613.3 286.0,613.5 286.5,612.7 287.0,610.3 287.5,612.1 288.0,611.5 288.5,611.6 289.0,611.5 289.5,612.7 290.0,613.5 290.5,611.5 291.0,610.8 291.5,612.1 292.0,612.1 292.5,611.4 293.0,612.0 293.5,612.3 294.0,612.3 294.5,611.7 295.0,611.1 295.5,609.4 296.0,610.8 296.5,612.0 297.0,611.9 297.5,611.7 298.0,611.2 298.5,612.4 299.0,612.7 299.5,610.9 300.0,610.8 300.5,611.3 301.0,611.9 301.5,610.6 302.0,610.3 302.5,611.2 303.0,610.6 303.5,611.4 304.0,610.2 304.5,610.7 305.0,610.1 305.5,611.4 306.0,612.1 306.5,611.6 307.0,610.9 307.5,611.0 308.0,609.8 308.5,610.5 309.0,609.7 309.5,610.4 310.0,611.1 310.5,611.5 311.0,611.1 311.5,611.2 312.0,611.4 312.5,611.5 313.0,612.2 313.5,611.3 314.0,610.8 314.5,611.2 315.0,611.8 315.5,612.6 316.0,612.5 316.5,611.3 317.0,611.8 317.5,613.9 318.0,613.4 318.5,613.0 319.0,613.1 319.5,613.9 320.0,612.6 320.5,613.8 321.0,614.2 321.5,613.9 322.0,613.9 322.5,614.3 323.0,615.0 323.5,614.7 324.0,614.8 324.5,615.0 325.0,614.6 325.5,614.6 326.0,617.3 326.5,617.5 327.0,617.3 327.5,617.1 328.0,615.0 328.5,615.9 329.0,616.1 329.5,616.4 330.0,616.5 330.5,617.2 331.0,615.2 331.5,614.4 332.0,616.3 332.5,616.6 333.0,616.2 333.5,617.5 334.0,617.9 334.5,618.3 335.0,618.5 335.5,617.9 336.0,617.5 336.5,616.4 337.0,616.8 337.5,617.9 338.0,618.0 338.5,617.4 339.0,618.2 339.5,619.2 340.0,619.2 340.5,619.0 341.0,620.0 341.5,621.4 342.0,620.8 342.5,620.0 343.0,620.1 343.5,621.3 344.0,622.2 344.5,622.1 345.0,620.5 345.5,619.6 346.0,621.4 346.5,621.8 347.0,620.8 347.5,621.8 348.0,622.1 348.5,621.5 349.0,620.1 349.5,620.8 350.0,622.1 350.5,622.8 351.0,621.8 351.5,621.2 352.0,622.1 352.5,621.8 353.0,620.5 353.5,623.1 354.0,623.2 354.5,622.1 355.0,621.4 355.5,623.6 356.0,623.7 356.5,623.6 357.0,622.5 357.5,622.3 358.0,623.4 358.5,622.9 359.0,621.5 359.5,622.4 360.0,623.1 360.5,623.5 361.0,622.4 361.5,622.8 362.0,623.4 362.5,623.7 363.0,621.9 363.5,622.4 364.0,623.0 364.5,624.4 365.0,624.4 365.5,622.5 366.0,622.4 366.5,622.8 367.0,621.9 367.5,620.6 368.0,623.3 368.5,623.2 369.0,625.3 369.5,625.8 370.0,625.5 370.5,624.7 371.0,624.4 371.5,624.6 372.0,625.3 372.5,625.0 373.0,624.0 373.5,625.2 374.0,625.8 374.5,624.8 375.0,624.6 375.5,625.0 376.0,625.0 376.5,625.3 377.0,625.5 377.5,625.1 378.0,624.7 378.5,624.1 379.0,624.2 379.5,625.8 380.0,626.2 380.5,625.3 381.0,625.1 381.5,625.0 382.0,625.4 382.5,626.9 383.0,627.4 383.5,627.3 384.0,626.8 384.5,625.9 385.0,624.8 385.5,624.9 386.0,625.4 386.5,626.0 387.0,626.5 387.5,626.0 388.0,626.4 388.5,628.2 389.0,627.7 389.5,626.7 390.0,626.1 390.5,626.8 391.0,626.2 391.5,626.4 392.0,627.0 392.5,627.6 393.0,628.0 393.5,627.9 394.0,627.2 394.5,627.2 395.0,627.3 395.5,625.3 396.0,627.3 396.5,627.5 397.0,626.5 397.5,627.0 398.0,625.4 398.5,626.5 399.0,627.8 399.5,627.6 400.0,627.4 400.5,628.8 401.0,629.3 401.5,629.1 402.0,628.9 402.5,628.3 403.0,628.0 403.5,628.2 404.0,628.3 404.5,628.6 405.0,628.2 405.5,628.9 406.0,628.9 406.5,628.3 407.0,629.4 407.5,629.2 408.0,628.3 408.5,628.3 409.0,629.6 409.5,630.0 410.0,628.9 410.5,627.5 411.0,629.3 411.5,628.2 412.0,627.1 412.5,630.2 413.0,630.8 413.5,630.3 414.0,629.0 414.5,629.7 415.0,630.4 415.5,630.2 416.0,630.9 416.5,630.7 417.0,630.1 417.5,629.7 418.0,629.7 418.5,630.2 419.0,630.3 419.5,630.6 420.0,630.0 420.5,629.4 421.0,630.5 421.5,630.7 422.0,630.6 422.5,630.4 423.0,631.2 423.5,632.7 424.0,631.9 424.5,631.6 425.0,631.3 425.5,630.8 426.0,630.5 426.5,630.6 427.0,631.7 427.5,631.6 428.0,632.2 428.5,632.5 429.0,631.9 429.5,631.2 430.0,631.2 430.5,631.2 431.0,631.0 431.5,632.1 432.0,632.8 432.5,631.3 433.0,631.0 433.5,631.1 434.0,630.8 434.5,630.7 435.0,630.4 435.5,631.5 436.0,632.0 436.5,632.3 437.0,632.2 437.5,631.9 438.0,631.8 438.5,632.5 439.0,633.1 439.5,630.2 440.0,629.5 440.5,632.3 441.0,632.0 441.5,631.4 442.0,631.1 442.5,630.3 443.0,630.7 443.5,631.1 444.0,631.1 444.5,630.6 445.0,630.2 445.5,630.9 446.0,631.3 446.5,631.6 447.0,631.4 447.5,631.5 448.0,632.4 448.5,632.2 449.0,632.2 449.5,632.0 450.0,631.5 450.5,631.3 451.0,630.7 451.5,630.6 452.0,631.7 452.5,631.0 453.0,631.0 453.5,631.6 454.0,629.5 454.5,631.5 455.0,631.8 455.5,632.5 456.0,632.3 456.5,632.6 457.0,632.7 457.5,632.2 458.0,632.5 458.5,632.0 459.0,631.1 459.5,631.4 460.0,632.2 460.5,632.4 461.0,631.7 461.5,631.0 462.0,631.9 462.5,630.5 463.0,629.9 463.5,632.0 464.0,631.0 464.5,630.8 465.0,630.7 465.5,630.4 466.0,632.1 466.5,632.5 467.0,631.9 467.5,631.6 468.0,630.9 468.5,630.8 469.0,631.6 469.5,631.2 470.0,631.3 470.5,632.3 471.0,632.3 471.5,632.2 472.0,631.7 472.5,630.7 473.0,630.6 473.5,630.1 474.0,629.6 474.5,631.0 475.0,632.3 475.5,632.0 476.0,630.0 476.5,630.4 477.0,631.0 477.5,631.0 478.0,631.1 478.5,631.5 479.0,630.6 479.5,629.7 480.0,630.7 480.5,630.1 481.0,629.7 481.5,630.7 482.0,630.7 482.5,631.1 483.0,631.1 483.5,630.9 484.0,630.6 484.5,630.2 485.0,630.3 485.5,629.1 486.0,629.3 486.5,629.3 487.0,627.5 487.5,628.7 488.0,630.3 488.5,630.7 489.0,629.4 489.5,628.8 490.0,627.9 490.5,627.9 491.0,628.4 491.5,628.7 492.0,629.1 492.5,629.0 493.0,628.0 493.5,628.6 494.0,629.5 494.5,628.8 495.0,628.3 495.5,628.4 496.0,629.1 496.5,629.2 497.0,627.0 497.5,627.1 498.0,626.7 498.5,627.1 499.0,628.5 499.5,628.9 500.0,628.5 500.5,628.0 501.0,627.2 501.5,626.8 502.0,626.8 502.5,625.9 503.0,623.8 503.5,625.5 504.0,625.0 504.5,624.4 505.0,624.8 505.5,623.4 506.0,624.1 506.5,623.7 507.0,623.5 507.5,622.3 508.0,621.9 508.5,620.6 509.0,621.5 509.5,622.4 510.0,620.8 510.5,620.1 511.0,621.0 511.5,619.8 512.0,618.8 512.5,618.7 513.0,617.5 513.5,617.1 514.0,614.7 514.5,615.3 515.0,615.4 515.5,614.3 516.0,613.6 516.5,613.8 517.0,613.8 517.5,612.5 518.0,610.9 518.5,611.4 519.0,609.4 519.5,609.4 520.0,608.9 520.5,608.1 521.0,607.1 521.5,606.9 522.0,606.4 522.5,605.0 523.0,604.2 523.5,603.8 524.0,603.1 524.5,601.8 525.0,599.8 525.5,598.7 526.0,597.6 526.5,596.3 527.0,594.7 527.5,592.7 528.0,591.6 528.5,591.1 529.0,590.9 529.5,589.2 530.0,588.2 530.5,587.0 531.0,586.1 531.5,585.9 532.0,584.5 532.5,582.2 533.0,579.4 533.5,577.8 534.0,576.8 534.5,574.5 535.0,575.3 535.5,572.4 536.0,570.4 536.5,569.2 537.0,568.3 537.5,567.8 538.0,568.3 538.5,567.3 539.0,565.4 539.5,564.5 540.0,565.0 540.5,563.9 541.0,562.6 541.5,562.7 542.0,562.9 542.5,562.6 543.0,562.3 543.5,562.2 544.0,561.7 544.5,561.5 545.0,561.8 545.5,561.4 546.0,561.4 546.5,562.0 547.0,562.4 547.5,562.8 548.0,562.6 548.5,562.3 549.0,563.4 549.5,564.5 550.0,565.0 550.5,565.4 551.0,565.5 551.5,566.5 552.0,567.8 552.5,568.7 553.0,570.0 553.5,570.9 554.0,571.6 554.5,571.4 555.0,570.7 555.5,571.6 556.0,572.8 556.5,573.3 557.0,575.0 557.5,575.8 558.0,576.8 558.5,578.9 559.0,580.3 559.5,581.3 560.0,582.2 560.5,582.4 561.0,582.1 561.5,583.7 562.0,584.2 562.5,583.6 563.0,586.4 563.5,585.9 564.0,586.6 564.5,588.9 565.0,590.0 565.5,590.6 566.0,589.9 566.5,591.4 567.0,592.5 567.5,592.5 568.0,593.4 568.5,595.0 569.0,596.0 569.5,596.0 570.0,596.3 570.5,597.6 571.0,598.9 571.5,599.7 572.0,599.8 572.5,600.3 573.0,601.8 573.5,602.4 574.0,602.7 574.5,602.7 575.0,602.6 575.5,605.5 576.0,604.5 576.5,605.0 577.0,606.7 577.5,607.2 578.0,605.8 578.5,607.6 579.0,607.8 579.5,607.9 580.0,607.9 580.5,609.3 581.0,609.5 581.5,610.5 582.0,611.3 582.5,610.5 583.0,610.7 583.5,611.6 584.0,612.1 584.5,612.7 585.0,612.8 585.5,612.3 586.0,612.9 586.5,614.0 587.0,613.6 587.5,612.6 588.0,613.0 588.5,613.8 589.0,613.8 589.5,614.1 590.0,614.3 590.5,614.8 591.0,614.8 591.5,614.2 592.0,615.0 592.5,616.0 593.0,616.6 593.5,616.4 594.0,616.4 594.5,617.3 595.0,618.3 595.5,617.9 596.0,617.0 596.5,617.8 597.0,618.3 597.5,618.7 598.0,618.9 598.5,618.4 599.0,618.0 599.5,617.9 600.0,617.7 600.5,618.6 601.0,616.7 601.5,618.3 602.0,618.9 602.5,618.8 603.0,618.7 603.5,619.2 604.0,619.2 604.5,617.6 605.0,619.1 605.5,618.4 606.0,618.5 606.5,618.1 607.0,619.4 607.5,619.2 608.0,619.5 608.5,619.3 609.0,619.1 609.5,618.7 610.0,619.1 610.5,619.7 611.0,620.1 611.5,620.4 612.0,619.7 612.5,620.1 613.0,621.3 613.5,621.3 614.0,619.3 614.5,619.6 615.0,619.7 615.5,619.4 616.0,619.6 616.5,620.0 617.0,619.5 617.5,619.8 618.0,619.6 618.5,618.9 619.0,619.3 619.5,620.6 620.0,620.4 620.5,620.2 621.0,619.7 621.5,619.4 622.0,620.4 622.5,621.3 623.0,620.4 623.5,618.7 624.0,620.2 624.5,620.4 625.0,620.5 625.5,620.4 626.0,620.3 626.5,620.0 627.0,620.5 627.5,621.4 628.0,621.5 628.5,621.0 629.0,620.1 629.5,621.6 630.0,621.0 630.5,619.9 631.0,619.0 631.5,621.0 632.0,621.0 632.5,622.0 633.0,622.0 633.5,622.1 634.0,621.8 634.5,621.5 635.0,622.1 635.5,622.3 636.0,622.6 636.5,623.5 637.0,623.3 637.5,622.0 638.0,623.4 638.5,624.2 639.0,624.7 639.5,624.3 640.0,623.7 640.5,625.5 641.0,625.5 641.5,624.9 642.0,624.6 642.5,624.2 643.0,624.5 643.5,625.1 644.0,625.2 644.5,625.9 645.0,626.2 645.5,624.9 646.0,626.2 646.5,626.7 647.0,626.1 647.5,626.3 648.0,627.8 648.5,627.4 649.0,627.4 649.5,627.9 650.0,627.6 650.5,628.2 651.0,628.8 651.5,628.1 652.0,628.0 652.5,628.4 653.0,629.4 653.5,628.8 654.0,628.9 654.5,629.0 655.0,629.5 655.5,629.4 656.0,628.7 656.5,629.4 657.0,630.6 657.5,631.1 658.0,631.4 658.5,631.3 659.0,630.7 659.5,631.0 660.0,631.8 660.5,631.5 661.0,631.4 661.5,632.4 662.0,632.3 662.5,633.0 663.0,633.7 663.5,632.5 664.0,631.8 664.5,632.2 665.0,633.1 665.5,633.8 666.0,633.5 666.5,633.6 667.0,634.3 667.5,634.7 668.0,633.9 668.5,633.5 669.0,633.9 669.5,632.4 670.0,634.6 670.5,635.2 671.0,634.8 671.5,634.9 672.0,635.5 672.5,636.2 673.0,636.6 673.5,637.0 674.0,636.4 674.5,636.7 675.0,637.7 675.5,636.5 676.0,635.1 676.5,636.8 677.0,637.6 677.5,637.4 678.0,636.7 678.5,637.7 679.0,637.9 679.5,636.1 680.0,636.5 680.5,638.1 681.0,638.6 681.5,638.8 682.0,637.9 682.5,638.8 683.0,637.3 683.5,637.0 684.0,638.3 684.5,638.9 685.0,637.6 685.5,637.2 686.0,637.8 686.5,638.5 687.0,638.6 687.5,638.5 688.0,638.1 688.5,638.6 689.0,638.9 689.5,639.1 690.0,639.3 690.5,639.1 691.0,639.5 691.5,639.7 692.0,639.8 692.5,640.4 693.0,640.2 693.5,640.0 694.0,640.3 694.5,640.7 695.0,640.7 695.5,640.5 696.0,640.6 696.5,640.4 697.0,640.5 697.5,640.5 698.0,639.8 698.5,640.4 699.0,640.4 699.5,640.3 700.0,641.7 700.5,642.1 701.0,641.0 701.5,639.8 702.0,641.7 702.5,641.2 703.0,641.1 703.5,641.3 704.0,641.2 704.5,641.6 705.0,641.1 705.5,641.4 706.0,643.0 706.5,642.8 707.0,641.7 707.5,641.8 708.0,642.7 708.5,642.7 709.0,641.5 709.5,643.5 710.0,643.0 710.5,642.0 711.0,642.1 711.5,641.8 712.0,642.1 712.5,642.0 713.0,642.1 713.5,642.5 714.0,642.8 714.5,643.1 715.0,642.8 715.5,642.0 716.0,642.8 716.5,642.4 717.0,642.2 717.5,642.5 718.0,641.5 718.5,642.6 719.0,642.8 719.5,642.6 720.0,642.6 720.5,642.4 721.0,641.4 721.5,642.9 722.0,643.5 722.5,643.6 723.0,642.6 723.5,643.3 724.0,643.5 724.5,644.2 725.0,643.8 725.5,643.0 726.0,643.4 726.5,644.6 727.0,644.4 727.5,642.8 728.0,643.3 728.5,643.2 729.0,643.2 729.5,643.0 730.0,643.8 730.5,644.6 731.0,644.2 731.5,643.8 732.0,644.2 732.5,644.2 733.0,644.0 733.5,644.2 734.0,644.1 734.5,644.3 735.0,645.0 735.5,645.0 736.0,644.1 736.5,643.9 737.0,643.7 737.5,644.2 738.0,644.6 738.5,644.5 739.0,643.9 739.5,643.3 740.0,644.5 740.5,644.7 741.0,644.9 741.5,644.7 742.0,644.8 742.5,643.9 743.0,644.3 743.5,644.8 744.0,644.4 744.5,644.9 745.0,644.6 745.5,643.9 746.0,644.4 746.5,644.6 747.0,644.3 747.5,644.9 748.0,643.8 748.5,643.8 749.0,643.7 749.5,644.6 750.0,644.7 750.5,644.9 751.0,644.7 751.5,644.0 752.0,644.0 752.5,644.1 753.0,645.5 753.5,646.1 754.0,645.5 754.5,645.1 755.0,645.8 755.5,646.0 756.0,644.1 756.5,644.9 757.0,645.7 757.5,645.1 758.0,645.9 758.5,645.1 759.0,645.9 759.5,646.8 760.0,645.8 760.5,646.0 761.0,646.4 761.5,644.5 762.0,644.7 762.5,644.8 763.0,644.2 763.5,644.7 764.0,645.8 764.5,645.9 765.0,645.4 765.5,645.3 766.0,646.2 766.5,645.1 767.0,645.8 767.5,645.3 768.0,645.3 768.5,646.0 769.0,646.0 769.5,646.5 770.0,646.8 770.5,647.0 771.0,644.6 771.5,645.2 772.0,646.4 772.5,646.4 773.0,645.6 773.5,645.8 774.0,647.1 774.5,646.9 775.0,645.0 775.5,645.3 776.0,646.3 776.5,646.4 777.0,646.3 777.5,646.1 778.0,645.8 778.5,646.0 779.0,646.2 779.5,646.0 780.0,645.8 780.5,646.4 781.0,646.9 781.5,646.3 782.0,646.3 782.5,646.1 783.0,645.9 783.5,646.7 784.0,647.1 784.5,647.1 785.0,647.1 785.5,646.5 786.0,646.2 786.5,646.9 787.0,646.6 787.5,645.2 788.0,645.2 788.5,645.7 789.0,645.7 789.5,646.0 790.0,645.7 790.5,645.9 791.0,646.3 791.5,646.3 792.0,646.1 792.5,644.4 793.0,645.7 793.5,646.8 794.0,646.3 794.5,646.1 795.0,646.8 795.5,646.7 796.0,646.5 796.5,646.1 797.0,646.3 797.5,647.0 798.0,645.9 798.5,646.0 799.0,645.8 799.5,645.9 800.0,646.0 800.5,645.9 801.0,646.3 801.5,645.5 802.0,646.1 802.5,645.6 803.0,646.4 803.5,646.5 804.0,646.1 804.5,646.2 805.0,645.5 805.5,645.6 806.0,646.1 806.5,646.8 807.0,646.1 807.5,645.2 808.0,646.3 808.5,646.3 809.0,645.3 809.5,645.8 810.0,646.8 810.5,646.3 811.0,645.9 811.5,646.0 812.0,646.5 812.5,646.6 813.0,646.2 813.5,646.4 814.0,646.9 814.5,646.5 815.0,646.7 815.5,646.9 816.0,646.6 816.5,646.9 817.0,647.1 817.5,647.1 818.0,646.2 818.5,645.8 819.0,646.8 819.5,646.7 820.0,646.2 820.5,645.9 821.0,645.7 821.5,647.0 822.0,647.4 822.5,646.7 823.0,646.4 823.5,646.1 824.0,646.4 824.5,645.7 825.0,646.8 825.5,647.1 826.0,646.6 826.5,645.9 827.0,645.6 827.5,646.0 828.0,646.6 828.5,646.6 829.0,646.9 829.5,646.5 830.0,646.4 830.5,645.9 831.0,646.6 831.5,647.1 832.0,646.7 832.5,646.4 833.0,647.2 833.5,647.4 834.0,646.1 834.5,646.5 835.0,647.5 835.5,647.0 836.0,647.6 836.5,647.7 837.0,647.5 837.5,646.5 838.0,646.4 838.5,647.1 839.0,646.5 839.5,646.5 840.0,647.6 840.5,647.9 841.0,647.7 841.5,647.7 842.0,647.0 842.5,646.7 843.0,646.9 843.5,648.3 844.0,648.1 844.5,647.4 845.0,647.2 845.5,647.1 846.0,646.9 846.5,647.5 847.0,647.2 847.5,646.0 848.0,647.3 848.5,647.4 849.0,647.2 849.5,645.4 850.0,646.0 850.5,646.4 851.0,647.1 851.5,647.6 852.0,647.5 852.5,647.7 853.0,647.7 853.5,648.0 854.0,647.7 854.5,647.9 855.0,647.8 855.5,648.0 856.0,647.3 856.5,647.5 857.0,647.5 857.5,647.4 858.0,647.1 858.5,648.2 859.0,647.6 859.5,647.9 860.0,647.6 860.5,648.1 861.0,648.2 861.5,647.6 862.0,647.7 862.5,647.1 863.0,647.5 863.5,647.9 864.0,647.2 864.5,646.8 865.0,646.4 865.5,646.2 866.0,647.3 866.5,648.0 867.0,647.2 867.5,647.1 868.0,647.8 868.5,647.8 869.0,646.7 869.5,646.7 870.0,646.3 870.5,646.6 871.0,646.7 871.5,646.8 872.0,645.6 872.5,647.2 873.0,646.6 873.5,646.0 874.0,646.2 874.5,646.4 875.0,646.0 875.5,646.3 876.0,647.6 876.5,647.2 877.0,646.6 877.5,645.7 878.0,645.2 878.5,646.2 879.0,646.7 879.5,646.7 880.0,647.2 880.5,647.1 881.0,646.6 881.5,645.8 882.0,646.8 882.5,646.3 883.0,646.8 883.5,646.7 884.0,645.7 884.5,646.3 885.0,647.2 885.5,647.3 886.0,647.5 886.5,647.1 887.0,646.3 887.5,646.6 888.0,646.4 888.5,646.2 889.0,646.8 889.5,646.8 890.0,645.7 890.5,645.4 891.0,645.3 891.5,645.7 892.0,646.3 892.5,645.1 893.0,647.0 893.5,646.1 894.0,644.9 894.5,646.6 895.0,646.8 895.5,646.1 896.0,645.1 896.5,645.3 897.0,645.1 897.5,645.5 898.0,645.2 898.5,646.0 899.0,646.4 899.5,646.6 900.0,646.0 900.5,645.9 901.0,646.8 901.5,646.2 902.0,645.7 902.5,645.6 903.0,646.3 903.5,647.4 904.0,646.5 904.5,645.0 905.0,646.3 905.5,646.5 906.0,646.3 906.5,646.6 907.0,646.2 907.5,645.8 908.0,646.2 908.5,645.9 909.0,645.5 909.5,644.7 910.0,644.7 910.5,645.6 911.0,645.5 911.5,644.7 912.0,645.0 912.5,645.6 913.0,645.3 913.5,645.2 914.0,645.7 914.5,644.6 915.0,645.9 915.5,646.2 916.0,645.7 916.5,644.0 917.0,644.1 917.5,644.8 918.0,645.6 918.5,645.6 919.0,644.4 919.5,644.7 920.0,644.6 920.5,644.0 921.0,643.6 921.5,643.8 922.0,644.6 922.5,645.1 923.0,645.2 923.5,644.8 924.0,644.7 924.5,646.0 925.0,645.5 925.5,644.8 926.0,644.7 926.5,644.3 927.0,643.2 927.5,643.7 928.0,644.3 928.5,644.5 929.0,644.1 929.5,643.7 930.0,643.5 930.5,643.1 931.0,643.6 931.5,642.9 932.0,641.9 932.5,642.6 933.0,642.7 933.5,642.9 934.0,642.4 934.5,642.6 935.0,642.7 935.5,643.0 936.0,644.0 936.5,643.9 937.0,643.9 937.5,643.3 938.0,641.6 938.5,642.0 939.0,642.0 939.5,642.1 940.0,643.1 940.5,643.3 941.0,643.4 941.5,643.1 942.0,642.8 942.5,643.0 943.0,643.0 943.5,643.2 944.0,643.0 944.5,642.6 945.0,642.4 945.5,642.7 946.0,642.9 946.5,642.5 947.0,642.1 947.5,641.3 948.0,641.2 948.5,641.0 949.0,641.1 949.5,641.3 950.0,641.7 950.5,641.7 951.0,641.0 951.5,640.8 952.0,640.2 952.5,639.6 953.0,639.4 953.5,639.4 954.0,639.5 954.5,640.1 955.0,640.4 955.5,639.6 956.0,640.0 956.5,640.1 957.0,640.5 957.5,640.4 958.0,639.6 958.5,639.4 959.0,640.0 959.5,640.2 960.0,638.8 960.5,638.3 961.0,638.7 961.5,638.8 962.0,639.4 962.5,639.4 963.0,639.5 963.5,640.2 964.0,639.4 964.5,638.9 965.0,639.7 965.5,640.0 966.0,640.1 966.5,640.3 967.0,639.6 967.5,640.1 968.0,638.7 968.5,639.2 969.0,639.3 969.5,639.5 970.0,640.8 970.5,640.7 971.0,640.4 971.5,640.9 972.0,641.4 972.5,641.5 973.0,641.5 973.5,641.0 974.0,640.4 974.5,640.0 975.0,640.8 975.5,639.8 976.0,640.4 976.5,640.9 977.0,640.6 977.5,640.2 978.0,640.3 978.5,640.9 979.0,641.2 979.5,641.1 980.0,641.2 980.5,641.1 981.0,641.6 981.5,640.9 982.0,642.8 982.5,643.0 983.0,641.7 983.5,642.0 984.0,642.4 984.5,642.9 985.0,643.5 985.5,643.0 986.0,642.4 986.5,642.5 987.0,643.1 987.5,643.9 988.0,644.2 988.5,643.8 989.0,643.7 989.5,644.1 990.0,644.5 990.5,644.2 991.0,644.1 991.5,644.0 992.0,642.9 992.5,644.4 993.0,644.1 993.5,643.2 994.0,643.3 994.5,644.0 995.0,644.1 995.5,643.4 996.0,645.2 996.5,644.6 997.0,645.3 997.5,644.8 998.0,645.2 998.5,645.4 999.0,646.2 999.5,646.3 1000.0,646.1 1000.5,644.8 1001.0,645.5 1001.5,645.0 1002.0,644.2 1002.5,645.7 1003.0,645.6 1003.5,646.0 1004.0,646.2 1004.5,645.8 1005.0,645.5 1005.5,646.0 1006.0,646.7 1006.5,646.6 1007.0,645.9 1007.5,645.9 1008.0,646.5 1008.5,645.7 1009.0,644.7 1009.5,645.1 1010.0,645.2 1010.5,646.1 1011.0,646.0 1011.5,645.9 1012.0,646.0 1012.5,644.6 1013.0,645.7 1013.5,647.3 1014.0,647.9 1014.5,647.2 1015.0,647.2 1015.5,647.9 1016.0,647.5 1016.5,647.0 1017.0,647.2 1017.5,647.2 1018.0,646.6 1018.5,646.9 1019.0,646.6 1019.5,646.4 1020.0,647.1 1020.5,646.6 1021.0,646.1 1021.5,646.7 1022.0,646.1 1022.5,645.8 1023.0,646.3 1023.5,646.2 1024.0,646.1 1024.5,646.7 1025.0,646.7 1025.5,646.2 1026.0,646.8 1026.5,647.4 1027.0,646.7 1027.5,645.8 1028.0,646.1 1028.5,646.6 1029.0,647.4 1029.5,647.5 1030.0,647.2 1030.5,647.7 1031.0,647.4 1031.5,646.7 1032.0,647.4 1032.5,647.6 1033.0,646.6 1033.5,646.3 1034.0,647.1 1034.5,647.2 1035.0,646.7 1035.5,647.5 1036.0,647.7 1036.5,648.8 1037.0,647.9 1037.5,647.3 1038.0,646.4 1038.5,646.1 1039.0,647.3 1039.5,648.4 1040.0,648.2 1040.5,647.4 1041.0,646.8 1041.5,647.6 1042.0,648.1 1042.5,646.8 1043.0,647.8 1043.5,648.3 1044.0,647.7 1044.5,647.3 1045.0,648.4 1045.5,648.2 1046.0,647.8 1046.5,647.9 1047.0,647.1 1047.5,646.8 1048.0,646.8 1048.5,647.0 1049.0,647.2 1049.5,647.0 1050.0,646.2 1050.5,647.1 1051.0,646.8 1051.5,647.4 1052.0,647.9 1052.5,647.2 1053.0,647.1 1053.5,647.0 1054.0,646.5 1054.5,647.8 1055.0,648.6 1055.5,647.9 1056.0,647.6 1056.5,648.1 1057.0,648.5 1057.5,648.5 1058.0,647.8 1058.5,647.2 1059.0,647.6 1059.5,646.8 1060.0,646.5 1060.5,646.6 1061.0,647.8 1061.5,647.4 1062.0,647.1 1062.5,647.2 1063.0,647.6 1063.5,647.6 1064.0,648.0 1064.5,648.3 1065.0,647.3 1065.5,647.3 1066.0,647.7 1066.5,647.6 1067.0,647.4 1067.5,647.6 1068.0,647.7 1068.5,647.9 1069.0,648.2 1069.5,647.8 1070.0,647.4 1070.5,646.9 1071.0,647.7 1071.5,647.9 1072.0,647.2 1072.5,647.7 1073.0,648.2 1073.5,648.4 1074.0,648.0 1074.5,647.2 1075.0,646.6 1075.5,648.5 1076.0,648.9 1076.5,648.7 1077.0,648.9 1077.5,648.9 1078.0,648.7 1078.5,648.6 1079.0,648.6 1079.5,648.8 1080.0,648.4 1080.5,648.4 1081.0,648.6 1081.5,648.3 1082.0,648.1 1082.5,648.4 1083.0,648.4 1083.5,648.4 1084.0,648.0 1084.5,647.8 1085.0,647.6 1085.5,647.4 1086.0,647.7 1086.5,647.5 1087.0,647.3 1087.5,647.6 1088.0,648.2 1088.5,647.6 1089.0,647.5 1089.5,648.3 1090.0,648.7 1090.5,648.8 1091.0,648.2 1091.5,648.4 1092.0,648.4 1092.5,648.1 1093.0,648.4 1093.5,648.0 1094.0,647.6 1094.5,647.7 1095.0,648.7 1095.5,649.1 1096.0,648.5 1096.5,648.6 1097.0,649.5 1097.5,649.9 1098.0,649.0 1098.5,648.5 1099.0,649.4 1099.5,648.8 1100.0,647.7 1100.5,648.4 1101.0,648.8 1101.5,647.7 1102.0,647.5 1102.5,648.2 1103.0,649.4 1103.5,649.4 1104.0,648.3 1104.5,648.5 1105.0,648.1 1105.5,648.0 1106.0,649.0 1106.5,649.2 1107.0,649.1 1107.5,648.8 1108.0,648.4 1108.5,647.8 1109.0,647.8 1109.5,648.6 1110.0,648.4 1110.5,647.7 1111.0,647.8 1111.5,648.0 1112.0,648.3 1112.5,648.7 1113.0,648.9 1113.5,648.8 1114.0,648.3 1114.5,646.7 1115.0,646.8 1115.5,646.8 1116.0,647.2 1116.5,646.8 1117.0,646.9 1117.5,647.7 1118.0,647.4 1118.5,647.5 1119.0,648.1 1119.5,647.6 1120.0,647.4 1120.5,647.6 1121.0,647.3 1121.5,646.9 1122.0,647.3 1122.5,647.4 1123.0,647.1 1123.5,646.7 1124.0,646.8 1124.5,647.6 1125.0,647.0 1125.5,645.9 1126.0,646.0 1126.5,646.5 1127.0,646.4 1127.5,645.8 1128.0,646.7 1128.5,646.2 1129.0,646.3 1129.5,645.5 1130.0,645.8 1130.5,645.2 1131.0,645.3 1131.5,646.9 1132.0,646.5 1132.5,646.1 1133.0,646.4 1133.5,646.3 1134.0,646.1 1134.5,646.2 1135.0,645.9 1135.5,646.6 1136.0,647.0 1136.5,646.0 1137.0,645.2 1137.5,644.5 1138.0,645.5 1138.5,645.6 1139.0,645.5 1139.5,644.8 1140.0,645.2 1140.5,645.4 1141.0,645.3 1141.5,645.0 1142.0,645.3 1142.5,645.7 1143.0,645.3 1143.5,645.3 1144.0,644.7 1144.5,644.7 1145.0,645.0 1145.5,644.2 1146.0,643.4 1146.5,645.1 1147.0,644.5 1147.5,644.4 1148.0,643.8 1148.5,643.4 1149.0,644.1 1149.5,644.1 1150.0,645.2 1150.5,645.3 1151.0,643.9 1151.5,644.1 1152.0,644.1 1152.5,643.3 1153.0,643.3 1153.5,643.5 1154.0,643.7 1154.5,643.5 1155.0,644.2 1155.5,643.8 1156.0,643.5 1156.5,643.5 1157.0,643.1 1157.5,642.1 1158.0,642.6 1158.5,643.3 1159.0,642.9 1159.5,643.4 1160.0,642.9 1160.5,642.5 1161.0,643.2 1161.5,642.1 1162.0,641.6 1162.5,642.2 1163.0,641.9 1163.5,641.5 1164.0,641.5 1164.5,641.2 1165.0,640.7 1165.5,641.3 1166.0,641.8 1166.5,641.5 1167.0,641.6 1167.5,641.4 1168.0,640.9 1168.5,641.5 1169.0,641.7 1169.5,641.5"/>
<g fill="#5533ee"><polygon points="198.4,688.6 199.3,687.4 200.0,686.3 200.7,684.9 201.1,683.4 201.3,682.3 201.7,681.6 202.7,681.2 204.3,681.2 205.3,681.6 205.7,682.3 205.9,683.4 206.3,684.9 207.0,686.3 207.7,687.4 208.6,688.6"/><polygon points="220.4,688.3 221.3,687.1 222.0,685.9 222.7,684.3 223.1,682.8 223.3,681.6 223.7,680.9 224.7,680.4 226.3,680.4 227.3,680.9 227.7,681.6 227.9,682.8 228.3,684.3 229.0,685.9 229.7,687.1 230.6,688.3"/><polygon points="303.2,700.3 303.9,699.3 304.5,698.3 305.1,697.0 305.5,695.7 305.6,694.8 306.0,694.2 306.8,693.8 308.2,693.8 309.0,694.2 309.4,694.8 309.5,695.7 309.9,697.0 310.5,698.3 311.1,699.3 311.8,700.3"/></g><polyline fill="none" stroke="#5533ee" stroke-width="5.0" stroke-linejoin="round" points="91.5,682.6 92.0,681.9 92.5,680.2 93.0,679.7 93.5,678.0 94.0,682.2 94.5,682.3 95.0,681.6 95.5,682.2 96.0,681.1 96.5,682.3 97.0,682.2 97.5,680.6 98.0,683.0 98.5,682.5 99.0,680.4 99.5,679.9 100.0,679.9 100.5,678.7 101.0,678.0 101.5,680.8 102.0,680.2 102.5,680.1 103.0,680.1 103.5,680.4 104.0,680.0 104.5,679.9 105.0,678.5 105.5,677.2 106.0,679.1 106.5,679.3 107.0,678.7 107.5,678.8 108.0,678.0 108.5,679.3 109.0,680.3 109.5,681.3 110.0,681.4 110.5,680.8 111.0,681.5 111.5,682.2 112.0,682.2 112.5,683.2 113.0,681.6 113.5,681.4 114.0,681.9 114.5,682.1 115.0,683.5 115.5,683.7 116.0,683.4 116.5,682.0 117.0,681.4 117.5,682.5 118.0,683.2 118.5,682.6 119.0,682.3 119.5,683.2 120.0,680.2 120.5,681.2 121.0,682.9 121.5,683.0 122.0,682.0 122.5,683.6 123.0,684.7 123.5,683.9 124.0,683.8 124.5,682.5 125.0,683.3 125.5,681.7 126.0,684.0 126.5,685.3 127.0,684.7 127.5,683.7 128.0,684.0 128.5,683.3 129.0,683.8 129.5,685.3 130.0,684.7 130.5,685.0 131.0,685.4 131.5,684.4 132.0,687.3 132.5,686.3 133.0,684.1 133.5,684.1 134.0,684.4 134.5,683.7 135.0,684.4 135.5,686.3 136.0,686.4 136.5,685.4 137.0,684.3 137.5,684.0 138.0,684.2 138.5,684.9 139.0,685.2 139.5,684.6 140.0,684.8 140.5,684.6 141.0,685.2 141.5,685.6 142.0,684.8 142.5,684.6 143.0,685.2 143.5,685.9 144.0,685.5 144.5,685.3 145.0,684.7 145.5,683.5 146.0,681.4 146.5,682.6 147.0,684.1 147.5,683.0 148.0,684.4 148.5,683.3 149.0,683.7 149.5,684.7 150.0,683.1 150.5,685.0 151.0,684.7 151.5,684.5 152.0,683.6 152.5,684.9 153.0,685.3 153.5,685.1 154.0,683.8 154.5,684.3 155.0,685.3 155.5,685.2 156.0,684.2 156.5,684.5 157.0,685.4 157.5,684.7 158.0,682.9 158.5,683.0 159.0,684.4 159.5,684.3 160.0,684.1 160.5,683.4 161.0,683.5 161.5,684.9 162.0,685.3 162.5,685.4 163.0,685.4 163.5,684.5 164.0,684.4 164.5,683.9 165.0,683.0 165.5,684.7 166.0,685.6 166.5,683.5 167.0,683.3 167.5,684.2 168.0,683.3 168.5,683.9 169.0,684.7 169.5,685.6 170.0,684.7 170.5,683.5 171.0,684.3 171.5,683.4 172.0,684.2 172.5,686.7 173.0,685.6 173.5,684.7 174.0,685.0 174.5,685.0 175.0,684.6 175.5,684.9 176.0,684.3 176.5,684.5 177.0,685.3 177.5,685.9 178.0,682.8 178.5,682.9 179.0,683.3 179.5,683.5 180.0,684.9 180.5,684.7 181.0,683.7 181.5,683.4 182.0,684.4 182.5,686.4 183.0,686.8 183.5,685.8 184.0,684.2 184.5,683.8 185.0,683.5 185.5,682.8 186.0,684.6 186.5,685.6 187.0,685.3 187.5,685.6 188.0,686.6 188.5,687.9 189.0,686.8 189.5,685.8 190.0,686.0 190.5,687.2 191.0,688.5 191.5,687.4 192.0,688.0 192.5,686.5 193.0,684.1 193.5,684.3 194.0,684.8 194.5,686.3 195.0,684.8 195.5,686.1 196.0,685.9 196.5,687.2 197.0,687.1 197.5,688.3 198.0,688.2 198.5,686.8 199.0,686.9 199.5,687.7 200.0,688.9 200.5,688.5 201.0,686.3 201.5,686.9 202.0,688.2 202.5,687.8 203.0,687.9 203.5,688.4 204.0,688.9 204.5,688.4 205.0,687.4 205.5,688.1 206.0,688.5 206.5,689.5 207.0,690.4 207.5,689.8 208.0,690.6 208.5,690.1 209.0,690.0 209.5,691.4 210.0,690.8 210.5,690.2 211.0,690.3 211.5,689.5 212.0,689.0 212.5,690.0 213.0,690.2 213.5,688.8 214.0,690.0 214.5,689.8 215.0,688.7 215.5,689.7 216.0,690.1 216.5,689.1 217.0,687.1 217.5,688.7 218.0,689.3 218.5,689.5 219.0,688.9 219.5,688.9 220.0,689.7 220.5,689.7 221.0,688.8 221.5,687.7 222.0,687.5 222.5,687.2 223.0,687.4 223.5,688.3 224.0,687.1 224.5,686.4 225.0,686.9 225.5,687.9 226.0,687.7 226.5,687.5 227.0,687.8 227.5,687.9 228.0,688.2 228.5,688.9 229.0,690.0 229.5,690.3 230.0,689.3 230.5,690.1 231.0,691.4 231.5,690.3 232.0,690.3 232.5,690.2 233.0,689.2 233.5,689.2 234.0,690.8 234.5,691.4 235.0,690.7 235.5,690.8 236.0,690.6 236.5,690.9 237.0,691.7 237.5,692.6 238.0,691.7 238.5,691.5 239.0,692.5 239.5,690.5 240.0,690.8 240.5,693.0 241.0,693.2 241.5,692.5 242.0,692.0 242.5,690.7 243.0,690.8 243.5,692.1 244.0,691.4 244.5,691.4 245.0,691.7 245.5,693.1 246.0,692.9 246.5,691.2 247.0,690.8 247.5,691.3 248.0,691.7 248.5,693.2 249.0,692.9 249.5,693.7 250.0,694.4 250.5,694.7 251.0,693.7 251.5,693.0 252.0,693.1 252.5,693.7 253.0,694.4 253.5,694.8 254.0,694.3 254.5,694.9 255.0,694.3 255.5,694.2 256.0,695.8 256.5,694.6 257.0,695.1 257.5,695.5 258.0,695.2 258.5,695.0 259.0,694.1 259.5,696.0 260.0,696.0 260.5,696.3 261.0,695.9 261.5,694.3 262.0,697.2 262.5,698.7 263.0,697.7 263.5,697.5 264.0,698.3 264.5,698.5 265.0,697.8 265.5,696.5 266.0,696.3 266.5,697.2 267.0,699.1 267.5,700.4 268.0,699.7 268.5,698.7 269.0,699.6 269.5,700.9 270.0,699.7 270.5,698.7 271.0,699.3 271.5,697.4 272.0,698.5 272.5,698.4 273.0,698.6 273.5,698.0 274.0,698.2 274.5,699.8 275.0,700.5 275.5,700.8 276.0,700.7 276.5,700.4 277.0,701.4 277.5,701.2 278.0,700.1 278.5,701.0 279.0,701.1 279.5,699.8 280.0,699.6 280.5,700.2 281.0,700.5 281.5,700.6 282.0,701.3 282.5,702.0 283.0,701.8 283.5,701.3 284.0,700.9 284.5,702.9 285.0,702.7 285.5,701.3 286.0,701.8 286.5,703.0 287.0,702.5 287.5,701.9 288.0,701.7 288.5,702.8 289.0,702.2 289.5,702.3 290.0,701.9 290.5,702.5 291.0,702.9 291.5,702.1 292.0,702.1 292.5,701.9 293.0,701.8 293.5,701.9 294.0,701.5 294.5,701.2 295.0,700.7 295.5,700.0 296.0,700.0 296.5,699.9 297.0,699.4 297.5,699.4 298.0,700.4 298.5,700.9 299.0,700.3 299.5,700.3 300.0,700.8 300.5,702.1 301.0,699.7 301.5,699.4 302.0,699.3 302.5,699.6 303.0,700.0 303.5,699.4 304.0,699.6 304.5,699.7 305.0,698.0 305.5,697.6 306.0,698.9 306.5,698.9 307.0,698.3 307.5,700.9 308.0,699.9 308.5,699.1 309.0,700.4 309.5,701.8 310.0,702.2 310.5,701.7 311.0,700.7 311.5,700.4 312.0,701.0 312.5,700.8 313.0,701.1 313.5,701.4 314.0,699.7 314.5,702.7 315.0,703.1 315.5,702.3 316.0,703.3 316.5,702.5 317.0,702.2 317.5,702.1 318.0,703.9 318.5,704.4 319.0,702.6 319.5,703.6 320.0,704.5 320.5,703.7 321.0,704.4 321.5,703.8 322.0,704.8 322.5,706.7 323.0,705.7 323.5,705.2 324.0,705.3 324.5,704.9 325.0,704.1 325.5,705.0 326.0,705.2 326.5,706.0 327.0,707.5 327.5,707.2 328.0,707.0 328.5,708.3 329.0,707.8 329.5,707.2 330.0,708.2 330.5,709.4 331.0,708.7 331.5,707.9 332.0,708.1 332.5,709.3 333.0,708.7 333.5,707.7 334.0,708.9 334.5,708.2 335.0,707.6 335.5,709.1 336.0,709.0 336.5,708.4 337.0,707.9 337.5,708.2 338.0,708.4 338.5,708.0 339.0,708.8 339.5,708.8 340.0,709.2 340.5,710.0 341.0,709.8 341.5,710.1 342.0,709.8 342.5,708.2 343.0,708.9 343.5,710.6 344.0,709.9 344.5,709.0 345.0,709.9 345.5,708.5 346.0,709.4 346.5,709.5 347.0,711.2 347.5,711.2 348.0,707.1 348.5,709.1 349.0,710.1 349.5,709.2 350.0,709.9 350.5,709.5 351.0,711.0 351.5,711.1 352.0,711.4 352.5,712.1 353.0,711.6 353.5,711.5 354.0,712.5 354.5,712.5 355.0,710.9 355.5,710.7 356.0,711.7 356.5,712.5 357.0,712.6 357.5,712.7 358.0,712.9 358.5,712.5 359.0,712.5 359.5,712.6 360.0,712.7 360.5,712.9 361.0,712.5 361.5,711.7 362.0,712.1 362.5,712.8 363.0,712.7 363.5,712.9 364.0,713.5 364.5,714.2 365.0,713.4 365.5,713.6 366.0,713.2 366.5,710.7 367.0,712.6 367.5,713.1 368.0,712.8 368.5,713.1 369.0,712.5 369.5,710.3 370.0,712.5 370.5,713.4 371.0,714.0 371.5,714.1 372.0,713.8 372.5,714.6 373.0,713.8 373.5,712.3 374.0,715.5 374.5,716.6 375.0,716.7 375.5,716.7 376.0,716.6 376.5,716.1 377.0,714.4 377.5,714.1 378.0,715.1 378.5,716.3 379.0,716.3 379.5,715.4 380.0,716.2 380.5,716.0 381.0,715.9 381.5,716.8 382.0,716.7 382.5,716.5 383.0,715.8 383.5,715.4 384.0,716.2 384.5,717.5 385.0,717.4 385.5,716.4 386.0,716.4 386.5,717.3 387.0,717.0 387.5,716.7 388.0,717.1 388.5,717.0 389.0,716.8 389.5,716.8 390.0,717.9 390.5,717.8 391.0,716.8 391.5,715.9 392.0,716.3 392.5,717.5 393.0,717.6 393.5,718.2 394.0,717.9 394.5,717.7 395.0,717.6 395.5,719.1 396.0,720.4 396.5,719.7 397.0,719.8 397.5,720.0 398.0,719.8 398.5,719.7 399.0,720.6 399.5,719.4 400.0,718.4 400.5,719.2 401.0,719.3 401.5,718.4 402.0,718.2 402.5,719.5 403.0,719.4 403.5,719.2 404.0,719.4 404.5,719.0 405.0,718.7 405.5,718.5 406.0,718.6 406.5,719.3 407.0,719.3 407.5,719.2 408.0,719.9 408.5,718.5 409.0,720.9 409.5,721.0 410.0,720.1 410.5,720.3 411.0,721.1 411.5,721.0 412.0,721.6 412.5,722.0 413.0,721.0 413.5,719.7 414.0,720.8 414.5,721.5 415.0,722.2 415.5,721.9 416.0,721.1 416.5,721.0 417.0,720.2 417.5,720.7 418.0,722.3 418.5,721.6 419.0,721.7 419.5,721.4 420.0,722.2 420.5,722.8 421.0,721.7 421.5,723.0 422.0,722.7 422.5,721.8 423.0,721.8 423.5,721.3 424.0,721.7 424.5,721.7 425.0,722.7 425.5,723.7 426.0,721.6 426.5,723.6 427.0,724.0 427.5,722.7 428.0,723.0 428.5,722.5 429.0,721.4 429.5,723.1 430.0,721.8 430.5,722.9 431.0,723.2 431.5,722.6 432.0,722.6 432.5,722.6 433.0,721.9 433.5,722.3 434.0,721.0 434.5,722.9 435.0,723.5 435.5,724.5 436.0,724.3 436.5,723.4 437.0,722.6 437.5,723.7 438.0,721.6 438.5,720.0 439.0,720.7 439.5,721.9 440.0,722.1 440.5,723.0 441.0,722.9 441.5,723.1 442.0,724.2 442.5,723.9 443.0,723.3 443.5,723.1 444.0,722.8 444.5,722.5 445.0,722.0 445.5,722.6 446.0,723.8 446.5,723.5 447.0,723.0 447.5,722.3 448.0,722.2 448.5,721.9 449.0,723.1 449.5,723.0 450.0,722.6 450.5,721.9 451.0,722.2 451.5,723.5 452.0,721.8 452.5,721.8 453.0,721.6 453.5,722.2 454.0,723.1 454.5,722.0 455.0,721.7 455.5,721.7 456.0,722.0 456.5,721.4 457.0,722.2 457.5,722.7 458.0,723.0 458.5,722.7 459.0,722.9 459.5,723.0 460.0,723.1 460.5,722.9 461.0,723.5 461.5,723.4 462.0,723.4 462.5,722.6 463.0,721.8 463.5,722.0 464.0,721.6 464.5,722.2 465.0,723.9 465.5,724.1 466.0,723.7 466.5,722.6 467.0,722.2 467.5,722.5 468.0,722.5 468.5,723.5 469.0,723.2 469.5,722.3 470.0,723.1 470.5,721.4 471.0,722.7 471.5,722.7 472.0,722.9 472.5,721.8 473.0,721.7 473.5,722.6 474.0,723.6 474.5,722.7 475.0,721.0 475.5,723.7 476.0,724.6 476.5,724.9 477.0,723.9 477.5,723.9 478.0,723.7 478.5,722.9 479.0,722.8 479.5,722.6 480.0,723.5 480.5,722.9 481.0,721.7 481.5,722.8 482.0,723.8 482.5,723.7 483.0,721.9 483.5,723.1 484.0,722.9 484.5,722.1 485.0,721.8 485.5,722.0 486.0,722.1 486.5,720.9 487.0,722.4 487.5,722.7 488.0,720.2 488.5,720.6 489.0,720.6 489.5,718.8 490.0,719.8 490.5,719.9 491.0,719.8 491.5,720.4 492.0,719.4 492.5,719.7 493.0,721.4 493.5,720.5 494.0,720.1 494.5,720.8 495.0,721.2 495.5,721.8 496.0,721.8 496.5,720.4 497.0,719.6 497.5,719.7 498.0,720.7 498.5,719.9 499.0,719.9 499.5,720.8 500.0,720.0 500.5,720.0 501.0,719.1 501.5,717.8 502.0,716.6 502.5,718.7 503.0,718.5 503.5,718.0 504.0,716.9 504.5,717.0 505.0,717.3 505.5,715.7 506.0,717.4 506.5,716.3 507.0,716.4 507.5,717.3 508.0,717.4 508.5,716.6 509.0,715.7 509.5,716.2 510.0,716.5 510.5,715.8 511.0,716.1 511.5,716.4 512.0,715.9 512.5,715.1 513.0,714.0 513.5,714.8 514.0,713.9 514.5,714.3 515.0,713.5 515.5,712.7 516.0,713.5 516.5,713.5 517.0,712.2 517.5,712.7 518.0,713.0 518.5,712.0 519.0,712.5 519.5,711.6 520.0,710.3 520.5,710.3 521.0,709.5 521.5,710.5 522.0,710.5 522.5,710.7 523.0,709.2 523.5,709.0 524.0,708.2 524.5,706.7 525.0,705.8 525.5,705.5 526.0,704.5 526.5,703.8 527.0,702.1 527.5,702.6 528.0,702.5 528.5,702.9 529.0,703.4 529.5,701.5 530.0,701.6 530.5,699.9 531.0,699.9 531.5,700.2 532.0,699.6 532.5,698.1 533.0,697.2 533.5,696.8 534.0,696.5 534.5,696.4 535.0,695.5 535.5,694.4 536.0,694.7 536.5,694.6 537.0,694.0 537.5,694.0 538.0,693.9 538.5,694.0 539.0,693.2 539.5,692.2 540.0,692.3 540.5,690.7 541.0,690.2 541.5,690.1 542.0,691.4 542.5,691.8 543.0,691.3 543.5,690.6 544.0,690.6 544.5,691.0 545.0,691.2 545.5,691.6 546.0,691.5 546.5,691.9 547.0,690.8 547.5,690.9 548.0,692.9 548.5,693.4 549.0,692.5 549.5,693.5 550.0,693.5 550.5,692.5 551.0,693.2 551.5,693.2 552.0,693.2 552.5,694.1 553.0,694.1 553.5,694.3 554.0,694.5 554.5,695.2 555.0,694.1 555.5,694.5 556.0,694.9 556.5,696.7 557.0,697.8 557.5,698.3 558.0,698.4 558.5,698.3 559.0,699.6 559.5,700.4 560.0,699.8 560.5,699.7 561.0,701.3 561.5,702.9 562.0,701.6 562.5,702.3 563.0,703.7 563.5,702.0 564.0,703.1 564.5,704.2 565.0,703.5 565.5,705.6 566.0,705.7 566.5,706.7 567.0,707.5 567.5,706.9 568.0,708.1 568.5,708.6 569.0,708.5 569.5,709.7 570.0,709.9 570.5,709.3 571.0,710.1 571.5,711.0 572.0,709.5 572.5,711.6 573.0,711.7 573.5,712.0 574.0,712.5 574.5,712.8 575.0,713.1 575.5,713.5 576.0,714.2 576.5,714.0 577.0,714.3 577.5,714.7 578.0,715.4 578.5,715.4 579.0,714.2 579.5,716.1 580.0,716.0 580.5,716.2 581.0,716.3 581.5,716.9 582.0,717.7 582.5,717.9 583.0,717.3 583.5,717.1 584.0,718.6 584.5,719.5 585.0,719.0 585.5,718.6 586.0,718.9 586.5,719.5 587.0,720.2 587.5,720.0 588.0,719.5 588.5,718.1 589.0,719.4 589.5,720.2 590.0,719.9 590.5,719.4 591.0,719.3 591.5,718.7 592.0,718.6 592.5,718.9 593.0,720.4 593.5,720.1 594.0,721.2 594.5,720.6 595.0,720.8 595.5,720.6 596.0,719.7 596.5,719.9 597.0,720.6 597.5,720.3 598.0,720.2 598.5,721.8 599.0,722.2 599.5,721.4 600.0,721.3 600.5,721.9 601.0,722.7 601.5,722.5 602.0,722.3 602.5,721.3 603.0,721.1 603.5,721.4 604.0,721.7 604.5,721.6 605.0,721.5 605.5,722.4 606.0,723.1 606.5,721.9 607.0,721.9 607.5,722.6 608.0,722.4 608.5,722.2 609.0,722.4 609.5,723.3 610.0,722.9 610.5,722.0 611.0,722.2 611.5,721.6 612.0,721.8 612.5,722.3 613.0,722.5 613.5,723.2 614.0,723.9 614.5,723.8 615.0,722.9 615.5,723.4 616.0,724.3 616.5,722.9 617.0,722.3 617.5,723.6 618.0,723.6 618.5,723.1 619.0,722.6 619.5,722.6 620.0,722.8 620.5,723.2 621.0,723.0 621.5,722.5 622.0,722.9 622.5,723.1 623.0,723.1 623.5,722.7 624.0,723.5 624.5,724.0 625.0,723.2 625.5,723.0 626.0,723.3 626.5,724.1 627.0,723.9 627.5,723.5 628.0,723.5 628.5,724.6 629.0,725.1 629.5,724.1 630.0,722.8 630.5,724.8 631.0,724.8 631.5,724.5 632.0,724.5 632.5,722.8 633.0,724.4 633.5,725.2 634.0,725.2 634.5,724.4 635.0,724.0 635.5,723.2 636.0,724.6 636.5,724.5 637.0,725.1 637.5,725.6 638.0,725.9 638.5,726.0 639.0,725.4 639.5,724.6 640.0,726.1 640.5,726.4 641.0,726.0 641.5,724.1 642.0,726.2 642.5,727.3 643.0,727.7 643.5,726.8 644.0,726.5 644.5,727.4 645.0,727.3 645.5,726.9 646.0,727.5 646.5,727.6 647.0,727.8 647.5,728.4 648.0,728.4 648.5,727.7 649.0,728.3 649.5,729.4 650.0,728.7 650.5,728.3 651.0,728.2 651.5,728.1 652.0,729.5 652.5,729.2 653.0,729.8 653.5,730.2 654.0,730.1 654.5,729.4 655.0,729.6 655.5,730.1 656.0,729.7 656.5,729.4 657.0,729.1 657.5,729.9 658.0,730.4 658.5,730.3 659.0,731.1 659.5,731.1 660.0,731.2 660.5,730.6 661.0,730.4 661.5,730.4 662.0,730.3 662.5,730.4 663.0,731.5 663.5,732.1 664.0,731.7 664.5,731.5 665.0,731.9 665.5,732.2 666.0,731.4 666.5,731.4 667.0,730.9 667.5,730.6 668.0,731.4 668.5,732.1 669.0,732.2 669.5,733.7 670.0,733.8 670.5,733.8 671.0,734.0 671.5,732.6 672.0,732.7 672.5,733.5 673.0,733.7 673.5,732.0 674.0,732.2 674.5,732.9 675.0,734.1 675.5,734.3 676.0,733.7 676.5,732.9 677.0,733.3 677.5,734.0 678.0,734.2 678.5,734.0 679.0,733.8 679.5,732.5 680.0,732.2 680.5,732.9 681.0,732.6 681.5,733.3 682.0,733.6 682.5,733.1 683.0,733.8 683.5,734.2 684.0,733.6 684.5,733.2 685.0,734.5 685.5,734.7 686.0,734.5 686.5,733.5 687.0,733.3 687.5,734.4 688.0,734.2 688.5,733.5 689.0,732.1 689.5,734.1 690.0,734.3 690.5,734.0 691.0,734.6 691.5,735.4 692.0,734.8 692.5,735.1 693.0,734.9 693.5,734.6 694.0,735.9 694.5,736.1 695.0,735.4 695.5,735.4 696.0,734.6 696.5,735.1 697.0,734.9 697.5,735.2 698.0,735.5 698.5,735.7 699.0,735.5 699.5,735.6 700.0,736.3 700.5,736.0 701.0,735.5 701.5,736.1 702.0,735.1 702.5,734.3 703.0,734.8 703.5,734.4 704.0,734.4 704.5,734.9 705.0,735.1 705.5,735.1 706.0,735.0 706.5,735.5 707.0,735.4 707.5,735.9 708.0,736.2 708.5,736.3 709.0,736.7 709.5,737.2 710.0,736.5 710.5,735.2 711.0,736.6 711.5,736.4 712.0,736.1 712.5,736.3 713.0,736.7 713.5,736.7 714.0,736.1 714.5,736.3 715.0,736.3 715.5,735.4 716.0,736.1 716.5,736.7 717.0,735.7 717.5,735.4 718.0,736.1 718.5,736.8 719.0,735.8 719.5,736.1 720.0,735.9 720.5,735.8 721.0,736.2 721.5,736.4 722.0,736.7 722.5,736.7 723.0,736.9 723.5,736.2 724.0,736.6 724.5,736.6 725.0,736.5 725.5,737.2 726.0,736.2 726.5,736.1 727.0,736.4 727.5,736.9 728.0,736.7 728.5,737.1 729.0,737.2 729.5,736.5 730.0,737.0 730.5,737.3 731.0,736.9 731.5,737.3 732.0,738.4 732.5,738.0 733.0,737.5 733.5,737.8 734.0,738.4 734.5,738.3 735.0,736.2 735.5,737.4 736.0,737.4 736.5,737.5 737.0,737.3 737.5,737.4 738.0,737.9 738.5,737.8 739.0,737.7 739.5,737.8 740.0,737.9 740.5,737.5 741.0,736.6 741.5,737.4 742.0,738.4 742.5,738.1 743.0,736.7 743.5,737.4 744.0,738.5 744.5,737.9 745.0,738.4 745.5,739.3 746.0,738.5 746.5,737.9 747.0,738.3 747.5,738.7 748.0,738.9 748.5,738.8 749.0,739.1 749.5,738.8 750.0,737.7 750.5,737.7 751.0,737.9 751.5,738.1 752.0,738.1 752.5,737.4 753.0,739.2 753.5,739.5 754.0,738.7 754.5,737.5 755.0,737.5 755.5,738.0 756.0,736.7 756.5,738.1 757.0,738.5 757.5,738.5 758.0,737.9 758.5,738.1 759.0,738.2 759.5,737.0 760.0,737.3 760.5,738.8 761.0,739.0 761.5,737.9 762.0,737.8 762.5,738.8 763.0,738.9 763.5,738.3 764.0,737.7 764.5,737.7 765.0,738.0 765.5,738.6 766.0,739.1 766.5,738.9 767.0,737.3 767.5,737.8 768.0,738.7 768.5,739.4 769.0,739.6 769.5,738.7 770.0,739.5 770.5,739.8 771.0,738.6 771.5,738.6 772.0,738.2 772.5,738.1 773.0,737.2 773.5,738.1 774.0,737.2 774.5,738.0 775.0,738.4 775.5,738.2 776.0,736.3 776.5,737.9 777.0,738.4 777.5,738.6 778.0,738.5 778.5,738.4 779.0,738.6 779.5,738.3 780.0,737.1 780.5,738.9 781.0,739.2 781.5,738.8 782.0,738.9 782.5,739.8 783.0,739.6 783.5,739.0 784.0,738.4 784.5,738.9 785.0,738.8 785.5,738.8 786.0,738.4 786.5,737.5 787.0,737.9 787.5,738.1 788.0,738.3 788.5,738.7 789.0,738.1 789.5,738.5 790.0,739.2 790.5,739.5 791.0,739.2 791.5,738.8 792.0,739.4 792.5,739.3 793.0,738.8 793.5,738.8 794.0,740.5 794.5,741.0 795.0,740.3 795.5,739.6 796.0,738.5 796.5,739.1 797.0,738.7 797.5,739.7 798.0,739.8 798.5,739.0 799.0,738.9 799.5,739.3 800.0,739.8 800.5,740.2 801.0,739.6 801.5,740.0 802.0,739.7 802.5,739.3 803.0,739.7 803.5,739.3 804.0,739.0 804.5,739.4 805.0,740.2 805.5,739.4 806.0,738.8 806.5,739.7 807.0,739.4 807.5,738.8 808.0,739.7 808.5,740.0 809.0,739.4 809.5,739.7 810.0,739.9 810.5,740.0 811.0,740.1 811.5,740.5 812.0,740.5 812.5,740.4 813.0,740.0 813.5,739.8 814.0,739.2 814.5,740.5 815.0,740.8 815.5,740.7 816.0,740.5 816.5,739.6 817.0,740.0 817.5,739.2 818.0,739.4 818.5,739.3 819.0,739.5 819.5,740.2 820.0,740.5 820.5,740.3 821.0,740.6 821.5,740.8 822.0,740.8 822.5,740.5 823.0,740.5 823.5,739.8 824.0,739.7 824.5,739.9 825.0,739.5 825.5,740.0 826.0,739.8 826.5,739.7 827.0,740.7 827.5,740.8 828.0,739.4 828.5,740.2 829.0,739.9 829.5,739.3 830.0,739.2 830.5,739.5 831.0,740.6 831.5,741.4 832.0,740.0 832.5,739.0 833.0,738.6 833.5,739.5 834.0,741.0 834.5,740.3 835.0,740.3 835.5,740.8 836.0,740.2 836.5,740.1 837.0,740.5 837.5,740.3 838.0,739.5 838.5,739.2 839.0,739.0 839.5,739.2 840.0,738.8 840.5,740.3 841.0,741.2 841.5,740.1 842.0,740.1 842.5,740.6 843.0,740.4 843.5,740.6 844.0,740.1 844.5,739.9 845.0,739.8 845.5,740.4 846.0,740.7 846.5,739.8 847.0,740.1 847.5,740.4 848.0,739.6 848.5,740.5 849.0,740.5 849.5,740.5 850.0,740.0 850.5,740.5 851.0,741.0 851.5,739.6 852.0,740.3 852.5,740.4 853.0,741.0 853.5,739.0 854.0,739.3 854.5,740.1 855.0,739.4 855.5,740.1 856.0,741.1 856.5,740.7 857.0,740.4 857.5,740.8 858.0,741.4 858.5,741.1 859.0,741.2 859.5,741.7 860.0,741.3 860.5,741.8 861.0,741.6 861.5,741.2 862.0,741.2 862.5,739.7 863.0,739.5 863.5,740.5 864.0,740.3 864.5,740.7 865.0,740.4 865.5,740.1 866.0,740.4 866.5,740.3 867.0,739.5 867.5,739.1 868.0,739.5 868.5,740.4 869.0,740.5 869.5,740.1 870.0,740.5 870.5,739.8 871.0,739.4 871.5,739.0 872.0,740.9 872.5,741.4 873.0,741.0 873.5,739.8 874.0,739.8 874.5,739.6 875.0,740.0 875.5,740.3 876.0,739.7 876.5,740.6 877.0,740.8 877.5,739.6 878.0,739.7 878.5,740.1 879.0,739.5 879.5,739.5 880.0,739.4 880.5,739.9 881.0,740.1 881.5,739.7 882.0,740.4 882.5,740.4 883.0,739.8 883.5,739.8 884.0,739.7 884.5,739.6 885.0,739.7 885.5,740.0 886.0,739.9 886.5,739.2 887.0,739.1 887.5,738.6 888.0,738.7 888.5,739.9 889.0,740.7 889.5,740.5 890.0,740.3 890.5,739.5 891.0,739.6 891.5,740.5 892.0,740.5 892.5,740.1 893.0,739.7 893.5,739.9 894.0,739.6 894.5,739.4 895.0,740.2 895.5,739.6 896.0,739.0 896.5,739.7 897.0,740.4 897.5,739.7 898.0,737.8 898.5,738.4 899.0,738.7 899.5,739.3 900.0,739.0 900.5,739.0 901.0,738.2 901.5,737.5 902.0,739.6 902.5,738.8 903.0,738.2 903.5,738.5 904.0,737.6 904.5,739.8 905.0,740.5 905.5,739.5 906.0,739.9 906.5,740.5 907.0,739.7 907.5,739.1 908.0,738.5 908.5,738.5 909.0,739.7 909.5,739.2 910.0,737.7 910.5,738.5 911.0,738.8 911.5,738.2 912.0,739.2 912.5,739.4 913.0,738.2 913.5,738.2 914.0,738.7 914.5,739.0 915.0,739.2 915.5,739.2 916.0,738.6 916.5,739.1 917.0,739.2 917.5,738.4 918.0,738.7 918.5,739.5 919.0,739.1 919.5,738.5 920.0,738.6 920.5,738.5 921.0,738.4 921.5,738.2 922.0,739.3 922.5,738.1 923.0,738.4 923.5,739.8 924.0,738.8 924.5,738.7 925.0,738.5 925.5,738.5 926.0,738.8 926.5,738.5 927.0,738.8 927.5,738.9 928.0,738.4 928.5,738.7 929.0,739.3 929.5,738.7 930.0,738.7 930.5,738.4 931.0,738.6 931.5,739.0 932.0,739.0 932.5,738.4 933.0,737.8 933.5,737.5 934.0,737.6 934.5,737.5 935.0,737.8 935.5,738.5 936.0,738.8 936.5,738.9 937.0,738.5 937.5,737.8 938.0,738.2 938.5,737.6 939.0,737.1 939.5,737.7 940.0,737.2 940.5,737.2 941.0,736.3 941.5,737.5 942.0,737.6 942.5,737.8 943.0,737.4 943.5,737.2 944.0,737.2 944.5,737.2 945.0,737.7 945.5,736.3 946.0,736.4 946.5,736.9 947.0,736.5 947.5,736.7 948.0,737.0 948.5,736.8 949.0,736.6 949.5,736.4 950.0,735.9 950.5,736.4 951.0,737.1 951.5,736.9 952.0,736.3 952.5,736.5 953.0,736.8 953.5,736.3 954.0,737.1 954.5,737.3 955.0,735.7 955.5,735.8 956.0,736.5 956.5,736.5 957.0,736.1 957.5,736.1 958.0,736.5 958.5,736.2 959.0,735.6 959.5,735.9 960.0,736.2 960.5,735.8 961.0,736.8 961.5,737.6 962.0,737.6 962.5,737.7 963.0,736.6 963.5,737.0 964.0,737.0 964.5,735.8 965.0,736.4 965.5,735.7 966.0,736.5 966.5,737.0 967.0,736.7 967.5,737.0 968.0,736.5 968.5,736.1 969.0,737.1 969.5,737.8 970.0,737.9 970.5,736.6 971.0,736.5 971.5,737.0 972.0,736.7 972.5,737.0 973.0,737.4 973.5,737.0 974.0,736.8 974.5,736.5 975.0,737.7 975.5,737.8 976.0,736.9 976.5,736.9 977.0,737.9 977.5,737.6 978.0,737.3 978.5,737.3 979.0,737.4 979.5,737.6 980.0,736.9 980.5,737.0 981.0,737.5 981.5,736.8 982.0,736.5 982.5,736.9 983.0,736.6 983.5,737.1 984.0,737.4 984.5,737.1 985.0,736.6 985.5,736.6 986.0,737.0 986.5,737.2 987.0,737.7 987.5,737.4 988.0,739.0 988.5,738.2 989.0,736.9 989.5,738.4 990.0,738.1 990.5,737.8 991.0,737.9 991.5,738.4 992.0,738.6 992.5,738.8 993.0,738.6 993.5,738.6 994.0,738.9 994.5,738.9 995.0,738.9 995.5,738.8 996.0,738.8 996.5,737.6 997.0,737.2 997.5,737.1 998.0,738.0 998.5,738.5 999.0,738.2 999.5,738.8 1000.0,739.4 1000.5,739.7 1001.0,739.0 1001.5,738.3 1002.0,738.8 1002.5,739.3 1003.0,739.6 1003.5,739.4 1004.0,739.5 1004.5,739.8 1005.0,739.4 1005.5,739.4 1006.0,739.6 1006.5,739.2 1007.0,738.7 1007.5,738.3 1008.0,738.5 1008.5,739.1 1009.0,739.0 1009.5,738.3 1010.0,738.7 1010.5,740.3 1011.0,739.8 1011.5,739.0 1012.0,738.8 1012.5,739.3 1013.0,739.1 1013.5,739.7 1014.0,739.9 1014.5,740.1 1015.0,739.1 1015.5,739.3 1016.0,739.6 1016.5,739.8 1017.0,740.2 1017.5,739.1 1018.0,738.7 1018.5,739.0 1019.0,739.8 1019.5,740.2 1020.0,740.3 1020.5,740.5 1021.0,740.6 1021.5,740.1 1022.0,739.6 1022.5,740.2 1023.0,741.1 1023.5,741.0 1024.0,740.3 1024.5,740.4 1025.0,739.9 1025.5,739.7 1026.0,740.4 1026.5,740.2 1027.0,739.0 1027.5,739.7 1028.0,740.4 1028.5,739.4 1029.0,739.8 1029.5,739.9 1030.0,739.4 1030.5,739.9 1031.0,740.6 1031.5,739.4 1032.0,739.9 1032.5,738.9 1033.0,740.5 1033.5,741.0 1034.0,740.8 1034.5,739.6 1035.0,740.0 1035.5,741.0 1036.0,741.5 1036.5,741.8 1037.0,741.2 1037.5,741.0 1038.0,740.9 1038.5,741.1 1039.0,742.4 1039.5,741.8 1040.0,740.2 1040.5,740.0 1041.0,740.3 1041.5,741.0 1042.0,741.0 1042.5,740.1 1043.0,739.4 1043.5,741.1 1044.0,741.5 1044.5,740.8 1045.0,740.3 1045.5,740.5 1046.0,741.0 1046.5,740.2 1047.0,740.5 1047.5,741.2 1048.0,741.5 1048.5,741.2 1049.0,740.9 1049.5,741.3 1050.0,741.5 1050.5,740.7 1051.0,741.0 1051.5,741.2 1052.0,741.3 1052.5,741.1 1053.0,741.6 1053.5,740.5 1054.0,740.5 1054.5,741.1 1055.0,741.5 1055.5,741.5 1056.0,741.6 1056.5,741.7 1057.0,741.5 1057.5,741.9 1058.0,743.0 1058.5,742.9 1059.0,741.3 1059.5,741.6 1060.0,741.3 1060.5,741.4 1061.0,741.7 1061.5,742.1 1062.0,741.8 1062.5,741.2 1063.0,741.4 1063.5,741.5 1064.0,741.6 1064.5,741.0 1065.0,740.9 1065.5,741.1 1066.0,741.4 1066.5,741.3 1067.0,741.4 1067.5,741.7 1068.0,740.3 1068.5,741.4 1069.0,741.5 1069.5,742.4 1070.0,742.1 1070.5,741.5 1071.0,741.9 1071.5,742.1 1072.0,741.8 1072.5,740.7 1073.0,741.2 1073.5,742.3 1074.0,742.5 1074.5,742.6 1075.0,741.9 1075.5,742.3 1076.0,742.7 1076.5,742.4 1077.0,743.2 1077.5,743.3 1078.0,742.1 1078.5,741.5 1079.0,742.1 1079.5,742.4 1080.0,741.9 1080.5,741.0 1081.0,740.7 1081.5,741.1 1082.0,741.5 1082.5,742.2 1083.0,742.7 1083.5,741.7 1084.0,740.2 1084.5,741.5 1085.0,741.5 1085.5,742.0 1086.0,742.3 1086.5,741.6 1087.0,741.6 1087.5,741.7 1088.0,741.4 1088.5,741.6 1089.0,742.0 1089.5,743.3 1090.0,742.4 1090.5,742.2 1091.0,742.0 1091.5,742.2 1092.0,742.6 1092.5,741.3 1093.0,741.2 1093.5,742.6 1094.0,742.0 1094.5,741.6 1095.0,741.2 1095.5,742.2 1096.0,741.9 1096.5,742.0 1097.0,742.6 1097.5,742.8 1098.0,743.3 1098.5,742.7 1099.0,742.0 1099.5,741.9 1100.0,742.8 1100.5,743.3 1101.0,742.8 1101.5,742.5 1102.0,742.2 1102.5,740.8 1103.0,741.6 1103.5,741.7 1104.0,741.6 1104.5,741.9 1105.0,743.1 1105.5,742.5 1106.0,742.1 1106.5,742.9 1107.0,742.2 1107.5,742.3 1108.0,742.7 1108.5,742.9 1109.0,742.1 1109.5,742.1 1110.0,742.4 1110.5,742.9 1111.0,742.5 1111.5,742.2 1112.0,742.4 1112.5,742.9 1113.0,742.1 1113.5,740.1 1114.0,741.2 1114.5,742.0 1115.0,741.9 1115.5,742.1 1116.0,742.2 1116.5,741.5 1117.0,741.0 1117.5,741.4 1118.0,739.9 1118.5,741.1 1119.0,741.1 1119.5,741.8 1120.0,742.2 1120.5,741.6 1121.0,741.0 1121.5,741.3 1122.0,741.8 1122.5,741.3 1123.0,740.3 1123.5,739.9 1124.0,740.9 1124.5,740.5 1125.0,739.9 1125.5,740.5 1126.0,741.0 1126.5,740.7 1127.0,740.1 1127.5,740.4 1128.0,740.3 1128.5,740.8 1129.0,740.1 1129.5,740.6 1130.0,740.4 1130.5,740.6 1131.0,740.9 1131.5,740.8 1132.0,740.6 1132.5,740.0 1133.0,740.4 1133.5,739.7 1134.0,740.6 1134.5,741.4 1135.0,741.1 1135.5,740.6 1136.0,740.2 1136.5,741.2 1137.0,741.8 1137.5,741.5 1138.0,741.3 1138.5,740.6 1139.0,740.3 1139.5,739.6 1140.0,739.3 1140.5,739.3 1141.0,740.2 1141.5,740.3 1142.0,740.7 1142.5,741.2 1143.0,740.9 1143.5,740.2 1144.0,739.8 1144.5,740.5 1145.0,740.2 1145.5,740.3 1146.0,740.2 1146.5,740.8 1147.0,739.9 1147.5,739.7 1148.0,739.7 1148.5,740.0 1149.0,740.1 1149.5,739.2 1150.0,739.4 1150.5,739.2 1151.0,739.5 1151.5,739.7 1152.0,740.1 1152.5,739.4 1153.0,738.7 1153.5,739.4 1154.0,739.3 1154.5,738.7 1155.0,738.2 1155.5,738.7 1156.0,738.9 1156.5,738.0 1157.0,737.8 1157.5,738.5 1158.0,739.2 1158.5,739.1 1159.0,739.2 1159.5,739.3 1160.0,738.3 1160.5,738.7 1161.0,737.3 1161.5,739.0 1162.0,739.3 1162.5,739.1 1163.0,739.3 1163.5,738.1 1164.0,737.9 1164.5,738.1 1165.0,738.9 1165.5,738.8 1166.0,738.3 1166.5,738.5 1167.0,739.1 1167.5,739.0 1168.0,739.1 1168.5,739.5 1169.0,739.3 1169.5,738.6"/>
<g fill="#129912"><polygon points="198.7,783.9 199.4,783.3 200.0,782.6 200.6,781.7 201.0,780.8 201.1,780.2 201.5,779.8 202.3,779.5 203.7,779.5 204.5,779.8 204.9,780.2 205.0,780.8 205.4,781.7 206.0,782.6 206.6,783.3 207.3,783.9"/><polygon points="221.7,786.3 222.4,785.0 223.0,783.7 223.6,781.9 224.0,780.2 224.1,778.9 224.5,778.1 225.3,777.6 226.7,777.6 227.5,778.1 227.9,778.9 228.0,780.2 228.4,781.9 229.0,783.7 229.6,785.0 230.3,786.3"/></g><polyline fill="none" stroke="#129912" stroke-width="5.0" stroke-linejoin="round" points="91.5,777.4 92.0,776.6 92.5,777.7 93.0,777.8 93.5,777.8 94.0,778.7 94.5,777.2 95.0,777.4 95.5,778.0 96.0,778.8 96.5,779.6 97.0,777.5 97.5,776.9 98.0,777.2 98.5,777.0 99.0,777.6 99.5,777.6 100.0,777.7 100.5,777.7 101.0,776.5 101.5,775.1 102.0,774.2 102.5,775.4 103.0,777.0 103.5,777.9 104.0,776.9 104.5,776.0 105.0,775.9 105.5,775.7 106.0,773.5 106.5,775.9 107.0,777.2 107.5,776.7 108.0,777.7 108.5,778.1 109.0,777.0 109.5,778.0 110.0,777.8 110.5,779.1 111.0,778.3 111.5,777.0 112.0,776.6 112.5,777.6 113.0,779.1 113.5,778.9 114.0,780.2 114.5,781.0 115.0,780.5 115.5,781.1 116.0,779.9 116.5,780.2 117.0,781.5 117.5,780.2 118.0,780.8 118.5,782.8 119.0,783.3 119.5,783.5 120.0,782.1 120.5,781.3 121.0,782.1 121.5,780.6 122.0,783.0 122.5,783.8 123.0,784.4 123.5,783.1 124.0,783.3 124.5,785.0 125.0,784.6 125.5,782.5 126.0,782.0 126.5,783.1 127.0,782.6 127.5,782.8 128.0,783.2 128.5,784.0 129.0,785.4 129.5,784.9 130.0,783.7 130.5,784.1 131.0,783.5 131.5,784.1 132.0,785.5 132.5,785.6 133.0,784.1 133.5,783.5 134.0,787.5 134.5,787.9 135.0,787.3 135.5,787.6 136.0,786.6 136.5,786.6 137.0,787.3 137.5,786.5 138.0,785.4 138.5,784.8 139.0,783.9 139.5,785.1 140.0,784.9 140.5,783.0 141.0,785.3 141.5,785.0 142.0,785.1 142.5,786.2 143.0,785.5 143.5,784.8 144.0,785.6 144.5,784.5 145.0,782.9 145.5,780.1 146.0,782.0 146.5,782.9 147.0,784.1 147.5,784.7 148.0,784.9 148.5,784.3 149.0,783.1 149.5,781.9 150.0,781.9 150.5,782.8 151.0,782.7 151.5,780.8 152.0,781.9 152.5,782.6 153.0,781.6 153.5,780.8 154.0,782.0 154.5,782.6 155.0,783.1 155.5,782.6 156.0,782.0 156.5,781.6 157.0,783.1 157.5,784.6 158.0,784.3 158.5,783.7 159.0,783.1 159.5,784.6 160.0,785.7 160.5,785.5 161.0,786.9 161.5,785.8 162.0,784.2 162.5,785.7 163.0,786.8 163.5,786.0 164.0,785.7 164.5,786.1 165.0,785.9 165.5,786.6 166.0,787.0 166.5,786.1 167.0,786.1 167.5,787.7 168.0,786.6 168.5,785.7 169.0,785.2 169.5,783.8 170.0,783.7 170.5,785.2 171.0,786.1 171.5,784.5 172.0,785.2 172.5,786.8 173.0,785.8 173.5,785.0 174.0,785.1 174.5,784.6 175.0,786.2 175.5,786.6 176.0,785.0 176.5,785.1 177.0,784.8 177.5,784.5 178.0,785.2 178.5,784.1 179.0,784.1 179.5,784.4 180.0,785.5 180.5,785.2 181.0,784.0 181.5,784.8 182.0,784.6 182.5,784.0 183.0,785.2 183.5,785.5 184.0,784.7 184.5,785.2 185.0,784.7 185.5,783.2 186.0,782.3 186.5,782.7 187.0,784.4 187.5,784.0 188.0,784.9 188.5,786.0 189.0,785.4 189.5,783.9 190.0,783.5 190.5,784.5 191.0,782.9 191.5,782.6 192.0,783.7 192.5,782.5 193.0,782.9 193.5,785.1 194.0,785.0 194.5,782.9 195.0,782.1 195.5,783.3 196.0,782.8 196.5,782.4 197.0,781.3 197.5,783.0 198.0,784.2 198.5,783.1 199.0,782.7 199.5,783.9 200.0,783.1 200.5,781.8 201.0,782.1 201.5,782.9 202.0,781.1 202.5,781.1 203.0,781.6 203.5,781.9 204.0,782.4 204.5,782.7 205.0,784.3 205.5,785.8 206.0,785.0 206.5,784.1 207.0,786.9 207.5,785.8 208.0,785.0 208.5,785.1 209.0,787.1 209.5,784.8 210.0,785.6 210.5,787.0 211.0,787.9 211.5,788.0 212.0,787.7 212.5,787.2 213.0,786.6 213.5,787.3 214.0,788.3 214.5,787.3 215.0,785.0 215.5,786.4 216.0,788.5 216.5,787.2 217.0,785.6 217.5,786.2 218.0,787.7 218.5,788.0 219.0,787.8 219.5,784.1 220.0,785.0 220.5,784.5 221.0,784.9 221.5,786.7 222.0,787.2 222.5,784.3 223.0,785.6 223.5,785.9 224.0,786.8 224.5,786.0 225.0,785.1 225.5,784.9 226.0,784.2 226.5,784.4 227.0,785.4 227.5,785.6 228.0,785.4 228.5,784.4 229.0,785.0 229.5,786.5 230.0,786.4 230.5,787.2 231.0,785.6 231.5,783.8 232.0,785.6 232.5,786.9 233.0,787.5 233.5,786.7 234.0,786.3 234.5,788.1 235.0,788.6 235.5,787.9 236.0,787.7 236.5,787.1 237.0,786.7 237.5,787.6 238.0,789.5 238.5,790.7 239.0,790.0 239.5,789.8 240.0,790.3 240.5,790.7 241.0,790.3 241.5,790.0 242.0,791.3 242.5,790.7 243.0,790.4 243.5,791.6 244.0,792.0 244.5,792.3 245.0,792.6 245.5,793.0 246.0,793.6 246.5,793.3 247.0,794.0 247.5,793.5 248.0,792.1 248.5,792.6 249.0,792.1 249.5,791.0 250.0,790.6 250.5,792.2 251.0,792.8 251.5,790.2 252.0,793.3 252.5,794.6 253.0,793.7 253.5,793.0 254.0,793.1 254.5,793.3 255.0,793.4 255.5,793.8 256.0,793.6 256.5,793.9 257.0,793.6 257.5,793.3 258.0,793.5 258.5,794.2 259.0,795.2 259.5,795.6 260.0,794.2 260.5,795.0 261.0,795.0 261.5,795.2 262.0,795.4 262.5,795.5 263.0,796.4 263.5,796.6 264.0,796.2 264.5,796.8 265.0,797.5 265.5,796.4 266.0,794.9 266.5,794.5 267.0,794.6 267.5,795.5 268.0,796.8 268.5,796.7 269.0,796.9 269.5,797.2 270.0,797.8 270.5,798.7 271.0,797.6 271.5,797.5 272.0,798.7 272.5,797.6 273.0,797.3 273.5,797.9 274.0,797.2 274.5,797.8 275.0,798.1 275.5,798.2 276.0,798.7 276.5,798.5 277.0,799.5 277.5,799.7 278.0,798.7 278.5,798.7 279.0,799.6 279.5,800.1 280.0,799.3 280.5,799.6 281.0,800.3 281.5,799.6 282.0,800.6 282.5,801.6 283.0,801.5 283.5,801.3 284.0,799.9 284.5,800.0 285.0,801.4 285.5,801.1 286.0,801.8 286.5,802.0 287.0,802.0 287.5,802.6 288.0,801.2 288.5,800.0 289.0,800.2 289.5,800.5 290.0,801.1 290.5,800.7 291.0,799.7 291.5,801.2 292.0,801.8 292.5,800.8 293.0,801.7 293.5,801.5 294.0,797.8 294.5,799.1 295.0,799.9 295.5,800.1 296.0,799.3 296.5,798.9 297.0,799.3 297.5,801.0 298.0,801.0 298.5,800.6 299.0,799.9 299.5,798.2 300.0,798.7 300.5,797.7 301.0,800.8 301.5,800.8 302.0,799.5 302.5,798.5 303.0,798.7 303.5,800.5 304.0,800.9 304.5,799.4 305.0,799.1 305.5,800.1 306.0,799.9 306.5,799.1 307.0,799.1 307.5,798.9 308.0,800.2 308.5,800.3 309.0,799.4 309.5,800.6 310.0,800.5 310.5,799.7 311.0,798.9 311.5,800.1 312.0,800.2 312.5,800.0 313.0,800.1 313.5,800.5 314.0,801.9 314.5,800.1 315.0,801.3 315.5,801.6 316.0,799.5 316.5,800.3 317.0,801.3 317.5,801.4 318.0,801.7 318.5,802.5 319.0,803.4 319.5,803.2 320.0,803.0 320.5,804.5 321.0,804.4 321.5,803.4 322.0,803.3 322.5,803.7 323.0,803.6 323.5,803.2 324.0,804.4 324.5,804.3 325.0,805.2 325.5,805.2 326.0,804.6 326.5,804.9 327.0,805.0 327.5,803.8 328.0,804.0 328.5,805.4 329.0,805.3 329.5,804.5 330.0,805.6 330.5,806.4 331.0,806.7 331.5,807.4 332.0,806.4 332.5,808.1 333.0,807.9 333.5,808.5 334.0,807.9 334.5,807.9 335.0,808.9 335.5,807.5 336.0,806.5 336.5,807.8 337.0,808.1 337.5,809.4 338.0,807.9 338.5,807.2 339.0,808.0 339.5,807.7 340.0,808.4 340.5,808.5 341.0,808.8 341.5,809.4 342.0,807.4 342.5,808.5 343.0,810.1 343.5,808.7 344.0,809.3 344.5,809.6 345.0,811.1 345.5,811.5 346.0,811.4 346.5,810.8 347.0,810.1 347.5,811.1 348.0,811.5 348.5,811.0 349.0,809.7 349.5,810.4 350.0,812.1 350.5,812.2 351.0,810.1 351.5,810.3 352.0,811.1 352.5,811.6 353.0,812.7 353.5,813.0 354.0,812.4 354.5,812.6 355.0,812.0 355.5,813.1 356.0,814.1 356.5,813.1 357.0,813.0 357.5,812.1 358.0,812.9 358.5,812.1 359.0,811.7 359.5,811.9 360.0,813.2 360.5,814.0 361.0,814.4 361.5,814.9 362.0,813.4 362.5,815.0 363.0,814.1 363.5,814.0 364.0,815.3 364.5,815.4 365.0,815.2 365.5,814.9 366.0,813.2 366.5,814.3 367.0,814.4 367.5,815.9 368.0,816.9 368.5,816.1 369.0,815.1 369.5,815.2 370.0,815.5 370.5,816.0 371.0,816.4 371.5,817.3 372.0,816.0 372.5,814.7 373.0,814.6 373.5,816.3 374.0,817.0 374.5,818.1 375.0,817.5 375.5,817.1 376.0,817.7 376.5,817.5 377.0,817.8 377.5,818.4 378.0,818.4 378.5,817.5 379.0,817.8 379.5,818.6 380.0,817.6 380.5,817.6 381.0,818.4 381.5,818.1 382.0,818.2 382.5,819.2 383.0,818.2 383.5,817.4 384.0,817.2 384.5,817.1 385.0,818.7 385.5,817.8 386.0,818.1 386.5,819.4 387.0,817.5 387.5,818.7 388.0,818.8 388.5,818.9 389.0,817.4 389.5,819.5 390.0,820.1 390.5,819.2 391.0,819.6 391.5,821.2 392.0,821.3 392.5,820.9 393.0,819.2 393.5,818.7 394.0,819.5 394.5,818.3 395.0,818.9 395.5,819.3 396.0,820.6 396.5,819.6 397.0,818.8 397.5,819.0 398.0,819.4 398.5,820.6 399.0,818.6 399.5,818.7 400.0,821.7 400.5,820.4 401.0,819.5 401.5,822.4 402.0,822.0 402.5,821.5 403.0,820.7 403.5,820.8 404.0,820.8 404.5,820.6 405.0,821.7 405.5,821.6 406.0,820.9 406.5,821.4 407.0,822.2 407.5,822.4 408.0,821.9 408.5,822.1 409.0,823.1 409.5,822.4 410.0,821.9 410.5,821.1 411.0,820.6 411.5,820.9 412.0,820.9 412.5,821.2 413.0,819.9 413.5,820.6 414.0,821.4 414.5,821.9 415.0,823.2 415.5,822.9 416.0,822.1 416.5,821.9 417.0,821.2 417.5,821.3 418.0,822.7 418.5,823.2 419.0,821.4 419.5,823.1 420.0,824.0 420.5,822.8 421.0,822.8 421.5,822.8 422.0,822.3 422.5,821.3 423.0,824.0 423.5,823.5 424.0,823.4 424.5,822.1 425.0,822.7 425.5,823.0 426.0,823.1 426.5,822.4 427.0,822.3 427.5,822.3 428.0,821.7 428.5,822.4 429.0,822.9 429.5,821.3 430.0,822.7 430.5,822.8 431.0,821.2 431.5,822.2 432.0,822.9 432.5,822.6 433.0,822.9 433.5,822.2 434.0,822.5 434.5,823.0 435.0,823.0 435.5,822.3 436.0,822.3 436.5,823.2 437.0,824.0 437.5,823.9 438.0,823.0 438.5,822.1 439.0,822.0 439.5,822.2 440.0,822.5 440.5,822.6 441.0,822.1 441.5,822.4 442.0,822.5 442.5,822.3 443.0,822.3 443.5,822.7 444.0,823.2 444.5,822.7 445.0,822.9 445.5,823.3 446.0,820.8 446.5,821.7 447.0,821.9 447.5,821.5 448.0,821.7 448.5,820.2 449.0,820.7 449.5,821.4 450.0,822.0 450.5,822.2 451.0,822.1 451.5,821.6 452.0,821.6 452.5,820.5 453.0,821.5 453.5,821.8 454.0,821.8 454.5,821.3 455.0,821.0 455.5,821.5 456.0,821.8 456.5,821.5 457.0,821.6 457.5,821.1 458.0,821.0 458.5,821.4 459.0,821.2 459.5,820.3 460.0,820.9 460.5,822.2 461.0,822.1 461.5,822.7 462.0,821.9 462.5,821.9 463.0,822.2 463.5,821.7 464.0,822.5 464.5,820.5 465.0,820.0 465.5,821.8 466.0,821.9 466.5,821.5 467.0,822.0 467.5,822.7 468.0,820.2 468.5,820.8 469.0,821.4 469.5,821.4 470.0,821.1 470.5,820.7 471.0,820.7 471.5,820.5 472.0,820.5 472.5,821.1 473.0,820.6 473.5,821.5 474.0,822.3 474.5,821.4 475.0,820.5 475.5,821.2 476.0,820.7 476.5,820.0 477.0,820.4 477.5,820.5 478.0,820.7 478.5,820.6 479.0,819.9 479.5,820.0 480.0,820.7 480.5,820.3 481.0,820.9 481.5,820.8 482.0,820.0 482.5,821.1 483.0,820.9 483.5,818.8 484.0,819.1 484.5,819.0 485.0,819.4 485.5,818.3 486.0,819.0 486.5,819.3 487.0,819.9 487.5,819.7 488.0,819.3 488.5,818.1 489.0,818.5 489.5,818.1 490.0,819.0 490.5,818.6 491.0,820.1 491.5,819.3 492.0,819.3 492.5,819.3 493.0,819.2 493.5,819.2 494.0,818.8 494.5,818.0 495.0,817.3 495.5,817.3 496.0,817.6 496.5,817.7 497.0,816.8 497.5,815.6 498.0,815.1 498.5,816.2 499.0,816.9 499.5,814.4 500.0,815.2 500.5,815.9 501.0,816.1 501.5,815.2 502.0,814.4 502.5,814.5 503.0,814.5 503.5,813.6 504.0,814.2 504.5,814.6 505.0,814.0 505.5,812.9 506.0,812.1 506.5,812.1 507.0,812.0 507.5,811.9 508.0,811.4 508.5,810.6 509.0,810.7 509.5,810.0 510.0,809.1 510.5,809.2 511.0,809.0 511.5,808.1 512.0,807.6 512.5,807.1 513.0,806.2 513.5,805.9 514.0,806.2 514.5,805.0 515.0,803.0 515.5,802.0 516.0,801.1 516.5,801.2 517.0,800.8 517.5,799.9 518.0,799.2 518.5,799.0 519.0,798.8 519.5,799.0 520.0,798.5 520.5,797.0 521.0,795.8 521.5,795.3 522.0,795.2 522.5,793.9 523.0,792.8 523.5,792.3 524.0,789.9 524.5,789.7 525.0,790.2 525.5,787.7 526.0,785.7 526.5,785.2 527.0,783.2 527.5,783.8 528.0,782.7 528.5,781.9 529.0,780.7 529.5,779.2 530.0,778.7 530.5,777.4 531.0,776.5 531.5,775.7 532.0,774.2 532.5,771.9 533.0,769.5 533.5,769.3 534.0,769.9 534.5,769.0 535.0,766.8 535.5,766.0 536.0,765.5 536.5,765.9 537.0,764.8 537.5,763.0 538.0,763.1 538.5,761.9 539.0,760.4 539.5,759.7 540.0,758.6 540.5,759.9 541.0,760.3 541.5,759.6 542.0,759.6 542.5,758.2 543.0,757.5 543.5,757.8 544.0,757.5 544.5,757.7 545.0,756.9 545.5,757.7 546.0,758.2 546.5,759.3 547.0,758.5 547.5,759.6 548.0,759.2 548.5,758.8 549.0,759.8 549.5,759.1 550.0,761.3 550.5,762.2 551.0,763.1 551.5,764.4 552.0,765.5 552.5,766.8 553.0,767.6 553.5,768.1 554.0,768.6 554.5,769.0 555.0,770.0 555.5,771.6 556.0,770.9 556.5,772.7 557.0,772.7 557.5,774.4 558.0,775.3 558.5,776.3 559.0,778.3 559.5,779.4 560.0,779.0 560.5,780.0 561.0,781.4 561.5,782.4 562.0,782.1 562.5,784.1 563.0,784.6 563.5,785.3 564.0,786.0 564.5,786.9 565.0,788.4 565.5,788.4 566.0,788.5 566.5,790.1 567.0,790.4 567.5,790.6 568.0,791.9 568.5,792.9 569.0,793.7 569.5,794.7 570.0,795.7 570.5,796.0 571.0,796.5 571.5,797.5 572.0,797.5 572.5,797.8 573.0,799.1 573.5,799.9 574.0,800.3 574.5,800.4 575.0,800.5 575.5,801.3 576.0,800.9 576.5,800.5 577.0,801.6 577.5,802.9 578.0,803.6 578.5,804.2 579.0,804.3 579.5,803.7 580.0,804.1 580.5,803.8 581.0,804.6 581.5,804.0 582.0,804.5 582.5,805.8 583.0,806.4 583.5,807.0 584.0,807.3 584.5,806.9 585.0,807.2 585.5,807.8 586.0,808.4 586.5,808.9 587.0,808.9 587.5,808.2 588.0,807.0 588.5,809.0 589.0,809.5 589.5,808.8 590.0,809.6 590.5,809.4 591.0,809.5 591.5,809.4 592.0,809.7 592.5,810.8 593.0,810.9 593.5,810.4 594.0,809.9 594.5,810.2 595.0,811.1 595.5,811.6 596.0,812.0 596.5,812.1 597.0,811.6 597.5,811.4 598.0,812.4 598.5,812.2 599.0,812.6 599.5,812.5 600.0,812.3 600.5,812.9 601.0,813.2 601.5,812.6 602.0,812.5 602.5,813.9 603.0,813.0 603.5,812.6 604.0,812.6 604.5,812.5 605.0,813.3 605.5,812.5 606.0,812.7 606.5,813.2 607.0,812.6 607.5,813.0 608.0,813.4 608.5,813.1 609.0,813.0 609.5,813.2 610.0,812.5 610.5,812.3 611.0,812.8 611.5,812.7 612.0,812.9 612.5,812.8 613.0,811.8 613.5,812.4 614.0,813.3 614.5,813.1 615.0,812.1 615.5,813.8 616.0,814.1 616.5,812.7 617.0,812.7 617.5,813.4 618.0,812.6 618.5,812.7 619.0,812.4 619.5,811.9 620.0,813.1 620.5,813.8 621.0,812.4 621.5,813.6 622.0,813.1 622.5,812.9 623.0,813.6 623.5,812.8 624.0,812.7 624.5,813.7 625.0,814.1 625.5,814.2 626.0,814.1 626.5,814.1 627.0,813.3 627.5,812.6 628.0,812.8 628.5,812.8 629.0,813.5 629.5,813.8 630.0,815.3 630.5,814.8 631.0,814.8 631.5,814.7 632.0,814.5 632.5,815.0 633.0,814.4 633.5,813.7 634.0,814.3 634.5,815.6 635.0,815.6 635.5,815.0 636.0,815.4 636.5,814.9 637.0,813.5 637.5,813.3 638.0,813.8 638.5,814.9 639.0,815.2 639.5,812.9 640.0,814.3 640.5,814.3 641.0,814.5 641.5,814.8 642.0,815.5 642.5,815.8 643.0,815.0 643.5,815.5 644.0,816.6 644.5,816.3 645.0,816.4 645.5,816.5 646.0,817.5 646.5,818.4 647.0,817.9 647.5,817.3 648.0,816.6 648.5,818.5 649.0,818.4 649.5,818.2 650.0,819.1 650.5,819.3 651.0,819.0 651.5,819.7 652.0,819.1 652.5,818.8 653.0,819.8 653.5,819.0 654.0,819.1 654.5,819.5 655.0,821.2 655.5,820.1 656.0,820.0 656.5,820.6 657.0,820.6 657.5,821.2 658.0,820.9 658.5,820.5 659.0,821.3 659.5,822.0 660.0,822.4 660.5,821.8 661.0,823.4 661.5,823.5 662.0,823.0 662.5,822.8 663.0,822.6 663.5,823.0 664.0,824.6 664.5,825.1 665.0,824.0 665.5,824.4 666.0,825.1 666.5,824.2 667.0,824.5 667.5,824.8 668.0,824.5 668.5,824.7 669.0,825.0 669.5,824.7 670.0,825.2 670.5,826.8 671.0,826.5 671.5,826.0 672.0,826.4 672.5,826.4 673.0,826.3 673.5,826.9 674.0,827.6 674.5,827.3 675.0,827.2 675.5,827.6 676.0,827.1 676.5,826.8 677.0,826.2 677.5,825.7 678.0,826.6 678.5,826.3 679.0,827.7 679.5,828.2 680.0,827.5 680.5,827.2 681.0,827.0 681.5,827.0 682.0,827.5 682.5,827.8 683.0,828.1 683.5,827.4 684.0,828.0 684.5,828.1 685.0,828.9 685.5,829.2 686.0,827.3 686.5,827.7 687.0,827.0 687.5,827.7 688.0,828.6 688.5,828.9 689.0,829.0 689.5,828.6 690.0,828.1 690.5,829.0 691.0,830.2 691.5,830.5 692.0,829.8 692.5,829.6 693.0,830.6 693.5,829.9 694.0,829.2 694.5,829.2 695.0,829.2 695.5,829.5 696.0,829.6 696.5,829.0 697.0,830.5 697.5,829.8 698.0,829.8 698.5,830.0 699.0,829.3 699.5,830.0 700.0,830.8 700.5,831.3 701.0,831.4 701.5,831.4 702.0,830.5 702.5,830.4 703.0,830.7 703.5,830.2 704.0,830.6 704.5,830.3 705.0,830.2 705.5,831.8 706.0,832.2 706.5,829.9 707.0,830.5 707.5,832.1 708.0,831.1 708.5,831.3 709.0,831.8 709.5,831.3 710.0,831.9 710.5,832.5 711.0,832.5 711.5,832.5 712.0,832.1 712.5,832.0 713.0,831.6 713.5,831.0 714.0,831.6 714.5,831.7 715.0,831.6 715.5,831.7 716.0,831.4 716.5,832.0 717.0,832.1 717.5,831.5 718.0,831.9 718.5,832.8 719.0,833.3 719.5,832.5 720.0,831.7 720.5,831.9 721.0,831.9 721.5,832.1 722.0,832.9 722.5,832.7 723.0,831.6 723.5,831.2 724.0,831.3 724.5,830.3 725.0,832.6 725.5,831.4 726.0,832.0 726.5,832.9 727.0,833.7 727.5,833.0 728.0,832.0 728.5,832.8 729.0,833.0 729.5,833.2 730.0,833.3 730.5,833.4 731.0,833.2 731.5,832.9 732.0,832.3 732.5,833.2 733.0,833.4 733.5,832.7 734.0,833.3 734.5,832.8 735.0,832.0 735.5,832.3 736.0,832.2 736.5,832.6 737.0,834.1 737.5,834.3 738.0,832.6 738.5,832.3 739.0,833.5 739.5,833.2 740.0,833.6 740.5,833.5 741.0,833.4 741.5,833.3 742.0,832.7 742.5,833.2 743.0,834.0 743.5,833.5 744.0,833.7 744.5,832.8 745.0,832.8 745.5,832.6 746.0,832.8 746.5,833.4 747.0,834.1 747.5,834.0 748.0,834.5 748.5,834.4 749.0,834.3 749.5,834.8 750.0,833.8 750.5,833.9 751.0,834.6 751.5,835.1 752.0,835.1 752.5,835.1 753.0,835.5 753.5,834.3 754.0,834.4 754.5,835.2 755.0,834.8 755.5,834.5 756.0,834.2 756.5,835.0 757.0,834.8 757.5,835.2 758.0,834.7 758.5,834.2 759.0,834.5 759.5,834.7 760.0,834.1 760.5,834.3 761.0,835.0 761.5,834.9 762.0,834.0 762.5,834.3 763.0,835.0 763.5,834.1 764.0,835.3 764.5,834.6 765.0,834.5 765.5,834.6 766.0,835.3 766.5,834.7 767.0,832.4 767.5,832.6 768.0,834.1 768.5,833.5 769.0,833.2 769.5,833.5 770.0,833.5 770.5,834.5 771.0,835.1 771.5,835.2 772.0,834.7 772.5,834.7 773.0,835.2 773.5,835.5 774.0,834.1 774.5,833.8 775.0,834.9 775.5,835.3 776.0,834.1 776.5,834.2 777.0,833.6 777.5,833.9 778.0,835.0 778.5,834.4 779.0,834.1 779.5,834.3 780.0,834.7 780.5,834.8 781.0,834.6 781.5,834.9 782.0,834.9 782.5,835.0 783.0,835.8 783.5,835.7 784.0,834.6 784.5,835.0 785.0,835.9 785.5,835.7 786.0,835.0 786.5,834.6 787.0,834.8 787.5,835.3 788.0,835.8 788.5,835.9 789.0,835.2 789.5,834.6 790.0,835.7 790.5,835.7 791.0,835.2 791.5,834.7 792.0,835.0 792.5,835.5 793.0,835.4 793.5,834.8 794.0,833.2 794.5,835.0 795.0,834.2 795.5,834.7 796.0,834.5 796.5,835.0 797.0,835.3 797.5,835.0 798.0,836.3 798.5,836.6 799.0,836.1 799.5,835.1 800.0,834.4 800.5,836.6 801.0,836.6 801.5,836.3 802.0,835.2 802.5,834.7 803.0,835.5 803.5,836.0 804.0,835.7 804.5,836.3 805.0,836.3 805.5,835.7 806.0,835.4 806.5,834.7 807.0,834.4 807.5,835.6 808.0,835.1 808.5,834.9 809.0,836.1 809.5,835.9 810.0,834.6 810.5,835.5 811.0,836.0 811.5,836.1 812.0,834.3 812.5,834.5 813.0,835.1 813.5,835.5 814.0,836.0 814.5,835.3 815.0,835.8 815.5,835.9 816.0,834.9 816.5,835.6 817.0,836.8 817.5,835.5 818.0,836.2 818.5,837.0 819.0,836.2 819.5,834.4 820.0,834.6 820.5,835.7 821.0,835.8 821.5,836.0 822.0,835.6 822.5,835.1 823.0,834.9 823.5,835.1 824.0,835.2 824.5,835.8 825.0,836.5 825.5,836.0 826.0,836.1 826.5,836.2 827.0,835.5 827.5,835.2 828.0,836.1 828.5,835.3 829.0,835.5 829.5,836.4 830.0,835.5 830.5,834.8 831.0,834.6 831.5,834.8 832.0,836.8 832.5,837.1 833.0,836.1 833.5,836.2 834.0,835.9 834.5,835.8 835.0,836.0 835.5,835.6 836.0,835.9 836.5,836.0 837.0,835.6 837.5,835.4 838.0,835.3 838.5,835.8 839.0,835.9 839.5,836.4 840.0,835.8 840.5,836.2 841.0,836.1 841.5,836.3 842.0,836.1 842.5,835.2 843.0,835.4 843.5,835.7 844.0,835.5 844.5,836.4 845.0,836.7 845.5,836.3 846.0,835.9 846.5,835.5 847.0,835.0 847.5,836.9 848.0,836.9 848.5,836.4 849.0,835.9 849.5,835.7 850.0,836.4 850.5,837.0 851.0,837.2 851.5,836.1 852.0,836.2 852.5,837.1 853.0,837.0 853.5,836.4 854.0,836.8 854.5,836.6 855.0,835.0 855.5,836.6 856.0,836.8 856.5,836.9 857.0,836.5 857.5,837.1 858.0,836.7 858.5,835.8 859.0,836.6 859.5,837.3 860.0,837.6 860.5,836.4 861.0,836.3 861.5,837.6 862.0,837.0 862.5,837.7 863.0,837.1 863.5,835.6 864.0,836.0 864.5,834.5 865.0,836.9 865.5,837.2 866.0,837.0 866.5,837.1 867.0,837.0 867.5,837.2 868.0,836.7 868.5,837.5 869.0,836.7 869.5,836.6 870.0,836.2 870.5,835.5 871.0,835.0 871.5,835.5 872.0,836.6 872.5,836.2 873.0,836.5 873.5,836.8 874.0,835.2 874.5,836.6 875.0,837.0 875.5,837.0 876.0,837.2 876.5,837.0 877.0,836.7 877.5,836.4 878.0,835.6 878.5,835.5 879.0,835.8 879.5,835.5 880.0,835.4 880.5,836.0 881.0,835.7 881.5,835.6 882.0,836.2 882.5,836.3 883.0,836.7 883.5,835.3 884.0,836.5 884.5,836.6 885.0,836.3 885.5,836.4 886.0,836.5 886.5,836.4 887.0,835.5 887.5,835.0 888.0,834.9 888.5,835.6 889.0,835.8 889.5,835.5 890.0,835.4 890.5,835.3 891.0,835.6 891.5,835.7 892.0,835.2 892.5,835.6 893.0,835.9 893.5,835.4 894.0,835.5 894.5,835.4 895.0,835.1 895.5,835.0 896.0,835.7 896.5,835.6 897.0,835.3 897.5,835.1 898.0,834.4 898.5,835.3 899.0,835.7 899.5,835.4 900.0,835.3 900.5,835.0 901.0,835.2 901.5,835.3 902.0,835.4 902.5,835.6 903.0,834.1 903.5,833.9 904.0,833.8 904.5,835.8 905.0,835.0 905.5,834.9 906.0,834.6 906.5,833.6 907.0,834.4 907.5,834.8 908.0,833.8 908.5,833.6 909.0,833.6 909.5,835.7 910.0,835.2 910.5,835.2 911.0,834.8 911.5,833.3 912.0,833.2 912.5,834.6 913.0,834.6 913.5,833.8 914.0,834.0 914.5,834.0 915.0,833.8 915.5,833.5 916.0,833.7 916.5,832.8 917.0,833.3 917.5,834.4 918.0,834.6 918.5,834.5 919.0,833.9 919.5,833.1 920.0,833.7 920.5,834.0 921.0,834.3 921.5,834.0 922.0,833.8 922.5,833.6 923.0,833.6 923.5,833.9 924.0,833.7 924.5,833.8 925.0,833.6 925.5,833.1 926.0,832.7 926.5,832.5 927.0,832.9 927.5,832.4 928.0,832.4 928.5,831.8 929.0,833.2 929.5,832.9 930.0,832.5 930.5,832.4 931.0,832.0 931.5,832.6 932.0,833.4 932.5,833.4 933.0,832.6 933.5,831.8 934.0,831.8 934.5,831.9 935.0,832.0 935.5,832.6 936.0,832.7 936.5,830.3 937.0,830.8 937.5,831.1 938.0,831.4 938.5,831.4 939.0,831.3 939.5,831.4 940.0,831.7 940.5,831.2 941.0,830.3 941.5,830.4 942.0,830.8 942.5,830.8 943.0,830.1 943.5,830.3 944.0,830.8 944.5,830.7 945.0,830.0 945.5,830.1 946.0,830.4 946.5,829.2 947.0,829.9 947.5,829.2 948.0,828.8 948.5,829.5 949.0,829.6 949.5,829.5 950.0,829.2 950.5,828.6 951.0,829.0 951.5,828.5 952.0,828.8 952.5,829.4 953.0,829.5 953.5,829.3 954.0,828.2 954.5,827.7 955.0,827.0 955.5,827.5 956.0,828.1 956.5,827.4 957.0,827.4 957.5,827.7 958.0,827.2 958.5,827.5 959.0,828.4 959.5,828.2 960.0,826.6 960.5,828.0 961.0,828.1 961.5,828.4 962.0,828.6 962.5,828.5 963.0,828.1 963.5,828.0 964.0,828.1 964.5,828.9 965.0,829.2 965.5,828.6 966.0,828.9 966.5,828.7 967.0,828.4 967.5,828.8 968.0,829.5 968.5,829.6 969.0,829.3 969.5,828.9 970.0,829.0 970.5,829.5 971.0,830.2 971.5,829.2 972.0,829.4 972.5,829.1 973.0,829.4 973.5,829.7 974.0,830.4 974.5,830.6 975.0,830.4 975.5,830.0 976.0,829.2 976.5,830.5 977.0,831.3 977.5,831.2 978.0,830.8 978.5,830.3 979.0,830.5 979.5,831.4 980.0,831.5 980.5,830.0 981.0,831.2 981.5,830.5 982.0,830.8 982.5,831.0 983.0,830.7 983.5,830.8 984.0,830.6 984.5,830.4 985.0,830.9 985.5,831.2 986.0,831.3 986.5,830.8 987.0,831.2 987.5,830.9 988.0,832.6 988.5,832.8 989.0,832.6 989.5,832.7 990.0,832.4 990.5,832.3 991.0,831.8 991.5,831.4 992.0,831.4 992.5,831.7 993.0,833.1 993.5,832.6 994.0,832.4 994.5,832.6 995.0,833.4 995.5,833.2 996.0,833.2 996.5,832.9 997.0,832.8 997.5,832.3 998.0,832.9 998.5,834.1 999.0,833.7 999.5,834.1 1000.0,834.6 1000.5,834.0 1001.0,834.2 1001.5,835.2 1002.0,835.7 1002.5,834.7 1003.0,834.4 1003.5,834.9 1004.0,835.3 1004.5,836.0 1005.0,833.9 1005.5,834.5 1006.0,835.1 1006.5,834.9 1007.0,836.0 1007.5,836.5 1008.0,835.7 1008.5,835.8 1009.0,835.9 1009.5,835.3 1010.0,834.3 1010.5,834.7 1011.0,834.6 1011.5,834.9 1012.0,834.9 1012.5,834.3 1013.0,833.9 1013.5,834.9 1014.0,835.5 1014.5,835.3 1015.0,835.5 1015.5,836.3 1016.0,836.8 1016.5,836.3 1017.0,835.6 1017.5,836.1 1018.0,836.8 1018.5,836.8 1019.0,834.3 1019.5,834.7 1020.0,835.0 1020.5,835.2 1021.0,834.7 1021.5,834.0 1022.0,834.5 1022.5,835.1 1023.0,835.2 1023.5,834.9 1024.0,834.9 1024.5,835.3 1025.0,835.7 1025.5,835.7 1026.0,836.1 1026.5,836.3 1027.0,836.3 1027.5,836.4 1028.0,835.9 1028.5,835.5 1029.0,835.9 1029.5,835.9 1030.0,835.7 1030.5,835.4 1031.0,836.1 1031.5,835.4 1032.0,835.6 1032.5,835.3 1033.0,835.4 1033.5,835.7 1034.0,835.3 1034.5,835.2 1035.0,835.9 1035.5,837.0 1036.0,836.7 1036.5,836.4 1037.0,836.5 1037.5,836.7 1038.0,837.3 1038.5,837.3 1039.0,837.4 1039.5,837.0 1040.0,836.6 1040.5,836.6 1041.0,837.4 1041.5,836.7 1042.0,836.2 1042.5,836.1 1043.0,836.1 1043.5,836.4 1044.0,835.9 1044.5,835.5 1045.0,835.9 1045.5,836.0 1046.0,836.4 1046.5,836.8 1047.0,836.2 1047.5,835.8 1048.0,837.1 1048.5,836.7 1049.0,837.0 1049.5,837.6 1050.0,837.6 1050.5,838.2 1051.0,837.9 1051.5,837.2 1052.0,836.7 1052.5,836.7 1053.0,836.8 1053.5,836.3 1054.0,836.5 1054.5,836.8 1055.0,836.7 1055.5,836.6 1056.0,836.5 1056.5,835.9 1057.0,836.6 1057.5,837.1 1058.0,836.6 1058.5,836.3 1059.0,836.0 1059.5,836.9 1060.0,837.2 1060.5,836.9 1061.0,837.0 1061.5,837.6 1062.0,837.6 1062.5,837.0 1063.0,837.6 1063.5,837.9 1064.0,838.0 1064.5,838.0 1065.0,836.6 1065.5,836.1 1066.0,836.3 1066.5,836.9 1067.0,836.7 1067.5,837.1 1068.0,837.4 1068.5,837.0 1069.0,837.6 1069.5,837.0 1070.0,836.4 1070.5,837.0 1071.0,837.8 1071.5,837.5 1072.0,837.7 1072.5,837.8 1073.0,837.9 1073.5,837.8 1074.0,837.4 1074.5,837.8 1075.0,838.1 1075.5,837.4 1076.0,837.5 1076.5,838.0 1077.0,838.5 1077.5,837.2 1078.0,837.3 1078.5,838.2 1079.0,837.9 1079.5,838.1 1080.0,837.9 1080.5,837.0 1081.0,837.6 1081.5,837.6 1082.0,836.7 1082.5,837.2 1083.0,838.5 1083.5,838.6 1084.0,838.5 1084.5,837.8 1085.0,837.3 1085.5,837.6 1086.0,838.0 1086.5,837.9 1087.0,838.0 1087.5,838.6 1088.0,838.7 1088.5,838.8 1089.0,838.0 1089.5,838.1 1090.0,837.9 1090.5,838.3 1091.0,838.3 1091.5,838.3 1092.0,838.1 1092.5,838.1 1093.0,839.0 1093.5,838.9 1094.0,838.6 1094.5,838.3 1095.0,838.2 1095.5,838.3 1096.0,838.9 1096.5,839.5 1097.0,839.5 1097.5,839.1 1098.0,839.0 1098.5,839.1 1099.0,837.3 1099.5,837.7 1100.0,837.8 1100.5,838.0 1101.0,838.1 1101.5,838.2 1102.0,837.9 1102.5,837.9 1103.0,837.9 1103.5,838.4 1104.0,837.8 1104.5,837.6 1105.0,837.9 1105.5,838.1 1106.0,837.0 1106.5,837.2 1107.0,838.0 1107.5,837.5 1108.0,837.1 1108.5,837.3 1109.0,838.2 1109.5,837.6 1110.0,837.2 1110.5,837.5 1111.0,837.4 1111.5,837.3 1112.0,837.9 1112.5,837.4 1113.0,836.8 1113.5,836.6 1114.0,836.3 1114.5,835.4 1115.0,836.2 1115.5,836.3 1116.0,837.1 1116.5,837.2 1117.0,837.6 1117.5,836.3 1118.0,836.5 1118.5,836.9 1119.0,837.5 1119.5,837.5 1120.0,836.7 1120.5,836.6 1121.0,836.7 1121.5,836.2 1122.0,836.3 1122.5,836.8 1123.0,836.3 1123.5,835.6 1124.0,835.1 1124.5,835.7 1125.0,836.2 1125.5,835.8 1126.0,835.5 1126.5,835.3 1127.0,835.9 1127.5,835.7 1128.0,835.6 1128.5,835.4 1129.0,835.9 1129.5,835.7 1130.0,835.0 1130.5,835.8 1131.0,836.3 1131.5,835.4 1132.0,834.9 1132.5,834.8 1133.0,833.7 1133.5,833.7 1134.0,834.4 1134.5,834.0 1135.0,833.4 1135.5,833.2 1136.0,833.5 1136.5,834.5 1137.0,834.8 1137.5,834.1 1138.0,834.0 1138.5,834.7 1139.0,834.6 1139.5,834.8 1140.0,834.5 1140.5,834.1 1141.0,833.5 1141.5,833.1 1142.0,832.8 1142.5,832.7 1143.0,834.1 1143.5,834.2 1144.0,834.1 1144.5,833.9 1145.0,833.2 1145.5,832.1 1146.0,831.7 1146.5,832.7 1147.0,832.2 1147.5,832.2 1148.0,831.3 1148.5,831.5 1149.0,832.1 1149.5,832.2 1150.0,831.8 1150.5,830.5 1151.0,831.6 1151.5,832.3 1152.0,832.5 1152.5,831.7 1153.0,831.6 1153.5,832.5 1154.0,831.5 1154.5,832.4 1155.0,832.0 1155.5,831.3 1156.0,832.2 1156.5,831.9 1157.0,830.9 1157.5,831.0 1158.0,831.2 1158.5,831.2 1159.0,831.6 1159.5,832.0 1160.0,831.8 1160.5,830.9 1161.0,831.3 1161.5,830.5 1162.0,830.3 1162.5,830.4 1163.0,829.2 1163.5,831.0 1164.0,831.3 1164.5,830.4 1165.0,830.1 1165.5,830.4 1166.0,830.6 1166.5,830.3 1167.0,829.5 1167.5,829.6 1168.0,829.2 1168.5,828.8 1169.0,829.3 1169.5,829.1"/>
<polygon points="364.2,448 364.6,422 366.4,422 366.8,448" fill="#5a1898" opacity="0.85"/>
<rect x="264.5" y="116" width="201.0" height="52.5" fill="#fff" stroke="#3a3a3a" stroke-width="2"/>
<text x="275.5" y="148.4" style="font-family:'Liberation Sans',sans-serif;font-size:32px">100 Cu<tspan dy="12" style="font-size:18px">3</tspan><tspan dy="-12">B</tspan><tspan dy="12" style="font-size:18px">2</tspan><tspan dy="-12">O</tspan><tspan dy="12" style="font-size:18px">6</tspan></text>
<line x1="365" y1="169" x2="365.00" y2="187.40" stroke="#000" stroke-width="2"/>
<polygon points="365.00,207.40 357.70,187.40 372.30,187.40" fill="#000"/>
<rect x="387.5" y="348.5" width="145.0" height="43.0" fill="#fff" stroke="#3a3a3a" stroke-width="2"/>
<text x="397.2" y="381.6" style="font-family:'Liberation Sans',sans-serif;font-size:33px">111 CuO</text>
<line x1="460.8" y1="392" x2="472.07" y2="480.36" stroke="#000" stroke-width="2"/>
<polygon points="474.60,500.20 464.83,481.28 479.31,479.44" fill="#000"/>
<rect x="486.5" y="279.5" width="122.5" height="45.5" fill="#fff" stroke="#3a3a3a" stroke-width="2"/>
<text x="497.8" y="314" style="font-family:'Liberation Sans',sans-serif;font-size:33px">111 Cu</text>
<line x1="549.7" y1="325.5" x2="549.52" y2="467.30" stroke="#000" stroke-width="2"/>
<polygon points="549.50,487.30 542.22,467.29 556.82,467.31" fill="#000"/>
<rect x="598" y="346.5" width="145.5" height="44.0" fill="#fff" stroke="#3a3a3a" stroke-width="2"/>
<text x="606.8" y="380.2" style="font-family:'Liberation Sans',sans-serif;font-size:32px">202 CuO</text>
<line x1="608.5" y1="385" x2="626" y2="385" stroke="#000" stroke-width="1.8"/>
<line x1="670.3" y1="395.8" x2="630.28" y2="493.49" stroke="#000" stroke-width="2"/>
<polygon points="622.70,512.00 623.53,490.73 637.04,496.26" fill="#000"/>
<rect x="905.5" y="322.5" width="123.5" height="46.0" fill="#fff" stroke="#3a3a3a" stroke-width="2"/>
<text x="915.5" y="357.3" style="font-family:'Liberation Sans',sans-serif;font-size:32px">220 Cu</text>
<line x1="959.8" y1="369" x2="959.80" y2="502.40" stroke="#000" stroke-width="2"/>
<polygon points="959.80,522.40 952.50,502.40 967.10,502.40" fill="#000"/>
<line x1="1199.3" y1="460" x2="1199.3" y2="678" stroke="#4a0606" stroke-width="3"/>
<polygon points="1199.3,704.8 1188.7,675 1209.8,675" fill="#6a0000" stroke="#3a0000" stroke-width="1"/>
<line x1="1199.3" y1="727.2" x2="1199.3" y2="815" stroke="#4a0606" stroke-width="3"/>
<polygon points="1199.3,842 1189.5,812.3 1210,812.3" fill="#6a0000" stroke="#3a0000" stroke-width="1"/>
<g transform="translate(1252.7,638.4) rotate(-90)" style="font-family:'Liberation Sans',sans-serif"><text x="0" y="0" style="font-size:31.5px">1</text><text x="18.2" y="-16.5" style="font-size:18px">st</text><text x="40.5" y="0" style="font-size:31.5px">cycle</text></g>
<g transform="translate(1252.7,844.5) rotate(-90)" style="font-family:'Liberation Sans',sans-serif"><text x="-0.5" y="0" style="font-size:33px">2</text><text x="21.5" y="-18" style="font-size:18.5px">nd</text><text x="51.5" y="0" style="font-size:31.5px">cycle</text></g>
<rect x="514.5" y="11.5" width="764" height="257" fill="#000"/>
<rect x="504" y="1" width="763.5" height="256.5" fill="#fff" stroke="#5f6464" stroke-width="2.2"/>
<line x1="536" y1="31.25" x2="608" y2="31.25" stroke="#0000a8" stroke-width="2.2"/>
<text x="503.5" y="45.5" style="font-family:'Liberation Serif',serif;font-size:34px">(a)</text>
<text x="659.0" y="42.5" style="font-family:'Liberation Sans',sans-serif;font-size:31.6px">Cu<tspan dy="12.5" style="font-size:18px">3</tspan><tspan dy="-12.5" dx="1.0">B</tspan><tspan dy="12.5" style="font-size:18px">2</tspan><tspan dy="-12.5" dx="1.0">O</tspan><tspan dy="12.5" style="font-size:18px">6</tspan></text>
<text x="804.5" y="42.5" style="font-family:'Liberation Sans',sans-serif;font-size:31.6px">(initial state)</text>
<line x1="536" y1="81.25" x2="608" y2="81.25" stroke="#ff0a0a" stroke-width="2.2"/>
<text x="503.5" y="95.5" style="font-family:'Liberation Serif',serif;font-size:34px">(b)</text>
<text x="615.5" y="92.5" style="font-family:'Liberation Sans',sans-serif;font-size:31.6px">"Li<tspan dy="12.5" style="font-size:18px">3</tspan><tspan dy="-12.5" dx="0.8">Cu</tspan><tspan dy="12.5" style="font-size:18px">3</tspan><tspan dy="-12.5" dx="1.0">B</tspan><tspan dy="12.5" style="font-size:18px">2</tspan><tspan dy="-12.5" dx="1.0">O</tspan><tspan dy="12.5" style="font-size:18px">6</tspan><tspan dy="-12.5" dx="1.0">"</tspan></text>
<text x="802" y="92.5" style="font-family:'Liberation Sans',sans-serif;font-size:31.6px">(half discharged)</text>
<line x1="536" y1="130.75" x2="608" y2="130.75" stroke="#2233ee" stroke-width="2.2"/>
<text x="503.5" y="145.0" style="font-family:'Liberation Serif',serif;font-size:34px">(c)</text>
<text x="615.5" y="142.0" style="font-family:'Liberation Sans',sans-serif;font-size:31.6px">"Li<tspan dy="12.5" style="font-size:18px">6</tspan><tspan dy="-12.5" dx="0.8">Cu</tspan><tspan dy="12.5" style="font-size:18px">3</tspan><tspan dy="-12.5" dx="1.0">B</tspan><tspan dy="12.5" style="font-size:18px">2</tspan><tspan dy="-12.5" dx="1.0">O</tspan><tspan dy="12.5" style="font-size:18px">6</tspan><tspan dy="-12.5" dx="1.0">"</tspan></text>
<text x="802" y="142.0" style="font-family:'Liberation Sans',sans-serif;font-size:31.6px">(fully discharged)</text>
<line x1="536" y1="180.25" x2="608" y2="180.25" stroke="#5533ee" stroke-width="2.2"/>
<text x="503.5" y="194.5" style="font-family:'Liberation Serif',serif;font-size:34px">(d)</text>
<text x="615.5" y="191.5" style="font-family:'Liberation Sans',sans-serif;font-size:31.6px">"Li<tspan dy="12.5" style="font-size:18px">3</tspan><tspan dy="-12.5" dx="0.8">Cu</tspan><tspan dy="12.5" style="font-size:18px">3</tspan><tspan dy="-12.5" dx="1.0">B</tspan><tspan dy="12.5" style="font-size:18px">2</tspan><tspan dy="-12.5" dx="1.0">O</tspan><tspan dy="12.5" style="font-size:18px">6</tspan><tspan dy="-12.5" dx="1.0">"</tspan></text>
<text x="801" y="191.5" style="font-family:'Liberation Sans',sans-serif;font-size:31.6px">(fully charged - end of first cycle)</text>
<line x1="536" y1="229.75" x2="608" y2="229.75" stroke="#129912" stroke-width="2.2"/>
<text x="503.5" y="244.0" style="font-family:'Liberation Serif',serif;font-size:34px">(e)</text>
<text x="615.5" y="241.0" style="font-family:'Liberation Sans',sans-serif;font-size:31.6px">"Li<tspan dy="12.5" style="font-size:18px">6</tspan><tspan dy="-12.5" dx="0.8">Cu</tspan><tspan dy="12.5" style="font-size:18px">3</tspan><tspan dy="-12.5" dx="1.0">B</tspan><tspan dy="12.5" style="font-size:18px">2</tspan><tspan dy="-12.5" dx="1.0">O</tspan><tspan dy="12.5" style="font-size:18px">6</tspan><tspan dy="-12.5" dx="1.0">"</tspan></text>
<text x="801" y="241.0" style="font-family:'Liberation Sans',sans-serif;font-size:31.6px">(fully discharged - second cycle)</text>
</g>
</svg></body></html>
